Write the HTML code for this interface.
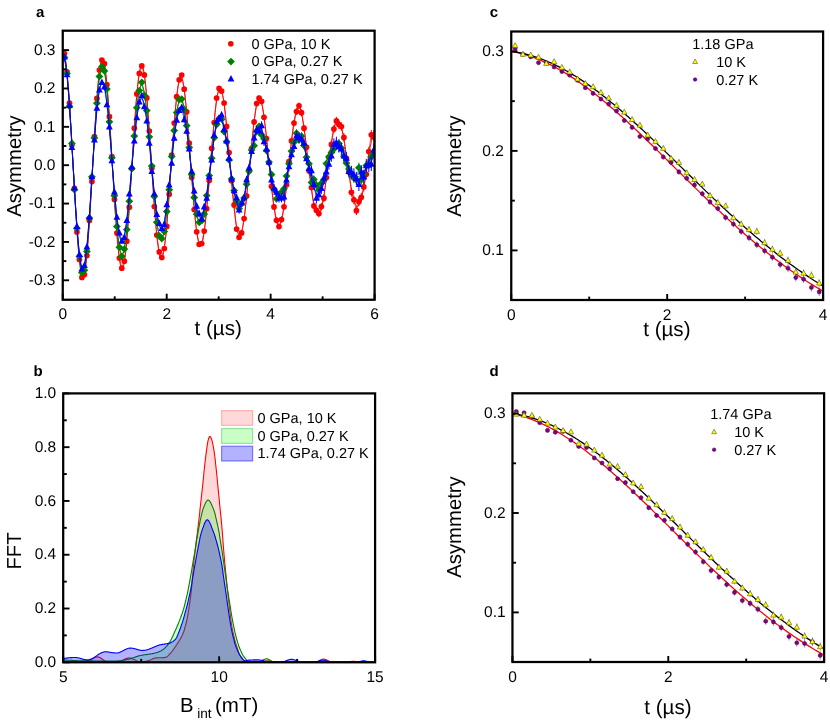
<!DOCTYPE html>
<html lang="en"><head><meta charset="utf-8"><title>muSR figure</title>
<style>html,body{margin:0;padding:0;background:#fff;}svg{display:block;will-change:transform;}text{font-family:"Liberation Sans",sans-serif;text-rendering:geometricPrecision;}</style></head>
<body>
<svg width="830" height="722" viewBox="0 0 830 722" font-family="Liberation Sans, sans-serif" fill="#000">
<rect width="830" height="722" fill="#fff"/>
<clipPath id="ca"><rect x="62.75" y="30.7" width="311.85" height="269.05"/></clipPath>
<g clip-path="url(#ca)">
<polyline points="64.5,53.6 67.0,71.8 69.5,103.2 71.9,145.0 74.4,188.3 76.9,231.9 79.4,259.5 81.9,277.4 84.4,274.6 86.9,255.6 89.4,220.6 91.9,181.6 94.4,136.6 96.9,98.4 99.4,70.0 101.9,60.0 104.4,63.7 106.9,84.7 109.4,116.7 111.9,156.5 114.4,199.4 116.9,233.0 119.4,258.0 121.8,268.2 124.3,261.2 126.8,241.2 129.3,207.2 131.8,168.5 134.3,128.2 136.8,93.9 139.3,73.4 141.8,65.9 144.3,74.9 146.8,97.9 149.3,131.0 151.8,168.3 154.3,206.6 156.8,235.1 159.3,251.9 161.8,257.5 164.3,248.5 166.8,226.4 169.2,194.2 171.7,155.1 174.2,123.0 176.7,96.7 179.2,79.8 181.7,75.0 184.2,89.2 186.7,111.8 189.2,143.2 191.7,177.6 194.2,209.5 196.7,231.8 199.2,244.3 201.7,243.5 204.2,231.1 206.7,208.7 209.2,180.6 211.7,148.4 214.2,122.5 216.6,98.0 219.1,88.4 221.6,91.1 224.1,103.0 226.6,126.4 229.1,152.5 231.6,180.7 234.1,204.9 236.6,229.1 239.1,237.3 241.6,232.9 244.1,218.6 246.6,196.0 249.1,170.9 251.6,148.5 254.1,121.9 256.6,103.6 259.1,98.2 261.6,101.3 264.0,117.3 266.5,138.5 269.0,162.5 271.5,186.3 274.0,206.9 276.5,220.3 279.0,226.5 281.5,219.5 284.0,206.8 286.5,184.8 289.0,161.5 291.5,140.9 294.0,123.1 296.5,111.6 299.0,105.8 301.5,112.7 304.0,128.2 306.5,147.2 309.0,170.7 311.5,187.5 313.9,205.9 316.4,210.3 318.9,213.6 321.4,206.6 323.9,198.2 326.4,177.6 328.9,157.2 331.4,144.4 333.9,129.1 336.4,120.9 338.9,124.6 341.4,126.5 343.9,137.4 346.4,158.4 348.9,171.9 351.4,192.3 353.9,199.8 356.4,210.7 358.9,201.7 361.3,197.3 363.8,186.9 366.3,174.3 368.8,151.5 371.3,134.8 373.8,137.1" fill="none" stroke="#ff0000" stroke-width="0.7" stroke-linejoin="round"/>
<polyline points="62.8,53.6 63.3,53.1 63.8,53.4 64.3,54.4 64.8,56.2 65.3,58.8 65.9,62.1 66.4,66.1 66.9,70.9 67.4,76.2 67.9,82.2 68.5,88.8 69.0,96.0 69.5,103.6 70.0,111.6 70.5,120.0 71.1,128.8 71.6,137.8 72.1,147.0 72.6,156.3 73.1,165.7 73.7,175.0 74.2,184.4 74.7,193.5 75.2,202.5 75.7,211.3 76.3,219.7 76.8,227.7 77.3,235.3 77.8,242.5 78.3,249.0 78.9,255.1 79.4,260.4 79.9,265.2 80.4,269.2 80.9,272.5 81.5,275.1 82.0,276.9 82.5,277.9 83.0,278.2 83.5,277.6 84.1,276.3 84.6,274.1 85.1,271.2 85.6,267.6 86.1,263.2 86.7,258.2 87.2,252.5 87.7,246.2 88.2,239.4 88.7,232.0 89.3,224.3 89.8,216.1 90.3,207.6 90.8,198.8 91.3,189.8 91.9,180.7 92.4,171.6 92.9,162.4 93.4,153.2 93.9,144.2 94.5,135.4 95.0,126.8 95.5,118.5 96.0,110.6 96.5,103.1 97.1,96.0 97.6,89.5 98.1,83.5 98.6,78.0 99.1,73.2 99.7,69.0 100.2,65.6 100.7,62.7 101.2,60.6 101.7,59.3 102.3,58.6 102.8,58.7 103.3,59.5 103.8,61.0 104.3,63.2 104.8,66.2 105.4,69.8 105.9,74.1 106.4,79.0 106.9,84.4 107.4,90.5 108.0,97.0 108.5,104.0 109.0,111.4 109.5,119.1 110.0,127.2 110.6,135.5 111.1,144.1 111.6,152.7 112.1,161.4 112.6,170.2 113.2,178.9 113.7,187.4 114.2,195.9 114.7,204.1 115.2,212.0 115.8,219.6 116.3,226.8 116.8,233.5 117.3,239.8 117.8,245.5 118.4,250.7 118.9,255.3 119.4,259.3 119.9,262.5 120.4,265.2 121.0,267.1 121.5,268.3 122.0,268.8 122.5,268.5 123.0,267.6 123.6,265.9 124.1,263.6 124.6,260.6 125.1,256.9 125.6,252.6 126.2,247.7 126.7,242.2 127.2,236.2 127.7,229.7 128.2,222.8 128.8,215.5 129.3,207.9 129.8,200.0 130.3,191.8 130.8,183.5 131.4,175.1 131.9,166.7 132.4,158.2 132.9,149.8 133.4,141.5 134.0,133.4 134.5,125.6 135.0,118.0 135.5,110.8 136.0,103.9 136.6,97.5 137.1,91.6 137.6,86.2 138.1,81.4 138.6,77.2 139.2,73.6 139.7,70.6 140.2,68.3 140.7,66.6 141.2,65.7 141.8,65.5 142.3,65.9 142.8,67.0 143.3,68.8 143.8,71.3 144.4,74.5 144.9,78.2 145.4,82.6 145.9,87.5 146.4,92.9 146.9,98.8 147.5,105.2 148.0,111.9 148.5,119.0 149.0,126.4 149.5,134.0 150.1,141.9 150.6,149.8 151.1,157.9 151.6,165.9 152.1,173.9 152.7,181.9 153.2,189.7 153.7,197.2 154.2,204.6 154.7,211.6 155.3,218.3 155.8,224.6 156.3,230.5 156.8,235.9 157.3,240.7 157.9,245.1 158.4,248.9 158.9,252.0 159.4,254.6 159.9,256.6 160.5,257.9 161.0,258.6 161.5,258.6 162.0,258.0 162.5,256.7 163.1,254.9 163.6,252.4 164.1,249.3 164.6,245.6 165.1,241.4 165.7,236.7 166.2,231.5 166.7,225.9 167.2,219.8 167.7,213.4 168.3,206.7 168.8,199.7 169.3,192.5 169.8,185.2 170.3,177.7 170.9,170.1 171.4,162.6 171.9,155.0 172.4,147.6 172.9,140.3 173.5,133.2 174.0,126.4 174.5,119.8 175.0,113.6 175.5,107.7 176.1,102.3 176.6,97.3 177.1,92.8 177.6,88.8 178.1,85.4 178.7,82.5 179.2,80.2 179.7,78.5 180.2,77.4 180.7,77.0 181.3,77.1 181.8,77.9 182.3,79.3 182.8,81.2 183.3,83.8 183.9,86.9 184.4,90.5 184.9,94.7 185.4,99.3 185.9,104.3 186.5,109.8 187.0,115.6 187.5,121.7 188.0,128.1 188.5,134.7 189.0,141.5 189.6,148.4 190.1,155.4 190.6,162.5 191.1,169.5 191.6,176.4 192.2,183.2 192.7,189.9 193.2,196.3 193.7,202.5 194.2,208.5 194.8,214.1 195.3,219.3 195.8,224.1 196.3,228.5 196.8,232.5 197.4,235.9 197.9,238.9 198.4,241.3 198.9,243.3 199.4,244.7 200.0,245.5 200.5,245.8 201.0,245.5 201.5,244.7 202.0,243.3 202.6,241.5 203.1,239.1 203.6,236.1 204.1,232.8 204.6,228.9 205.2,224.6 205.7,220.0 206.2,214.9 206.7,209.6 207.2,203.9 207.8,198.0 208.3,191.9 208.8,185.6 209.3,179.1 209.8,172.6 210.4,166.1 210.9,159.5 211.4,153.0 211.9,146.6 212.4,140.4 213.0,134.3 213.5,128.5 214.0,122.9 214.5,117.6 215.0,112.7 215.6,108.2 216.1,104.0 216.6,100.3 217.1,97.1 217.6,94.3 218.2,92.1 218.7,90.3 219.2,89.1 219.7,88.4 220.2,88.3 220.8,88.7 221.3,89.6 221.8,91.1 222.3,93.1 222.8,95.5 223.4,98.5 223.9,101.9 224.4,105.7 224.9,110.0 225.4,114.6 226.0,119.5 226.5,124.7 227.0,130.2 227.5,135.9 228.0,141.7 228.6,147.7 229.1,153.8 229.6,159.9 230.1,166.0 230.6,172.1 231.1,178.0 231.7,183.9 232.2,189.6 232.7,195.1 233.2,200.4 233.7,205.3 234.3,210.0 234.8,214.4 235.3,218.4 235.8,222.0 236.3,225.2 236.9,227.9 237.4,230.3 237.9,232.1 238.4,233.6 238.9,234.5 239.5,235.0 240.0,235.0 240.5,234.5 241.0,233.5 241.5,232.1 242.1,230.2 242.6,227.9 243.1,225.2 243.6,222.1 244.1,218.5 244.7,214.6 245.2,210.4 245.7,205.9 246.2,201.1 246.7,196.1 247.3,190.9 247.8,185.5 248.3,179.9 248.8,174.3 249.3,168.7 249.9,163.0 250.4,157.3 250.9,151.8 251.4,146.3 251.9,140.9 252.5,135.8 253.0,130.8 253.5,126.2 254.0,121.7 254.5,117.6 255.1,113.9 255.6,110.5 256.1,107.5 256.6,104.9 257.1,102.7 257.7,101.0 258.2,99.8 258.7,98.9 259.2,98.6 259.7,98.7 260.3,99.3 260.8,100.4 261.3,101.9 261.8,103.9 262.3,106.2 262.9,109.0 263.4,112.2 263.9,115.7 264.4,119.6 264.9,123.7 265.5,128.1 266.0,132.7 266.5,137.6 267.0,142.5 267.5,147.7 268.1,152.9 268.6,158.1 269.1,163.4 269.6,168.6 270.1,173.8 270.6,178.8 271.2,183.8 271.7,188.6 272.2,193.2 272.7,197.5 273.2,201.7 273.8,205.5 274.3,209.1 274.8,212.3 275.3,215.2 275.8,217.8 276.4,219.9 276.9,221.7 277.4,223.2 277.9,224.2 278.4,224.8 279.0,225.0 279.5,224.9 280.0,224.3 280.5,223.3 281.0,221.9 281.6,220.1 282.1,218.0 282.6,215.5 283.1,212.6 283.6,209.5 284.2,206.0 284.7,202.2 285.2,198.2 285.7,194.0 286.2,189.6 286.8,185.0 287.3,180.3 287.8,175.5 288.3,170.6 288.8,165.6 289.4,160.7 289.9,155.8 290.4,151.0 290.9,146.3 291.4,141.7 292.0,137.3 292.5,133.1 293.0,129.1 293.5,125.4 294.0,121.9 294.6,118.8 295.1,116.0 295.6,113.5 296.1,111.4 296.6,109.6 297.2,108.3 297.7,107.4 298.2,106.8 298.7,106.7 299.2,107.0 299.8,107.7 300.3,108.8 300.8,110.4 301.3,112.3 301.8,114.6 302.4,117.2 302.9,120.2 303.4,123.4 303.9,127.0 304.4,130.8 305.0,134.8 305.5,139.0 306.0,143.3 306.5,147.7 307.0,152.3 307.6,156.8 308.1,161.4 308.6,166.0 309.1,170.5 309.6,174.9 310.2,179.2 310.7,183.4 311.2,187.4 311.7,191.2 312.2,194.7 312.7,198.1 313.3,201.2 313.8,204.0 314.3,206.5 314.8,208.7 315.3,210.6 315.9,212.1 316.4,213.4 316.9,214.3 317.4,214.9 317.9,215.1 318.5,215.0 319.0,214.6 319.5,213.8 320.0,212.7 320.5,211.3 321.1,209.6 321.6,207.6 322.1,205.3 322.6,202.7 323.1,199.9 323.7,196.9 324.2,193.6 324.7,190.2 325.2,186.7 325.7,183.0 326.3,179.2 326.8,175.3 327.3,171.4 327.8,167.5 328.3,163.5 328.9,159.6 329.4,155.7 329.9,152.0 330.4,148.3 330.9,144.8 331.5,141.4 332.0,138.2 332.5,135.2 333.0,132.5 333.5,129.9 334.1,127.7 334.6,125.7 335.1,123.9 335.6,122.5 336.1,121.4 336.7,120.6 337.2,120.1 337.7,119.9 338.2,120.0 338.7,120.5 339.3,121.3 339.8,122.3 340.3,123.7 340.8,125.3 341.3,127.2 341.9,129.4 342.4,131.8 342.9,134.4 343.4,137.2 343.9,140.2 344.5,143.3 345.0,146.6 345.5,150.0 346.0,153.4 346.5,157.0 347.1,160.5 347.6,164.1 348.1,167.6 348.6,171.2 349.1,174.6 349.7,178.0 350.2,181.3 350.7,184.4 351.2,187.4 351.7,190.2 352.3,192.9 352.8,195.3 353.3,197.5 353.8,199.5 354.3,201.3 354.8,202.8 355.4,204.0 355.9,205.0 356.4,205.7 356.9,206.1 357.4,206.3 358.0,206.1 358.5,205.7 359.0,205.0 359.5,204.0 360.0,202.8 360.6,201.3 361.1,199.5 361.6,197.6 362.1,195.4 362.6,193.0 363.2,190.4 363.7,187.6 364.2,184.7 364.7,181.7 365.2,178.6 365.8,175.3 366.3,172.1 366.8,168.7 367.3,165.4 367.8,162.0 368.4,158.7 368.9,155.4 369.4,152.2 369.9,149.1 370.4,146.2 371.0,143.3 371.5,140.6 372.0,138.1 372.5,135.7 373.0,133.6 373.6,131.7 374.1,130.0 374.6,128.6" fill="none" stroke="#ff0000" stroke-width="0.95"/>
<path d="M141.8,64.3v3.2M144.3,73.3v3.2M146.8,96.3v3.3M149.3,129.3v3.3M151.8,166.7v3.4M154.3,204.9v3.4M156.8,233.3v3.4M159.3,250.2v3.5M161.8,255.7v3.5M164.3,246.7v3.6M166.8,224.6v3.6M169.2,192.4v3.7M171.7,153.3v3.7M174.2,121.1v3.7M176.7,94.8v3.8M179.2,77.8v3.8M181.7,73.0v3.9M184.2,87.3v3.9M186.7,109.8v4.0M189.2,141.1v4.0M191.7,175.5v4.1M194.2,207.5v4.1M196.7,229.7v4.2M199.2,242.2v4.2M201.7,241.3v4.3M204.2,229.0v4.3M206.7,206.5v4.4M209.2,178.4v4.4M211.7,146.2v4.5M214.2,120.2v4.5M216.6,95.7v4.6M219.1,86.1v4.6M221.6,88.7v4.7M224.1,100.6v4.8M226.6,124.0v4.8M229.1,150.0v4.9M231.6,178.3v4.9M234.1,202.4v5.0M236.6,226.5v5.1M239.1,234.7v5.1M241.6,230.3v5.2M244.1,216.0v5.2M246.6,193.4v5.3M249.1,168.2v5.4M251.6,145.8v5.4M254.1,119.2v5.5M256.6,100.8v5.6M259.1,95.4v5.6M261.6,98.5v5.7M264.0,114.4v5.8M266.5,135.5v5.8M269.0,159.5v5.9M271.5,183.3v6.0M274.0,203.9v6.1M276.5,217.2v6.1M279.0,223.4v6.2M281.5,216.4v6.3M284.0,203.6v6.4M286.5,181.6v6.4M289.0,158.2v6.5M291.5,137.6v6.6M294.0,119.8v6.7M296.5,108.2v6.7M299.0,102.4v6.8M301.5,109.3v6.9M304.0,124.7v7.0M306.5,143.6v7.1M309.0,167.1v7.2M311.5,183.9v7.2M313.9,202.2v7.3M316.4,206.6v7.4M318.9,209.8v7.5M321.4,202.8v7.6M323.9,194.4v7.7M326.4,173.7v7.8M328.9,153.2v7.9M331.4,140.4v8.0M333.9,125.0v8.1M336.4,116.8v8.2M338.9,120.5v8.3M341.4,122.3v8.4M343.9,133.1v8.5M346.4,154.2v8.6M348.9,167.5v8.7M351.4,187.9v8.8M353.9,195.4v8.9M356.4,206.2v9.0M358.9,197.1v9.1M361.3,192.7v9.2M363.8,182.2v9.3M366.3,169.5v9.4M368.8,146.8v9.5M371.3,130.0v9.7M373.8,132.2v9.8" stroke="#ff0000" stroke-width="1" fill="none"/>
<circle cx="64.5" cy="53.6" r="2.85" fill="#ff0000"/>
<circle cx="67.0" cy="71.8" r="2.85" fill="#ff0000"/>
<circle cx="69.5" cy="103.2" r="2.85" fill="#ff0000"/>
<circle cx="71.9" cy="145.0" r="2.85" fill="#ff0000"/>
<circle cx="74.4" cy="188.3" r="2.85" fill="#ff0000"/>
<circle cx="76.9" cy="231.9" r="2.85" fill="#ff0000"/>
<circle cx="79.4" cy="259.5" r="2.85" fill="#ff0000"/>
<circle cx="81.9" cy="277.4" r="2.85" fill="#ff0000"/>
<circle cx="84.4" cy="274.6" r="2.85" fill="#ff0000"/>
<circle cx="86.9" cy="255.6" r="2.85" fill="#ff0000"/>
<circle cx="89.4" cy="220.6" r="2.85" fill="#ff0000"/>
<circle cx="91.9" cy="181.6" r="2.85" fill="#ff0000"/>
<circle cx="94.4" cy="136.6" r="2.85" fill="#ff0000"/>
<circle cx="96.9" cy="98.4" r="2.85" fill="#ff0000"/>
<circle cx="99.4" cy="70.0" r="2.85" fill="#ff0000"/>
<circle cx="101.9" cy="60.0" r="2.85" fill="#ff0000"/>
<circle cx="104.4" cy="63.7" r="2.85" fill="#ff0000"/>
<circle cx="106.9" cy="84.7" r="2.85" fill="#ff0000"/>
<circle cx="109.4" cy="116.7" r="2.85" fill="#ff0000"/>
<circle cx="111.9" cy="156.5" r="2.85" fill="#ff0000"/>
<circle cx="114.4" cy="199.4" r="2.85" fill="#ff0000"/>
<circle cx="116.9" cy="233.0" r="2.85" fill="#ff0000"/>
<circle cx="119.4" cy="258.0" r="2.85" fill="#ff0000"/>
<circle cx="121.8" cy="268.2" r="2.85" fill="#ff0000"/>
<circle cx="124.3" cy="261.2" r="2.85" fill="#ff0000"/>
<circle cx="126.8" cy="241.2" r="2.85" fill="#ff0000"/>
<circle cx="129.3" cy="207.2" r="2.85" fill="#ff0000"/>
<circle cx="131.8" cy="168.5" r="2.85" fill="#ff0000"/>
<circle cx="134.3" cy="128.2" r="2.85" fill="#ff0000"/>
<circle cx="136.8" cy="93.9" r="2.85" fill="#ff0000"/>
<circle cx="139.3" cy="73.4" r="2.85" fill="#ff0000"/>
<circle cx="141.8" cy="65.9" r="2.85" fill="#ff0000"/>
<circle cx="144.3" cy="74.9" r="2.85" fill="#ff0000"/>
<circle cx="146.8" cy="97.9" r="2.85" fill="#ff0000"/>
<circle cx="149.3" cy="131.0" r="2.85" fill="#ff0000"/>
<circle cx="151.8" cy="168.3" r="2.85" fill="#ff0000"/>
<circle cx="154.3" cy="206.6" r="2.85" fill="#ff0000"/>
<circle cx="156.8" cy="235.1" r="2.85" fill="#ff0000"/>
<circle cx="159.3" cy="251.9" r="2.85" fill="#ff0000"/>
<circle cx="161.8" cy="257.5" r="2.85" fill="#ff0000"/>
<circle cx="164.3" cy="248.5" r="2.85" fill="#ff0000"/>
<circle cx="166.8" cy="226.4" r="2.85" fill="#ff0000"/>
<circle cx="169.2" cy="194.2" r="2.85" fill="#ff0000"/>
<circle cx="171.7" cy="155.1" r="2.85" fill="#ff0000"/>
<circle cx="174.2" cy="123.0" r="2.85" fill="#ff0000"/>
<circle cx="176.7" cy="96.7" r="2.85" fill="#ff0000"/>
<circle cx="179.2" cy="79.8" r="2.85" fill="#ff0000"/>
<circle cx="181.7" cy="75.0" r="2.85" fill="#ff0000"/>
<circle cx="184.2" cy="89.2" r="2.85" fill="#ff0000"/>
<circle cx="186.7" cy="111.8" r="2.85" fill="#ff0000"/>
<circle cx="189.2" cy="143.2" r="2.85" fill="#ff0000"/>
<circle cx="191.7" cy="177.6" r="2.85" fill="#ff0000"/>
<circle cx="194.2" cy="209.5" r="2.85" fill="#ff0000"/>
<circle cx="196.7" cy="231.8" r="2.85" fill="#ff0000"/>
<circle cx="199.2" cy="244.3" r="2.85" fill="#ff0000"/>
<circle cx="201.7" cy="243.5" r="2.85" fill="#ff0000"/>
<circle cx="204.2" cy="231.1" r="2.85" fill="#ff0000"/>
<circle cx="206.7" cy="208.7" r="2.85" fill="#ff0000"/>
<circle cx="209.2" cy="180.6" r="2.85" fill="#ff0000"/>
<circle cx="211.7" cy="148.4" r="2.85" fill="#ff0000"/>
<circle cx="214.2" cy="122.5" r="2.85" fill="#ff0000"/>
<circle cx="216.6" cy="98.0" r="2.85" fill="#ff0000"/>
<circle cx="219.1" cy="88.4" r="2.85" fill="#ff0000"/>
<circle cx="221.6" cy="91.1" r="2.85" fill="#ff0000"/>
<circle cx="224.1" cy="103.0" r="2.85" fill="#ff0000"/>
<circle cx="226.6" cy="126.4" r="2.85" fill="#ff0000"/>
<circle cx="229.1" cy="152.5" r="2.85" fill="#ff0000"/>
<circle cx="231.6" cy="180.7" r="2.85" fill="#ff0000"/>
<circle cx="234.1" cy="204.9" r="2.85" fill="#ff0000"/>
<circle cx="236.6" cy="229.1" r="2.85" fill="#ff0000"/>
<circle cx="239.1" cy="237.3" r="2.85" fill="#ff0000"/>
<circle cx="241.6" cy="232.9" r="2.85" fill="#ff0000"/>
<circle cx="244.1" cy="218.6" r="2.85" fill="#ff0000"/>
<circle cx="246.6" cy="196.0" r="2.85" fill="#ff0000"/>
<circle cx="249.1" cy="170.9" r="2.85" fill="#ff0000"/>
<circle cx="251.6" cy="148.5" r="2.85" fill="#ff0000"/>
<circle cx="254.1" cy="121.9" r="2.85" fill="#ff0000"/>
<circle cx="256.6" cy="103.6" r="2.85" fill="#ff0000"/>
<circle cx="259.1" cy="98.2" r="2.85" fill="#ff0000"/>
<circle cx="261.6" cy="101.3" r="2.85" fill="#ff0000"/>
<circle cx="264.0" cy="117.3" r="2.85" fill="#ff0000"/>
<circle cx="266.5" cy="138.5" r="2.85" fill="#ff0000"/>
<circle cx="269.0" cy="162.5" r="2.85" fill="#ff0000"/>
<circle cx="271.5" cy="186.3" r="2.85" fill="#ff0000"/>
<circle cx="274.0" cy="206.9" r="2.85" fill="#ff0000"/>
<circle cx="276.5" cy="220.3" r="2.85" fill="#ff0000"/>
<circle cx="279.0" cy="226.5" r="2.85" fill="#ff0000"/>
<circle cx="281.5" cy="219.5" r="2.85" fill="#ff0000"/>
<circle cx="284.0" cy="206.8" r="2.85" fill="#ff0000"/>
<circle cx="286.5" cy="184.8" r="2.85" fill="#ff0000"/>
<circle cx="289.0" cy="161.5" r="2.85" fill="#ff0000"/>
<circle cx="291.5" cy="140.9" r="2.85" fill="#ff0000"/>
<circle cx="294.0" cy="123.1" r="2.85" fill="#ff0000"/>
<circle cx="296.5" cy="111.6" r="2.85" fill="#ff0000"/>
<circle cx="299.0" cy="105.8" r="2.85" fill="#ff0000"/>
<circle cx="301.5" cy="112.7" r="2.85" fill="#ff0000"/>
<circle cx="304.0" cy="128.2" r="2.85" fill="#ff0000"/>
<circle cx="306.5" cy="147.2" r="2.85" fill="#ff0000"/>
<circle cx="309.0" cy="170.7" r="2.85" fill="#ff0000"/>
<circle cx="311.5" cy="187.5" r="2.85" fill="#ff0000"/>
<circle cx="313.9" cy="205.9" r="2.85" fill="#ff0000"/>
<circle cx="316.4" cy="210.3" r="2.85" fill="#ff0000"/>
<circle cx="318.9" cy="213.6" r="2.85" fill="#ff0000"/>
<circle cx="321.4" cy="206.6" r="2.85" fill="#ff0000"/>
<circle cx="323.9" cy="198.2" r="2.85" fill="#ff0000"/>
<circle cx="326.4" cy="177.6" r="2.85" fill="#ff0000"/>
<circle cx="328.9" cy="157.2" r="2.85" fill="#ff0000"/>
<circle cx="331.4" cy="144.4" r="2.85" fill="#ff0000"/>
<circle cx="333.9" cy="129.1" r="2.85" fill="#ff0000"/>
<circle cx="336.4" cy="120.9" r="2.85" fill="#ff0000"/>
<circle cx="338.9" cy="124.6" r="2.85" fill="#ff0000"/>
<circle cx="341.4" cy="126.5" r="2.85" fill="#ff0000"/>
<circle cx="343.9" cy="137.4" r="2.85" fill="#ff0000"/>
<circle cx="346.4" cy="158.4" r="2.85" fill="#ff0000"/>
<circle cx="348.9" cy="171.9" r="2.85" fill="#ff0000"/>
<circle cx="351.4" cy="192.3" r="2.85" fill="#ff0000"/>
<circle cx="353.9" cy="199.8" r="2.85" fill="#ff0000"/>
<circle cx="356.4" cy="210.7" r="2.85" fill="#ff0000"/>
<circle cx="358.9" cy="201.7" r="2.85" fill="#ff0000"/>
<circle cx="361.3" cy="197.3" r="2.85" fill="#ff0000"/>
<circle cx="363.8" cy="186.9" r="2.85" fill="#ff0000"/>
<circle cx="366.3" cy="174.3" r="2.85" fill="#ff0000"/>
<circle cx="368.8" cy="151.5" r="2.85" fill="#ff0000"/>
<circle cx="371.3" cy="134.8" r="2.85" fill="#ff0000"/>
<circle cx="373.8" cy="137.1" r="2.85" fill="#ff0000"/>
<polyline points="64.5,57.4 67.0,73.6 69.5,106.3 71.9,143.4 74.4,189.7 76.9,228.3 79.4,256.4 81.9,272.6 84.4,270.2 86.9,251.4 89.4,218.1 91.9,176.8 94.4,137.9 96.9,103.2 99.4,76.4 101.9,66.7 104.4,70.9 106.9,89.1 109.4,121.8 111.9,157.8 114.4,195.8 116.9,226.5 119.4,247.2 121.8,256.3 124.3,249.1 126.8,229.6 129.3,201.2 131.8,168.5 134.3,136.1 136.8,107.7 139.3,90.6 141.8,82.3 144.3,95.3 146.8,110.6 149.3,136.8 151.8,166.0 154.3,196.6 156.8,222.3 159.3,236.0 161.8,238.6 164.3,231.4 166.8,211.5 169.2,189.8 171.7,156.6 174.2,130.6 176.7,112.6 179.2,99.6 181.7,99.1 184.2,109.4 186.7,125.7 189.2,147.5 191.7,174.7 194.2,197.5 196.7,214.2 199.2,222.3 201.7,220.5 204.2,214.0 206.7,195.6 209.2,175.6 211.7,158.2 214.2,137.8 216.6,124.6 219.1,118.5 221.6,119.2 224.1,131.7 226.6,141.6 229.1,159.9 231.6,178.9 234.1,190.6 236.6,201.1 239.1,208.5 241.6,203.7 244.1,198.0 246.6,184.2 249.1,171.1 251.6,150.1 254.1,145.7 256.6,131.5 259.1,126.5 261.6,134.9 264.0,138.8 266.5,150.4 269.0,162.1 271.5,174.5 274.0,189.3 276.5,198.8 279.0,194.6 281.5,192.1 284.0,188.8 286.5,176.1 289.0,163.7 291.5,151.2 294.0,142.3 296.5,133.2 299.0,139.9 301.5,136.2 304.0,145.6 306.5,157.2 309.0,163.8 311.5,182.4 313.9,179.4 316.4,185.2 318.9,190.2 321.4,183.2 323.9,179.8 326.4,163.6 328.9,156.9 331.4,152.4 333.9,149.1 336.4,144.7 338.9,143.6 341.4,148.2 343.9,156.2 346.4,163.1 348.9,169.1 351.4,174.7 353.9,178.0 356.4,179.8 358.9,167.7 361.3,179.8 363.8,174.9 366.3,165.5 368.8,163.7 371.3,156.8 373.8,152.3" fill="none" stroke="#008000" stroke-width="0.7" stroke-linejoin="round"/>
<polyline points="62.8,55.6 63.3,55.1 63.8,55.4 64.3,56.5 64.8,58.4 65.3,61.0 65.9,64.3 66.4,68.3 66.9,73.0 67.4,78.3 67.9,84.3 68.5,90.7 69.0,97.7 69.5,105.2 70.0,113.1 70.5,121.3 71.1,129.8 71.6,138.6 72.1,147.5 72.6,156.6 73.1,165.6 73.7,174.7 74.2,183.7 74.7,192.6 75.2,201.2 75.7,209.6 76.3,217.6 76.8,225.3 77.3,232.6 77.8,239.4 78.3,245.6 78.9,251.3 79.4,256.3 79.9,260.8 80.4,264.5 80.9,267.6 81.5,269.9 82.0,271.6 82.5,272.4 83.0,272.6 83.5,272.0 84.1,270.6 84.6,268.5 85.1,265.7 85.6,262.2 86.1,258.0 86.7,253.2 87.2,247.7 87.7,241.8 88.2,235.3 88.7,228.3 89.3,220.9 89.8,213.2 90.3,205.2 90.8,196.9 91.3,188.4 91.9,179.8 92.4,171.2 92.9,162.5 93.4,153.9 93.9,145.4 94.5,137.1 95.0,129.1 95.5,121.3 96.0,113.8 96.5,106.8 97.1,100.2 97.6,94.1 98.1,88.5 98.6,83.4 99.1,78.9 99.7,75.1 100.2,71.9 100.7,69.4 101.2,67.5 101.7,66.3 102.3,65.8 102.8,66.0 103.3,66.9 103.8,68.4 104.3,70.6 104.8,73.5 105.4,77.0 105.9,81.1 106.4,85.7 106.9,90.9 107.4,96.5 108.0,102.7 108.5,109.2 109.0,116.0 109.5,123.2 110.0,130.6 110.6,138.3 111.1,146.0 111.6,153.9 112.1,161.8 112.6,169.7 113.2,177.5 113.7,185.2 114.2,192.7 114.7,200.0 115.2,206.9 115.8,213.6 116.3,219.9 116.8,225.8 117.3,231.2 117.8,236.2 118.4,240.6 118.9,244.5 119.4,247.8 119.9,250.5 120.4,252.6 121.0,254.1 121.5,255.0 122.0,255.2 122.5,254.8 123.0,253.8 123.6,252.2 124.1,250.0 124.6,247.2 125.1,243.9 125.6,240.0 126.2,235.7 126.7,230.8 127.2,225.6 127.7,220.0 128.2,214.0 128.8,207.7 129.3,201.2 129.8,194.4 130.3,187.6 130.8,180.5 131.4,173.5 131.9,166.4 132.4,159.4 132.9,152.4 133.4,145.6 134.0,139.0 134.5,132.5 135.0,126.4 135.5,120.5 136.0,115.0 136.6,109.9 137.1,105.2 137.6,100.9 138.1,97.1 138.6,93.8 139.2,91.0 139.7,88.7 140.2,87.0 140.7,85.8 141.2,85.1 141.8,85.0 142.3,85.5 142.8,86.4 143.3,88.0 143.8,90.0 144.4,92.6 144.9,95.6 145.4,99.1 145.9,103.1 146.4,107.4 146.9,112.2 147.5,117.3 148.0,122.7 148.5,128.3 149.0,134.2 149.5,140.3 150.1,146.6 150.6,152.9 151.1,159.3 151.6,165.8 152.1,172.2 152.7,178.5 153.2,184.7 153.7,190.8 154.2,196.7 154.7,202.3 155.3,207.6 155.8,212.7 156.3,217.3 156.8,221.6 157.3,225.5 157.9,229.0 158.4,232.0 158.9,234.5 159.4,236.6 159.9,238.1 160.5,239.1 161.0,239.6 161.5,239.6 162.0,239.0 162.5,238.0 163.1,236.4 163.6,234.4 164.1,231.9 164.6,228.9 165.1,225.5 165.7,221.7 166.2,217.5 166.7,213.0 167.2,208.2 167.7,203.1 168.3,197.8 168.8,192.3 169.3,186.6 169.8,180.8 170.3,174.9 170.9,169.0 171.4,163.1 171.9,157.3 172.4,151.6 172.9,145.9 173.5,140.5 174.0,135.2 174.5,130.2 175.0,125.5 175.5,121.0 176.1,116.9 176.6,113.2 177.1,109.8 177.6,106.9 178.1,104.3 178.7,102.2 179.2,100.6 179.7,99.4 180.2,98.7 180.7,98.4 181.3,98.6 181.8,99.3 182.3,100.4 182.8,101.9 183.3,103.9 183.9,106.3 184.4,109.1 184.9,112.2 185.4,115.7 185.9,119.5 186.5,123.6 187.0,128.0 187.5,132.6 188.0,137.4 188.5,142.4 189.0,147.5 189.6,152.7 190.1,157.9 190.6,163.1 191.1,168.4 191.6,173.6 192.2,178.6 192.7,183.6 193.2,188.4 193.7,193.0 194.2,197.4 194.8,201.5 195.3,205.3 195.8,208.9 196.3,212.1 196.8,214.9 197.4,217.4 197.9,219.5 198.4,221.2 198.9,222.5 199.4,223.4 200.0,223.9 200.5,224.0 201.0,223.6 201.5,222.8 202.0,221.7 202.6,220.1 203.1,218.2 203.6,215.9 204.1,213.3 204.6,210.3 205.2,207.1 205.7,203.6 206.2,199.9 206.7,196.0 207.2,191.9 207.8,187.7 208.3,183.4 208.8,179.0 209.3,174.6 209.8,170.2 210.4,165.8 210.9,161.4 211.4,157.2 211.9,153.0 212.4,149.0 213.0,145.1 213.5,141.5 214.0,138.0 214.5,134.8 215.0,131.8 215.6,129.1 216.1,126.7 216.6,124.5 217.1,122.7 217.6,121.1 218.2,119.9 218.7,119.0 219.2,118.4 219.7,118.1 220.2,118.1 220.8,118.5 221.3,119.1 221.8,120.1 222.3,121.4 222.8,122.9 223.4,124.8 223.9,126.9 224.4,129.2 224.9,131.8 225.4,134.6 226.0,137.6 226.5,140.7 227.0,144.0 227.5,147.5 228.0,151.0 228.6,154.6 229.1,158.3 229.6,162.0 230.1,165.7 230.6,169.4 231.1,173.0 231.7,176.5 232.2,180.0 232.7,183.3 233.2,186.5 233.7,189.6 234.3,192.4 234.8,195.1 235.3,197.5 235.8,199.7 236.3,201.6 236.9,203.3 237.4,204.7 237.9,205.8 238.4,206.6 238.9,207.2 239.5,207.4 240.0,207.4 240.5,207.0 241.0,206.4 241.5,205.4 242.1,204.3 242.6,202.8 243.1,201.1 243.6,199.1 244.1,197.0 244.7,194.6 245.2,192.0 245.7,189.3 246.2,186.4 246.7,183.4 247.3,180.3 247.8,177.1 248.3,173.8 248.8,170.5 249.3,167.2 249.9,163.9 250.4,160.6 250.9,157.4 251.4,154.3 251.9,151.2 252.5,148.3 253.0,145.5 253.5,142.9 254.0,140.4 254.5,138.1 255.1,136.0 255.6,134.2 256.1,132.6 256.6,131.2 257.1,130.0 257.7,129.1 258.2,128.5 258.7,128.1 259.2,128.0 259.7,128.1 260.3,128.5 260.8,129.1 261.3,130.0 261.8,131.1 262.3,132.5 262.9,134.1 263.4,135.8 263.9,137.8 264.4,139.9 264.9,142.2 265.5,144.7 266.0,147.3 266.5,149.9 267.0,152.7 267.5,155.5 268.1,158.4 268.6,161.3 269.1,164.2 269.6,167.1 270.1,169.9 270.6,172.7 271.2,175.4 271.7,178.1 272.2,180.6 272.7,183.0 273.2,185.3 273.8,187.4 274.3,189.3 274.8,191.1 275.3,192.7 275.8,194.1 276.4,195.2 276.9,196.2 277.4,196.9 277.9,197.5 278.4,197.7 279.0,197.8 279.5,197.7 280.0,197.3 280.5,196.7 281.0,195.9 281.6,194.9 282.1,193.7 282.6,192.3 283.1,190.7 283.6,189.0 284.2,187.1 284.7,185.0 285.2,182.9 285.7,180.6 286.2,178.2 286.8,175.7 287.3,173.2 287.8,170.6 288.3,168.0 288.8,165.4 289.4,162.8 289.9,160.3 290.4,157.7 290.9,155.3 291.4,152.9 292.0,150.6 292.5,148.4 293.0,146.3 293.5,144.4 294.0,142.6 294.6,141.0 295.1,139.6 295.6,138.4 296.1,137.4 296.6,136.5 297.2,135.9 297.7,135.5 298.2,135.3 298.7,135.3 299.2,135.5 299.8,136.0 300.3,136.6 300.8,137.5 301.3,138.6 301.8,139.9 302.4,141.3 302.9,142.9 303.4,144.6 303.9,146.5 304.4,148.4 305.0,150.4 305.5,152.6 306.0,154.7 306.5,156.9 307.0,159.1 307.6,161.3 308.1,163.4 308.6,165.6 309.1,167.6 309.6,169.6 310.2,171.6 310.7,173.4 311.2,175.2 311.7,176.8 312.2,178.4 312.7,179.8 313.3,181.1 313.8,182.3 314.3,183.3 314.8,184.2 315.3,185.0 315.9,185.7 316.4,186.2 316.9,186.6 317.4,186.9 317.9,187.0 318.5,187.1 319.0,186.9 319.5,186.7 320.0,186.3 320.5,185.7 321.1,185.0 321.6,184.2 322.1,183.2 322.6,182.2 323.1,181.0 323.7,179.6 324.2,178.2 324.7,176.7 325.2,175.1 325.7,173.5 326.3,171.7 326.8,169.9 327.3,168.1 327.8,166.3 328.3,164.4 328.9,162.5 329.4,160.7 329.9,158.8 330.4,157.0 330.9,155.3 331.5,153.6 332.0,152.0 332.5,150.5 333.0,149.1 333.5,147.7 334.1,146.6 334.6,145.5 335.1,144.6 335.6,143.8 336.1,143.1 336.7,142.7 337.2,142.4 337.7,142.2 338.2,142.2 338.7,142.4 339.3,142.8 339.8,143.5 340.3,144.2 340.8,145.2 341.3,146.3 341.9,147.6 342.4,148.9 342.9,150.4 343.4,151.9 343.9,153.5 344.5,155.1 345.0,156.8 345.5,158.5 346.0,160.1 346.5,161.7 347.1,163.3 347.6,164.7 348.1,166.2 348.6,167.5 349.1,168.8 349.7,169.9 350.2,171.0 350.7,171.9 351.2,172.8 351.7,173.5 352.3,174.2 352.8,174.8 353.3,175.2 353.8,175.6 354.3,175.9 354.8,176.2 355.4,176.4 355.9,176.5 356.4,176.6 356.9,176.7 357.4,176.7 358.0,176.7 358.5,176.6 359.0,176.4 359.5,176.1 360.0,175.8 360.6,175.4 361.1,174.9 361.6,174.4 362.1,173.7 362.6,173.1 363.2,172.3 363.7,171.6 364.2,170.8 364.7,169.9 365.2,169.0 365.8,168.1 366.3,167.2 366.8,166.2 367.3,165.2 367.8,164.3 368.4,163.3 368.9,162.4 369.4,161.5 369.9,160.6 370.4,159.7 371.0,158.9 371.5,158.1 372.0,157.4 372.5,156.7 373.0,156.1 373.6,155.5 374.1,155.1 374.6,154.6" fill="none" stroke="#008000" stroke-width="0.95"/>
<path d="M124.3,247.5v3.2M126.8,227.9v3.3M129.3,199.6v3.3M131.8,166.8v3.3M134.3,134.4v3.4M136.8,106.0v3.4M139.3,88.9v3.5M141.8,80.6v3.5M144.3,93.5v3.5M146.8,108.8v3.6M149.3,135.0v3.6M151.8,164.1v3.7M154.3,194.7v3.7M156.8,220.5v3.8M159.3,234.1v3.8M161.8,236.7v3.8M164.3,229.5v3.9M166.8,209.5v3.9M169.2,187.8v4.0M171.7,154.6v4.0M174.2,128.6v4.1M176.7,110.6v4.1M179.2,97.5v4.2M181.7,97.0v4.2M184.2,107.3v4.3M186.7,123.5v4.3M189.2,145.3v4.4M191.7,172.4v4.4M194.2,195.3v4.5M196.7,212.0v4.6M199.2,220.0v4.6M201.7,218.1v4.7M204.2,211.7v4.7M206.7,193.2v4.8M209.2,173.2v4.8M211.7,155.8v4.9M214.2,135.3v5.0M216.6,122.1v5.0M219.1,116.0v5.1M221.6,116.6v5.1M224.1,129.1v5.2M226.6,139.0v5.3M229.1,157.2v5.3M231.6,176.2v5.4M234.1,187.9v5.4M236.6,198.3v5.5M239.1,205.8v5.6M241.6,200.9v5.6M244.1,195.1v5.7M246.6,181.3v5.8M249.1,168.2v5.9M251.6,147.1v5.9M254.1,142.7v6.0M256.6,128.4v6.1M259.1,123.4v6.1M261.6,131.8v6.2M264.0,135.7v6.3M266.5,147.2v6.4M269.0,158.8v6.4M271.5,171.2v6.5M274.0,186.0v6.6M276.5,195.4v6.7M279.0,191.2v6.8M281.5,188.7v6.8M284.0,185.3v6.9M286.5,172.6v7.0M289.0,160.2v7.1M291.5,147.6v7.2M294.0,138.7v7.3M296.5,129.5v7.4M299.0,136.1v7.4M301.5,132.5v7.5M304.0,141.8v7.6M306.5,153.4v7.7M309.0,159.9v7.8M311.5,178.5v7.9M313.9,175.4v8.0M316.4,181.1v8.1M318.9,186.1v8.2M321.4,179.1v8.3M323.9,175.6v8.4M326.4,159.3v8.5M328.9,152.6v8.6M331.4,148.1v8.7M333.9,144.7v8.8M336.4,140.2v8.9M338.9,139.0v9.0M341.4,143.6v9.1M343.9,151.6v9.2M346.4,158.5v9.4M348.9,164.3v9.5M351.4,169.9v9.6M353.9,173.2v9.7M356.4,174.9v9.8M358.9,162.7v9.9M361.3,174.7v10.0M363.8,169.8v10.2M366.3,160.4v10.3M368.8,158.5v10.4M371.3,151.5v10.5M373.8,147.0v10.7" stroke="#008000" stroke-width="1" fill="none"/>
<path d="M64.5,53.5l3.9,3.9l-3.9,3.9l-3.9,-3.9z" fill="#008000"/>
<path d="M67.0,69.7l3.9,3.9l-3.9,3.9l-3.9,-3.9z" fill="#008000"/>
<path d="M69.5,102.4l3.9,3.9l-3.9,3.9l-3.9,-3.9z" fill="#008000"/>
<path d="M71.9,139.5l3.9,3.9l-3.9,3.9l-3.9,-3.9z" fill="#008000"/>
<path d="M74.4,185.8l3.9,3.9l-3.9,3.9l-3.9,-3.9z" fill="#008000"/>
<path d="M76.9,224.4l3.9,3.9l-3.9,3.9l-3.9,-3.9z" fill="#008000"/>
<path d="M79.4,252.5l3.9,3.9l-3.9,3.9l-3.9,-3.9z" fill="#008000"/>
<path d="M81.9,268.7l3.9,3.9l-3.9,3.9l-3.9,-3.9z" fill="#008000"/>
<path d="M84.4,266.3l3.9,3.9l-3.9,3.9l-3.9,-3.9z" fill="#008000"/>
<path d="M86.9,247.5l3.9,3.9l-3.9,3.9l-3.9,-3.9z" fill="#008000"/>
<path d="M89.4,214.2l3.9,3.9l-3.9,3.9l-3.9,-3.9z" fill="#008000"/>
<path d="M91.9,172.9l3.9,3.9l-3.9,3.9l-3.9,-3.9z" fill="#008000"/>
<path d="M94.4,134.0l3.9,3.9l-3.9,3.9l-3.9,-3.9z" fill="#008000"/>
<path d="M96.9,99.3l3.9,3.9l-3.9,3.9l-3.9,-3.9z" fill="#008000"/>
<path d="M99.4,72.5l3.9,3.9l-3.9,3.9l-3.9,-3.9z" fill="#008000"/>
<path d="M101.9,62.8l3.9,3.9l-3.9,3.9l-3.9,-3.9z" fill="#008000"/>
<path d="M104.4,67.0l3.9,3.9l-3.9,3.9l-3.9,-3.9z" fill="#008000"/>
<path d="M106.9,85.2l3.9,3.9l-3.9,3.9l-3.9,-3.9z" fill="#008000"/>
<path d="M109.4,117.9l3.9,3.9l-3.9,3.9l-3.9,-3.9z" fill="#008000"/>
<path d="M111.9,153.9l3.9,3.9l-3.9,3.9l-3.9,-3.9z" fill="#008000"/>
<path d="M114.4,191.9l3.9,3.9l-3.9,3.9l-3.9,-3.9z" fill="#008000"/>
<path d="M116.9,222.6l3.9,3.9l-3.9,3.9l-3.9,-3.9z" fill="#008000"/>
<path d="M119.4,243.3l3.9,3.9l-3.9,3.9l-3.9,-3.9z" fill="#008000"/>
<path d="M121.8,252.4l3.9,3.9l-3.9,3.9l-3.9,-3.9z" fill="#008000"/>
<path d="M124.3,245.2l3.9,3.9l-3.9,3.9l-3.9,-3.9z" fill="#008000"/>
<path d="M126.8,225.7l3.9,3.9l-3.9,3.9l-3.9,-3.9z" fill="#008000"/>
<path d="M129.3,197.3l3.9,3.9l-3.9,3.9l-3.9,-3.9z" fill="#008000"/>
<path d="M131.8,164.6l3.9,3.9l-3.9,3.9l-3.9,-3.9z" fill="#008000"/>
<path d="M134.3,132.2l3.9,3.9l-3.9,3.9l-3.9,-3.9z" fill="#008000"/>
<path d="M136.8,103.8l3.9,3.9l-3.9,3.9l-3.9,-3.9z" fill="#008000"/>
<path d="M139.3,86.7l3.9,3.9l-3.9,3.9l-3.9,-3.9z" fill="#008000"/>
<path d="M141.8,78.4l3.9,3.9l-3.9,3.9l-3.9,-3.9z" fill="#008000"/>
<path d="M144.3,91.4l3.9,3.9l-3.9,3.9l-3.9,-3.9z" fill="#008000"/>
<path d="M146.8,106.7l3.9,3.9l-3.9,3.9l-3.9,-3.9z" fill="#008000"/>
<path d="M149.3,132.9l3.9,3.9l-3.9,3.9l-3.9,-3.9z" fill="#008000"/>
<path d="M151.8,162.1l3.9,3.9l-3.9,3.9l-3.9,-3.9z" fill="#008000"/>
<path d="M154.3,192.7l3.9,3.9l-3.9,3.9l-3.9,-3.9z" fill="#008000"/>
<path d="M156.8,218.4l3.9,3.9l-3.9,3.9l-3.9,-3.9z" fill="#008000"/>
<path d="M159.3,232.1l3.9,3.9l-3.9,3.9l-3.9,-3.9z" fill="#008000"/>
<path d="M161.8,234.7l3.9,3.9l-3.9,3.9l-3.9,-3.9z" fill="#008000"/>
<path d="M164.3,227.5l3.9,3.9l-3.9,3.9l-3.9,-3.9z" fill="#008000"/>
<path d="M166.8,207.6l3.9,3.9l-3.9,3.9l-3.9,-3.9z" fill="#008000"/>
<path d="M169.2,185.9l3.9,3.9l-3.9,3.9l-3.9,-3.9z" fill="#008000"/>
<path d="M171.7,152.7l3.9,3.9l-3.9,3.9l-3.9,-3.9z" fill="#008000"/>
<path d="M174.2,126.7l3.9,3.9l-3.9,3.9l-3.9,-3.9z" fill="#008000"/>
<path d="M176.7,108.7l3.9,3.9l-3.9,3.9l-3.9,-3.9z" fill="#008000"/>
<path d="M179.2,95.7l3.9,3.9l-3.9,3.9l-3.9,-3.9z" fill="#008000"/>
<path d="M181.7,95.2l3.9,3.9l-3.9,3.9l-3.9,-3.9z" fill="#008000"/>
<path d="M184.2,105.5l3.9,3.9l-3.9,3.9l-3.9,-3.9z" fill="#008000"/>
<path d="M186.7,121.8l3.9,3.9l-3.9,3.9l-3.9,-3.9z" fill="#008000"/>
<path d="M189.2,143.6l3.9,3.9l-3.9,3.9l-3.9,-3.9z" fill="#008000"/>
<path d="M191.7,170.8l3.9,3.9l-3.9,3.9l-3.9,-3.9z" fill="#008000"/>
<path d="M194.2,193.6l3.9,3.9l-3.9,3.9l-3.9,-3.9z" fill="#008000"/>
<path d="M196.7,210.3l3.9,3.9l-3.9,3.9l-3.9,-3.9z" fill="#008000"/>
<path d="M199.2,218.4l3.9,3.9l-3.9,3.9l-3.9,-3.9z" fill="#008000"/>
<path d="M201.7,216.6l3.9,3.9l-3.9,3.9l-3.9,-3.9z" fill="#008000"/>
<path d="M204.2,210.1l3.9,3.9l-3.9,3.9l-3.9,-3.9z" fill="#008000"/>
<path d="M206.7,191.7l3.9,3.9l-3.9,3.9l-3.9,-3.9z" fill="#008000"/>
<path d="M209.2,171.7l3.9,3.9l-3.9,3.9l-3.9,-3.9z" fill="#008000"/>
<path d="M211.7,154.3l3.9,3.9l-3.9,3.9l-3.9,-3.9z" fill="#008000"/>
<path d="M214.2,133.9l3.9,3.9l-3.9,3.9l-3.9,-3.9z" fill="#008000"/>
<path d="M216.6,120.7l3.9,3.9l-3.9,3.9l-3.9,-3.9z" fill="#008000"/>
<path d="M219.1,114.6l3.9,3.9l-3.9,3.9l-3.9,-3.9z" fill="#008000"/>
<path d="M221.6,115.3l3.9,3.9l-3.9,3.9l-3.9,-3.9z" fill="#008000"/>
<path d="M224.1,127.8l3.9,3.9l-3.9,3.9l-3.9,-3.9z" fill="#008000"/>
<path d="M226.6,137.7l3.9,3.9l-3.9,3.9l-3.9,-3.9z" fill="#008000"/>
<path d="M229.1,156.0l3.9,3.9l-3.9,3.9l-3.9,-3.9z" fill="#008000"/>
<path d="M231.6,175.0l3.9,3.9l-3.9,3.9l-3.9,-3.9z" fill="#008000"/>
<path d="M234.1,186.7l3.9,3.9l-3.9,3.9l-3.9,-3.9z" fill="#008000"/>
<path d="M236.6,197.2l3.9,3.9l-3.9,3.9l-3.9,-3.9z" fill="#008000"/>
<path d="M239.1,204.6l3.9,3.9l-3.9,3.9l-3.9,-3.9z" fill="#008000"/>
<path d="M241.6,199.8l3.9,3.9l-3.9,3.9l-3.9,-3.9z" fill="#008000"/>
<path d="M244.1,194.1l3.9,3.9l-3.9,3.9l-3.9,-3.9z" fill="#008000"/>
<path d="M246.6,180.3l3.9,3.9l-3.9,3.9l-3.9,-3.9z" fill="#008000"/>
<path d="M249.1,167.2l3.9,3.9l-3.9,3.9l-3.9,-3.9z" fill="#008000"/>
<path d="M251.6,146.2l3.9,3.9l-3.9,3.9l-3.9,-3.9z" fill="#008000"/>
<path d="M254.1,141.8l3.9,3.9l-3.9,3.9l-3.9,-3.9z" fill="#008000"/>
<path d="M256.6,127.6l3.9,3.9l-3.9,3.9l-3.9,-3.9z" fill="#008000"/>
<path d="M259.1,122.6l3.9,3.9l-3.9,3.9l-3.9,-3.9z" fill="#008000"/>
<path d="M261.6,131.0l3.9,3.9l-3.9,3.9l-3.9,-3.9z" fill="#008000"/>
<path d="M264.0,134.9l3.9,3.9l-3.9,3.9l-3.9,-3.9z" fill="#008000"/>
<path d="M266.5,146.5l3.9,3.9l-3.9,3.9l-3.9,-3.9z" fill="#008000"/>
<path d="M269.0,158.2l3.9,3.9l-3.9,3.9l-3.9,-3.9z" fill="#008000"/>
<path d="M271.5,170.6l3.9,3.9l-3.9,3.9l-3.9,-3.9z" fill="#008000"/>
<path d="M274.0,185.4l3.9,3.9l-3.9,3.9l-3.9,-3.9z" fill="#008000"/>
<path d="M276.5,194.9l3.9,3.9l-3.9,3.9l-3.9,-3.9z" fill="#008000"/>
<path d="M279.0,190.7l3.9,3.9l-3.9,3.9l-3.9,-3.9z" fill="#008000"/>
<path d="M281.5,188.2l3.9,3.9l-3.9,3.9l-3.9,-3.9z" fill="#008000"/>
<path d="M284.0,184.9l3.9,3.9l-3.9,3.9l-3.9,-3.9z" fill="#008000"/>
<path d="M286.5,172.2l3.9,3.9l-3.9,3.9l-3.9,-3.9z" fill="#008000"/>
<path d="M289.0,159.8l3.9,3.9l-3.9,3.9l-3.9,-3.9z" fill="#008000"/>
<path d="M291.5,147.3l3.9,3.9l-3.9,3.9l-3.9,-3.9z" fill="#008000"/>
<path d="M294.0,138.4l3.9,3.9l-3.9,3.9l-3.9,-3.9z" fill="#008000"/>
<path d="M296.5,129.3l3.9,3.9l-3.9,3.9l-3.9,-3.9z" fill="#008000"/>
<path d="M299.0,136.0l3.9,3.9l-3.9,3.9l-3.9,-3.9z" fill="#008000"/>
<path d="M301.5,132.3l3.9,3.9l-3.9,3.9l-3.9,-3.9z" fill="#008000"/>
<path d="M304.0,141.7l3.9,3.9l-3.9,3.9l-3.9,-3.9z" fill="#008000"/>
<path d="M306.5,153.3l3.9,3.9l-3.9,3.9l-3.9,-3.9z" fill="#008000"/>
<path d="M309.0,159.9l3.9,3.9l-3.9,3.9l-3.9,-3.9z" fill="#008000"/>
<path d="M311.5,178.5l3.9,3.9l-3.9,3.9l-3.9,-3.9z" fill="#008000"/>
<path d="M313.9,175.5l3.9,3.9l-3.9,3.9l-3.9,-3.9z" fill="#008000"/>
<path d="M316.4,181.3l3.9,3.9l-3.9,3.9l-3.9,-3.9z" fill="#008000"/>
<path d="M318.9,186.3l3.9,3.9l-3.9,3.9l-3.9,-3.9z" fill="#008000"/>
<path d="M321.4,179.3l3.9,3.9l-3.9,3.9l-3.9,-3.9z" fill="#008000"/>
<path d="M323.9,175.9l3.9,3.9l-3.9,3.9l-3.9,-3.9z" fill="#008000"/>
<path d="M326.4,159.7l3.9,3.9l-3.9,3.9l-3.9,-3.9z" fill="#008000"/>
<path d="M328.9,153.0l3.9,3.9l-3.9,3.9l-3.9,-3.9z" fill="#008000"/>
<path d="M331.4,148.5l3.9,3.9l-3.9,3.9l-3.9,-3.9z" fill="#008000"/>
<path d="M333.9,145.2l3.9,3.9l-3.9,3.9l-3.9,-3.9z" fill="#008000"/>
<path d="M336.4,140.8l3.9,3.9l-3.9,3.9l-3.9,-3.9z" fill="#008000"/>
<path d="M338.9,139.7l3.9,3.9l-3.9,3.9l-3.9,-3.9z" fill="#008000"/>
<path d="M341.4,144.3l3.9,3.9l-3.9,3.9l-3.9,-3.9z" fill="#008000"/>
<path d="M343.9,152.3l3.9,3.9l-3.9,3.9l-3.9,-3.9z" fill="#008000"/>
<path d="M346.4,159.2l3.9,3.9l-3.9,3.9l-3.9,-3.9z" fill="#008000"/>
<path d="M348.9,165.2l3.9,3.9l-3.9,3.9l-3.9,-3.9z" fill="#008000"/>
<path d="M351.4,170.8l3.9,3.9l-3.9,3.9l-3.9,-3.9z" fill="#008000"/>
<path d="M353.9,174.1l3.9,3.9l-3.9,3.9l-3.9,-3.9z" fill="#008000"/>
<path d="M356.4,175.9l3.9,3.9l-3.9,3.9l-3.9,-3.9z" fill="#008000"/>
<path d="M358.9,163.8l3.9,3.9l-3.9,3.9l-3.9,-3.9z" fill="#008000"/>
<path d="M361.3,175.9l3.9,3.9l-3.9,3.9l-3.9,-3.9z" fill="#008000"/>
<path d="M363.8,171.0l3.9,3.9l-3.9,3.9l-3.9,-3.9z" fill="#008000"/>
<path d="M366.3,161.6l3.9,3.9l-3.9,3.9l-3.9,-3.9z" fill="#008000"/>
<path d="M368.8,159.8l3.9,3.9l-3.9,3.9l-3.9,-3.9z" fill="#008000"/>
<path d="M371.3,152.9l3.9,3.9l-3.9,3.9l-3.9,-3.9z" fill="#008000"/>
<path d="M373.8,148.4l3.9,3.9l-3.9,3.9l-3.9,-3.9z" fill="#008000"/>
<polyline points="64.5,56.9 67.0,74.7 69.5,105.5 71.9,147.4 74.4,188.0 76.9,226.4 79.4,254.4 81.9,268.9 84.4,265.5 86.9,247.0 89.4,216.8 91.9,176.7 94.4,139.8 96.9,108.1 99.4,89.9 101.9,82.4 104.4,87.0 106.9,104.7 109.4,126.9 111.9,160.6 114.4,191.9 116.9,217.2 119.4,232.8 121.8,241.2 124.3,237.5 126.8,220.4 129.3,194.0 131.8,167.0 134.3,140.8 136.8,117.7 139.3,102.0 141.8,95.6 144.3,106.7 146.8,120.9 149.3,143.2 151.8,171.4 154.3,193.7 156.8,214.3 159.3,223.3 161.8,228.5 164.3,224.3 166.8,204.6 169.2,184.8 171.7,163.1 174.2,138.2 176.7,120.2 179.2,110.5 181.7,107.4 184.2,119.7 186.7,131.1 189.2,148.9 191.7,171.3 194.2,191.0 196.7,206.2 199.2,213.6 201.7,219.1 204.2,206.8 206.7,198.2 209.2,176.7 211.7,159.8 214.2,135.2 216.6,121.4 219.1,118.5 221.6,115.0 224.1,129.1 226.6,141.0 229.1,158.2 231.6,178.9 234.1,190.6 236.6,197.6 239.1,209.9 241.6,203.0 244.1,197.7 246.6,179.7 249.1,167.6 251.6,151.3 254.1,137.8 256.6,129.7 259.1,130.9 261.6,125.6 264.0,141.7 266.5,149.1 269.0,162.0 271.5,180.0 274.0,188.2 276.5,192.2 279.0,198.0 281.5,197.9 284.0,196.9 286.5,180.0 289.0,166.6 291.5,154.6 294.0,146.5 296.5,135.9 299.0,137.5 301.5,138.8 304.0,143.1 306.5,158.7 309.0,168.4 311.5,170.7 313.9,184.5 316.4,198.1 318.9,194.7 321.4,188.4 323.9,177.9 326.4,171.9 328.9,164.1 331.4,155.9 333.9,144.2 336.4,142.7 338.9,146.6 341.4,148.9 343.9,155.9 346.4,158.1 348.9,171.4 351.4,172.2 353.9,174.7 356.4,178.5 358.9,184.4 361.3,171.9 363.8,176.8 366.3,165.7 368.8,165.1 371.3,164.1 373.8,149.9" fill="none" stroke="#0000ff" stroke-width="0.7" stroke-linejoin="round"/>
<polyline points="62.8,57.5 63.3,57.0 63.8,57.4 64.3,58.4 64.8,60.3 65.3,62.8 65.9,66.1 66.4,70.0 66.9,74.7 67.4,79.9 67.9,85.8 68.5,92.1 69.0,99.0 69.5,106.4 70.0,114.1 70.5,122.2 71.1,130.5 71.6,139.1 72.1,147.9 72.6,156.7 73.1,165.6 73.7,174.5 74.2,183.3 74.7,191.9 75.2,200.4 75.7,208.5 76.3,216.4 76.8,223.8 77.3,230.9 77.8,237.4 78.3,243.5 78.9,249.0 79.4,253.8 79.9,258.1 80.4,261.7 80.9,264.6 81.5,266.8 82.0,268.3 82.5,269.1 83.0,269.1 83.5,268.4 84.1,266.9 84.6,264.7 85.1,261.8 85.6,258.2 86.1,253.9 86.7,249.1 87.2,243.6 87.7,237.7 88.2,231.3 88.7,224.5 89.3,217.4 89.8,209.9 90.3,202.3 90.8,194.4 91.3,186.5 91.9,178.6 92.4,170.6 92.9,162.8 93.4,155.1 93.9,147.5 94.5,140.2 95.0,133.2 95.5,126.5 96.0,120.2 96.5,114.2 97.1,108.7 97.6,103.7 98.1,99.1 98.6,95.1 99.1,91.6 99.7,88.6 100.2,86.1 100.7,84.2 101.2,82.8 101.7,82.0 102.3,81.7 102.8,81.9 103.3,82.7 103.8,84.1 104.3,86.0 104.8,88.4 105.4,91.4 105.9,94.8 106.4,98.7 106.9,103.0 107.4,107.8 108.0,112.9 108.5,118.3 109.0,124.0 109.5,130.0 110.0,136.2 110.6,142.6 111.1,149.1 111.6,155.7 112.1,162.3 112.6,169.0 113.2,175.5 113.7,182.0 114.2,188.3 114.7,194.5 115.2,200.4 115.8,206.1 116.3,211.4 116.8,216.4 117.3,221.0 117.8,225.3 118.4,229.0 118.9,232.3 119.4,235.2 119.9,237.5 120.4,239.3 121.0,240.6 121.5,241.4 122.0,241.6 122.5,241.3 123.0,240.4 123.6,239.0 124.1,237.1 124.6,234.7 125.1,231.8 125.6,228.5 126.2,224.8 126.7,220.7 127.2,216.2 127.7,211.4 128.2,206.3 128.8,201.0 129.3,195.5 129.8,189.8 130.3,184.0 130.8,178.1 131.4,172.1 131.9,166.2 132.4,160.3 132.9,154.5 133.4,148.9 134.0,143.3 134.5,138.0 135.0,132.9 135.5,128.1 136.0,123.6 136.6,119.4 137.1,115.5 137.6,112.0 138.1,108.9 138.6,106.1 139.2,103.8 139.7,101.9 140.2,100.5 140.7,99.5 141.2,98.9 141.8,98.8 142.3,99.2 142.8,99.9 143.3,101.2 143.8,102.8 144.4,104.9 144.9,107.4 145.4,110.3 145.9,113.5 146.4,117.1 146.9,121.0 147.5,125.2 148.0,129.7 148.5,134.4 149.0,139.3 149.5,144.4 150.1,149.6 150.6,154.9 151.1,160.3 151.6,165.7 152.1,171.1 152.7,176.4 153.2,181.6 153.7,186.7 154.2,191.7 154.7,196.4 155.3,201.0 155.8,205.2 156.3,209.2 156.8,212.9 157.3,216.2 157.9,219.2 158.4,221.8 158.9,224.0 159.4,225.7 159.9,227.1 160.5,228.0 161.0,228.4 161.5,228.5 162.0,228.0 162.5,227.2 163.1,225.9 163.6,224.2 164.1,222.1 164.6,219.6 165.1,216.8 165.7,213.5 166.2,210.0 166.7,206.2 167.2,202.1 167.7,197.7 168.3,193.2 168.8,188.5 169.3,183.6 169.8,178.6 170.3,173.6 170.9,168.5 171.4,163.4 171.9,158.4 172.4,153.4 172.9,148.5 173.5,143.8 174.0,139.3 174.5,134.9 175.0,130.8 175.5,126.9 176.1,123.3 176.6,120.0 177.1,117.1 177.6,114.5 178.1,112.2 178.7,110.4 179.2,108.9 179.7,107.8 180.2,107.1 180.7,106.9 181.3,107.0 181.8,107.5 182.3,108.5 182.8,109.8 183.3,111.5 183.9,113.6 184.4,116.0 184.9,118.7 185.4,121.8 185.9,125.1 186.5,128.7 187.0,132.5 187.5,136.6 188.0,140.8 188.5,145.1 189.0,149.6 189.6,154.2 190.1,158.8 190.6,163.4 191.1,168.0 191.6,172.6 192.2,177.1 192.7,181.4 193.2,185.7 193.7,189.8 194.2,193.6 194.8,197.3 195.3,200.7 195.8,203.9 196.3,206.8 196.8,209.3 197.4,211.6 197.9,213.5 198.4,215.1 198.9,216.3 199.4,217.1 200.0,217.6 200.5,217.8 201.0,217.6 201.5,217.0 202.0,216.0 202.6,214.7 203.1,213.1 203.6,211.2 204.1,208.9 204.6,206.4 205.2,203.6 205.7,200.5 206.2,197.2 206.7,193.7 207.2,190.0 207.8,186.2 208.3,182.3 208.8,178.2 209.3,174.1 209.8,169.9 210.4,165.7 210.9,161.6 211.4,157.5 211.9,153.5 212.4,149.5 213.0,145.7 213.5,142.1 214.0,138.6 214.5,135.3 215.0,132.3 215.6,129.5 216.1,127.0 216.6,124.7 217.1,122.7 217.6,121.1 218.2,119.7 218.7,118.7 219.2,118.0 219.7,117.7 220.2,117.6 220.8,117.9 221.3,118.6 221.8,119.5 222.3,120.8 222.8,122.3 223.4,124.2 223.9,126.3 224.4,128.7 224.9,131.3 225.4,134.1 226.0,137.2 226.5,140.4 227.0,143.8 227.5,147.2 228.0,150.8 228.6,154.5 229.1,158.2 229.6,161.9 230.1,165.7 230.6,169.4 231.1,173.0 231.7,176.6 232.2,180.1 232.7,183.4 233.2,186.6 233.7,189.7 234.3,192.5 234.8,195.2 235.3,197.6 235.8,199.7 236.3,201.7 236.9,203.3 237.4,204.7 237.9,205.8 238.4,206.6 238.9,207.2 239.5,207.4 240.0,207.4 240.5,207.0 241.0,206.4 241.5,205.5 242.1,204.3 242.6,202.9 243.1,201.2 243.6,199.3 244.1,197.1 244.7,194.7 245.2,192.2 245.7,189.5 246.2,186.6 246.7,183.6 247.3,180.4 247.8,177.2 248.3,173.9 248.8,170.6 249.3,167.2 249.9,163.9 250.4,160.6 250.9,157.3 251.4,154.1 251.9,151.0 252.5,148.0 253.0,145.1 253.5,142.4 254.0,139.9 254.5,137.5 255.1,135.4 255.6,133.4 256.1,131.8 256.6,130.3 257.1,129.1 257.7,128.2 258.2,127.5 258.7,127.1 259.2,126.9 259.7,127.1 260.3,127.4 260.8,128.1 261.3,129.0 261.8,130.2 262.3,131.6 262.9,133.2 263.4,135.0 263.9,137.1 264.4,139.3 264.9,141.7 265.5,144.2 266.0,146.8 266.5,149.6 267.0,152.4 267.5,155.3 268.1,158.2 268.6,161.2 269.1,164.2 269.6,167.1 270.1,170.0 270.6,172.9 271.2,175.6 271.7,178.3 272.2,180.8 272.7,183.3 273.2,185.5 273.8,187.7 274.3,189.6 274.8,191.4 275.3,192.9 275.8,194.3 276.4,195.5 276.9,196.4 277.4,197.1 277.9,197.6 278.4,197.9 279.0,198.0 279.5,197.8 280.0,197.4 280.5,196.8 281.0,196.0 281.6,194.9 282.1,193.7 282.6,192.3 283.1,190.7 283.6,188.9 284.2,187.0 284.7,184.9 285.2,182.8 285.7,180.5 286.2,178.1 286.8,175.6 287.3,173.1 287.8,170.6 288.3,168.0 288.8,165.4 289.4,162.9 289.9,160.3 290.4,157.9 290.9,155.4 291.4,153.1 292.0,150.8 292.5,148.7 293.0,146.7 293.5,144.8 294.0,143.1 294.6,141.5 295.1,140.1 295.6,138.8 296.1,137.8 296.6,136.9 297.2,136.3 297.7,135.8 298.2,135.5 298.7,135.4 299.2,135.6 299.8,135.9 300.3,136.4 300.8,137.2 301.3,138.1 301.8,139.2 302.4,140.5 302.9,141.9 303.4,143.6 303.9,145.3 304.4,147.2 305.0,149.3 305.5,151.4 306.0,153.6 306.5,155.9 307.0,158.3 307.6,160.7 308.1,163.2 308.6,165.6 309.1,168.1 309.6,170.5 310.2,172.9 310.7,175.2 311.2,177.5 311.7,179.7 312.2,181.8 312.7,183.8 313.3,185.6 313.8,187.3 314.3,188.8 314.8,190.2 315.3,191.4 315.9,192.4 316.4,193.2 316.9,193.9 317.4,194.3 317.9,194.5 318.5,194.5 319.0,194.3 319.5,193.9 320.0,193.3 320.5,192.4 321.1,191.4 321.6,190.1 322.1,188.7 322.6,187.2 323.1,185.4 323.7,183.6 324.2,181.7 324.7,179.6 325.2,177.5 325.7,175.3 326.3,173.1 326.8,170.9 327.3,168.7 327.8,166.4 328.3,164.3 328.9,162.2 329.4,160.1 329.9,158.1 330.4,156.2 330.9,154.5 331.5,152.8 332.0,151.3 332.5,149.9 333.0,148.6 333.5,147.5 334.1,146.5 334.6,145.7 335.1,145.0 335.6,144.5 336.1,144.1 336.7,143.8 337.2,143.7 337.7,143.8 338.2,144.0 338.7,144.3 339.3,144.8 339.8,145.4 340.3,146.2 340.8,147.0 341.3,148.0 341.9,149.1 342.4,150.3 342.9,151.5 343.4,152.9 343.9,154.3 344.5,155.7 345.0,157.2 345.5,158.7 346.0,160.2 346.5,161.7 347.1,163.2 347.6,164.7 348.1,166.2 348.6,167.6 349.1,169.0 349.7,170.4 350.2,171.6 350.7,172.9 351.2,174.0 351.7,175.1 352.3,176.0 352.8,176.9 353.3,177.8 353.8,178.5 354.3,179.1 354.8,179.7 355.4,180.1 355.9,180.4 356.4,180.7 356.9,180.9 357.4,180.9 358.0,180.9 358.5,180.7 359.0,180.5 359.5,180.1 360.0,179.7 360.6,179.1 361.1,178.5 361.6,177.7 362.1,176.9 362.6,176.0 363.2,175.0 363.7,173.9 364.2,172.8 364.7,171.6 365.2,170.4 365.8,169.2 366.3,167.9 366.8,166.6 367.3,165.3 367.8,163.9 368.4,162.6 368.9,161.3 369.4,160.0 369.9,158.8 370.4,157.5 371.0,156.4 371.5,155.2 372.0,154.2 372.5,153.2 373.0,152.2 373.6,151.4 374.1,150.6 374.6,149.9" fill="none" stroke="#0000ff" stroke-width="0.95"/>
<path d="M64.5,55.3v3.2M67.0,73.0v3.3M69.5,103.8v3.3M71.9,145.7v3.3M74.4,186.3v3.4M76.9,224.7v3.4M79.4,252.7v3.5M81.9,267.2v3.5M84.4,263.8v3.5M86.9,245.2v3.6M89.4,215.0v3.6M91.9,174.8v3.7M94.4,137.9v3.7M96.9,106.2v3.8M99.4,88.0v3.8M101.9,80.4v3.8M104.4,85.0v3.9M106.9,102.7v3.9M109.4,124.9v4.0M111.9,158.5v4.0M114.4,189.8v4.1M116.9,215.1v4.1M119.4,230.7v4.2M121.8,239.1v4.2M124.3,235.3v4.3M126.8,218.3v4.3M129.3,191.8v4.4M131.8,164.8v4.4M134.3,138.5v4.5M136.8,115.5v4.6M139.3,99.7v4.6M141.8,93.3v4.7M144.3,104.4v4.7M146.8,118.5v4.8M149.3,140.8v4.8M151.8,168.9v4.9M154.3,191.3v4.9M156.8,211.8v5.0M159.3,220.7v5.1M161.8,226.0v5.1M164.3,221.7v5.2M166.8,202.0v5.3M169.2,182.1v5.3M171.7,160.5v5.4M174.2,135.5v5.4M176.7,117.5v5.5M179.2,107.7v5.6M181.7,104.6v5.6M184.2,116.8v5.7M186.7,128.2v5.8M189.2,146.0v5.9M191.7,168.3v5.9M194.2,188.0v6.0M196.7,203.2v6.1M199.2,210.5v6.1M201.7,216.0v6.2M204.2,203.7v6.3M206.7,195.0v6.4M209.2,173.4v6.4M211.7,156.5v6.5M214.2,131.9v6.6M216.6,118.1v6.7M219.1,115.2v6.8M221.6,111.6v6.8M224.1,125.6v6.9M226.6,137.5v7.0M229.1,154.7v7.1M231.6,175.3v7.2M234.1,186.9v7.3M236.6,193.9v7.4M239.1,206.2v7.4M241.6,199.3v7.5M244.1,193.9v7.6M246.6,175.9v7.7M249.1,163.7v7.8M251.6,147.3v7.9M254.1,133.8v8.0M256.6,125.7v8.1M259.1,126.8v8.2M261.6,121.4v8.3M264.0,137.5v8.4M266.5,144.9v8.5M269.0,157.7v8.6M271.5,175.7v8.7M274.0,183.8v8.8M276.5,187.7v8.9M279.0,193.5v9.0M281.5,193.3v9.1M284.0,192.3v9.2M286.5,175.3v9.3M289.0,161.9v9.5M291.5,149.8v9.6M294.0,141.6v9.7M296.5,131.0v9.8M299.0,132.5v9.9M301.5,133.8v10.0M304.0,138.0v10.2M306.5,153.6v10.3M309.0,163.2v10.4M311.5,165.5v10.5M313.9,179.2v10.7M316.4,192.7v10.8M318.9,189.2v10.9M321.4,182.8v11.1M323.9,172.3v11.2M326.4,166.2v11.3M328.9,158.3v11.5M331.4,150.1v11.6M333.9,138.3v11.7M336.4,136.7v11.9M338.9,140.6v12.0M341.4,142.8v12.2M343.9,149.7v12.3M346.4,151.9v12.5M348.9,165.0v12.6M351.4,165.8v12.8M353.9,168.3v12.9M356.4,171.9v13.1M358.9,177.8v13.2M361.3,165.2v13.4M363.8,170.0v13.6M366.3,158.9v13.7M368.8,158.1v13.9M371.3,157.0v14.1M373.8,142.7v14.2" stroke="#0000ff" stroke-width="1" fill="none"/>
<path d="M64.5,53.0l3.4,6.5l-6.8,0z" fill="#0000ff"/>
<path d="M67.0,70.8l3.4,6.5l-6.8,0z" fill="#0000ff"/>
<path d="M69.5,101.6l3.4,6.5l-6.8,0z" fill="#0000ff"/>
<path d="M71.9,143.5l3.4,6.5l-6.8,0z" fill="#0000ff"/>
<path d="M74.4,184.1l3.4,6.5l-6.8,0z" fill="#0000ff"/>
<path d="M76.9,222.5l3.4,6.5l-6.8,0z" fill="#0000ff"/>
<path d="M79.4,250.5l3.4,6.5l-6.8,0z" fill="#0000ff"/>
<path d="M81.9,265.0l3.4,6.5l-6.8,0z" fill="#0000ff"/>
<path d="M84.4,261.6l3.4,6.5l-6.8,0z" fill="#0000ff"/>
<path d="M86.9,243.1l3.4,6.5l-6.8,0z" fill="#0000ff"/>
<path d="M89.4,212.9l3.4,6.5l-6.8,0z" fill="#0000ff"/>
<path d="M91.9,172.8l3.4,6.5l-6.8,0z" fill="#0000ff"/>
<path d="M94.4,135.9l3.4,6.5l-6.8,0z" fill="#0000ff"/>
<path d="M96.9,104.2l3.4,6.5l-6.8,0z" fill="#0000ff"/>
<path d="M99.4,86.0l3.4,6.5l-6.8,0z" fill="#0000ff"/>
<path d="M101.9,78.5l3.4,6.5l-6.8,0z" fill="#0000ff"/>
<path d="M104.4,83.1l3.4,6.5l-6.8,0z" fill="#0000ff"/>
<path d="M106.9,100.8l3.4,6.5l-6.8,0z" fill="#0000ff"/>
<path d="M109.4,123.0l3.4,6.5l-6.8,0z" fill="#0000ff"/>
<path d="M111.9,156.7l3.4,6.5l-6.8,0z" fill="#0000ff"/>
<path d="M114.4,188.0l3.4,6.5l-6.8,0z" fill="#0000ff"/>
<path d="M116.9,213.3l3.4,6.5l-6.8,0z" fill="#0000ff"/>
<path d="M119.4,228.9l3.4,6.5l-6.8,0z" fill="#0000ff"/>
<path d="M121.8,237.3l3.4,6.5l-6.8,0z" fill="#0000ff"/>
<path d="M124.3,233.6l3.4,6.5l-6.8,0z" fill="#0000ff"/>
<path d="M126.8,216.5l3.4,6.5l-6.8,0z" fill="#0000ff"/>
<path d="M129.3,190.1l3.4,6.5l-6.8,0z" fill="#0000ff"/>
<path d="M131.8,163.1l3.4,6.5l-6.8,0z" fill="#0000ff"/>
<path d="M134.3,136.9l3.4,6.5l-6.8,0z" fill="#0000ff"/>
<path d="M136.8,113.8l3.4,6.5l-6.8,0z" fill="#0000ff"/>
<path d="M139.3,98.1l3.4,6.5l-6.8,0z" fill="#0000ff"/>
<path d="M141.8,91.7l3.4,6.5l-6.8,0z" fill="#0000ff"/>
<path d="M144.3,102.8l3.4,6.5l-6.8,0z" fill="#0000ff"/>
<path d="M146.8,117.0l3.4,6.5l-6.8,0z" fill="#0000ff"/>
<path d="M149.3,139.3l3.4,6.5l-6.8,0z" fill="#0000ff"/>
<path d="M151.8,167.5l3.4,6.5l-6.8,0z" fill="#0000ff"/>
<path d="M154.3,189.8l3.4,6.5l-6.8,0z" fill="#0000ff"/>
<path d="M156.8,210.4l3.4,6.5l-6.8,0z" fill="#0000ff"/>
<path d="M159.3,219.4l3.4,6.5l-6.8,0z" fill="#0000ff"/>
<path d="M161.8,224.6l3.4,6.5l-6.8,0z" fill="#0000ff"/>
<path d="M164.3,220.4l3.4,6.5l-6.8,0z" fill="#0000ff"/>
<path d="M166.8,200.7l3.4,6.5l-6.8,0z" fill="#0000ff"/>
<path d="M169.2,180.9l3.4,6.5l-6.8,0z" fill="#0000ff"/>
<path d="M171.7,159.2l3.4,6.5l-6.8,0z" fill="#0000ff"/>
<path d="M174.2,134.3l3.4,6.5l-6.8,0z" fill="#0000ff"/>
<path d="M176.7,116.3l3.4,6.5l-6.8,0z" fill="#0000ff"/>
<path d="M179.2,106.6l3.4,6.5l-6.8,0z" fill="#0000ff"/>
<path d="M181.7,103.5l3.4,6.5l-6.8,0z" fill="#0000ff"/>
<path d="M184.2,115.8l3.4,6.5l-6.8,0z" fill="#0000ff"/>
<path d="M186.7,127.2l3.4,6.5l-6.8,0z" fill="#0000ff"/>
<path d="M189.2,145.0l3.4,6.5l-6.8,0z" fill="#0000ff"/>
<path d="M191.7,167.4l3.4,6.5l-6.8,0z" fill="#0000ff"/>
<path d="M194.2,187.1l3.4,6.5l-6.8,0z" fill="#0000ff"/>
<path d="M196.7,202.3l3.4,6.5l-6.8,0z" fill="#0000ff"/>
<path d="M199.2,209.7l3.4,6.5l-6.8,0z" fill="#0000ff"/>
<path d="M201.7,215.2l3.4,6.5l-6.8,0z" fill="#0000ff"/>
<path d="M204.2,202.9l3.4,6.5l-6.8,0z" fill="#0000ff"/>
<path d="M206.7,194.3l3.4,6.5l-6.8,0z" fill="#0000ff"/>
<path d="M209.2,172.8l3.4,6.5l-6.8,0z" fill="#0000ff"/>
<path d="M211.7,155.9l3.4,6.5l-6.8,0z" fill="#0000ff"/>
<path d="M214.2,131.3l3.4,6.5l-6.8,0z" fill="#0000ff"/>
<path d="M216.6,117.5l3.4,6.5l-6.8,0z" fill="#0000ff"/>
<path d="M219.1,114.6l3.4,6.5l-6.8,0z" fill="#0000ff"/>
<path d="M221.6,111.1l3.4,6.5l-6.8,0z" fill="#0000ff"/>
<path d="M224.1,125.2l3.4,6.5l-6.8,0z" fill="#0000ff"/>
<path d="M226.6,137.1l3.4,6.5l-6.8,0z" fill="#0000ff"/>
<path d="M229.1,154.3l3.4,6.5l-6.8,0z" fill="#0000ff"/>
<path d="M231.6,175.0l3.4,6.5l-6.8,0z" fill="#0000ff"/>
<path d="M234.1,186.7l3.4,6.5l-6.8,0z" fill="#0000ff"/>
<path d="M236.6,193.7l3.4,6.5l-6.8,0z" fill="#0000ff"/>
<path d="M239.1,206.0l3.4,6.5l-6.8,0z" fill="#0000ff"/>
<path d="M241.6,199.1l3.4,6.5l-6.8,0z" fill="#0000ff"/>
<path d="M244.1,193.8l3.4,6.5l-6.8,0z" fill="#0000ff"/>
<path d="M246.6,175.8l3.4,6.5l-6.8,0z" fill="#0000ff"/>
<path d="M249.1,163.7l3.4,6.5l-6.8,0z" fill="#0000ff"/>
<path d="M251.6,147.4l3.4,6.5l-6.8,0z" fill="#0000ff"/>
<path d="M254.1,133.9l3.4,6.5l-6.8,0z" fill="#0000ff"/>
<path d="M256.6,125.8l3.4,6.5l-6.8,0z" fill="#0000ff"/>
<path d="M259.1,127.0l3.4,6.5l-6.8,0z" fill="#0000ff"/>
<path d="M261.6,121.7l3.4,6.5l-6.8,0z" fill="#0000ff"/>
<path d="M264.0,137.8l3.4,6.5l-6.8,0z" fill="#0000ff"/>
<path d="M266.5,145.2l3.4,6.5l-6.8,0z" fill="#0000ff"/>
<path d="M269.0,158.1l3.4,6.5l-6.8,0z" fill="#0000ff"/>
<path d="M271.5,176.1l3.4,6.5l-6.8,0z" fill="#0000ff"/>
<path d="M274.0,184.3l3.4,6.5l-6.8,0z" fill="#0000ff"/>
<path d="M276.5,188.3l3.4,6.5l-6.8,0z" fill="#0000ff"/>
<path d="M279.0,194.1l3.4,6.5l-6.8,0z" fill="#0000ff"/>
<path d="M281.5,194.0l3.4,6.5l-6.8,0z" fill="#0000ff"/>
<path d="M284.0,193.0l3.4,6.5l-6.8,0z" fill="#0000ff"/>
<path d="M286.5,176.1l3.4,6.5l-6.8,0z" fill="#0000ff"/>
<path d="M289.0,162.7l3.4,6.5l-6.8,0z" fill="#0000ff"/>
<path d="M291.5,150.7l3.4,6.5l-6.8,0z" fill="#0000ff"/>
<path d="M294.0,142.6l3.4,6.5l-6.8,0z" fill="#0000ff"/>
<path d="M296.5,132.0l3.4,6.5l-6.8,0z" fill="#0000ff"/>
<path d="M299.0,133.6l3.4,6.5l-6.8,0z" fill="#0000ff"/>
<path d="M301.5,134.9l3.4,6.5l-6.8,0z" fill="#0000ff"/>
<path d="M304.0,139.2l3.4,6.5l-6.8,0z" fill="#0000ff"/>
<path d="M306.5,154.8l3.4,6.5l-6.8,0z" fill="#0000ff"/>
<path d="M309.0,164.5l3.4,6.5l-6.8,0z" fill="#0000ff"/>
<path d="M311.5,166.8l3.4,6.5l-6.8,0z" fill="#0000ff"/>
<path d="M313.9,180.6l3.4,6.5l-6.8,0z" fill="#0000ff"/>
<path d="M316.4,194.2l3.4,6.5l-6.8,0z" fill="#0000ff"/>
<path d="M318.9,190.8l3.4,6.5l-6.8,0z" fill="#0000ff"/>
<path d="M321.4,184.5l3.4,6.5l-6.8,0z" fill="#0000ff"/>
<path d="M323.9,174.0l3.4,6.5l-6.8,0z" fill="#0000ff"/>
<path d="M326.4,168.0l3.4,6.5l-6.8,0z" fill="#0000ff"/>
<path d="M328.9,160.2l3.4,6.5l-6.8,0z" fill="#0000ff"/>
<path d="M331.4,152.0l3.4,6.5l-6.8,0z" fill="#0000ff"/>
<path d="M333.9,140.3l3.4,6.5l-6.8,0z" fill="#0000ff"/>
<path d="M336.4,138.8l3.4,6.5l-6.8,0z" fill="#0000ff"/>
<path d="M338.9,142.7l3.4,6.5l-6.8,0z" fill="#0000ff"/>
<path d="M341.4,145.0l3.4,6.5l-6.8,0z" fill="#0000ff"/>
<path d="M343.9,152.0l3.4,6.5l-6.8,0z" fill="#0000ff"/>
<path d="M346.4,154.2l3.4,6.5l-6.8,0z" fill="#0000ff"/>
<path d="M348.9,167.5l3.4,6.5l-6.8,0z" fill="#0000ff"/>
<path d="M351.4,168.3l3.4,6.5l-6.8,0z" fill="#0000ff"/>
<path d="M353.9,170.8l3.4,6.5l-6.8,0z" fill="#0000ff"/>
<path d="M356.4,174.6l3.4,6.5l-6.8,0z" fill="#0000ff"/>
<path d="M358.9,180.5l3.4,6.5l-6.8,0z" fill="#0000ff"/>
<path d="M361.3,168.0l3.4,6.5l-6.8,0z" fill="#0000ff"/>
<path d="M363.8,172.9l3.4,6.5l-6.8,0z" fill="#0000ff"/>
<path d="M366.3,161.8l3.4,6.5l-6.8,0z" fill="#0000ff"/>
<path d="M368.8,161.2l3.4,6.5l-6.8,0z" fill="#0000ff"/>
<path d="M371.3,160.2l3.4,6.5l-6.8,0z" fill="#0000ff"/>
<path d="M373.8,146.0l3.4,6.5l-6.8,0z" fill="#0000ff"/>
</g>
<rect x="62.75" y="30.70" width="311.85" height="269.05" fill="none" stroke="#000" stroke-width="2.25"/>
<line x1="62.75" y1="50.12" x2="69.05" y2="50.12" stroke="#000" stroke-width="1.9"/>
<line x1="62.75" y1="88.48" x2="69.05" y2="88.48" stroke="#000" stroke-width="1.9"/>
<line x1="62.75" y1="126.84" x2="69.05" y2="126.84" stroke="#000" stroke-width="1.9"/>
<line x1="62.75" y1="165.20" x2="69.05" y2="165.20" stroke="#000" stroke-width="1.9"/>
<line x1="62.75" y1="203.56" x2="69.05" y2="203.56" stroke="#000" stroke-width="1.9"/>
<line x1="62.75" y1="241.92" x2="69.05" y2="241.92" stroke="#000" stroke-width="1.9"/>
<line x1="62.75" y1="280.28" x2="69.05" y2="280.28" stroke="#000" stroke-width="1.9"/>
<line x1="62.75" y1="69.30" x2="66.35" y2="69.30" stroke="#000" stroke-width="1.9"/>
<line x1="62.75" y1="107.66" x2="66.35" y2="107.66" stroke="#000" stroke-width="1.9"/>
<line x1="62.75" y1="146.02" x2="66.35" y2="146.02" stroke="#000" stroke-width="1.9"/>
<line x1="62.75" y1="184.38" x2="66.35" y2="184.38" stroke="#000" stroke-width="1.9"/>
<line x1="62.75" y1="222.74" x2="66.35" y2="222.74" stroke="#000" stroke-width="1.9"/>
<line x1="62.75" y1="261.10" x2="66.35" y2="261.10" stroke="#000" stroke-width="1.9"/>
<text x="55.50" y="54.87" font-size="15.5" text-anchor="end" >0.3</text>
<text x="55.50" y="93.23" font-size="15.5" text-anchor="end" >0.2</text>
<text x="55.50" y="131.59" font-size="15.5" text-anchor="end" >0.1</text>
<text x="55.50" y="169.95" font-size="15.5" text-anchor="end" >0.0</text>
<text x="55.50" y="208.31" font-size="15.5" text-anchor="end" >-0.1</text>
<text x="55.50" y="246.67" font-size="15.5" text-anchor="end" >-0.2</text>
<text x="55.50" y="285.03" font-size="15.5" text-anchor="end" >-0.3</text>
<line x1="62.75" y1="299.75" x2="62.75" y2="293.75" stroke="#000" stroke-width="1.9"/>
<line x1="166.70" y1="299.75" x2="166.70" y2="293.75" stroke="#000" stroke-width="1.9"/>
<line x1="270.65" y1="299.75" x2="270.65" y2="293.75" stroke="#000" stroke-width="1.9"/>
<line x1="374.60" y1="299.75" x2="374.60" y2="293.75" stroke="#000" stroke-width="1.9"/>
<line x1="114.72" y1="299.75" x2="114.72" y2="296.35" stroke="#000" stroke-width="1.9"/>
<line x1="218.68" y1="299.75" x2="218.68" y2="296.35" stroke="#000" stroke-width="1.9"/>
<line x1="322.62" y1="299.75" x2="322.62" y2="296.35" stroke="#000" stroke-width="1.9"/>
<text x="62.75" y="319.40" font-size="15.5" text-anchor="middle" >0</text>
<text x="166.70" y="319.40" font-size="15.5" text-anchor="middle" >2</text>
<text x="270.65" y="319.40" font-size="15.5" text-anchor="middle" >4</text>
<text x="374.60" y="319.40" font-size="15.5" text-anchor="middle" >6</text>
<text transform="translate(20.50,166.00) rotate(-90)" font-size="20.3" text-anchor="middle">Asymmetry</text>
<text x="218.20" y="335.20" font-size="20.6" text-anchor="middle" >t (µs)</text>
<text x="36.10" y="16.70" font-size="15" text-anchor="start" font-weight="bold" >a</text>
<circle cx="230.8" cy="43.7" r="2.8" fill="#ff0000"/>
<path d="M231.0,57.7l3.9,3.9l-3.9,3.9l-3.9,-3.9z" fill="#008000"/>
<path d="M231.0,75.1l3.4,6.5l-6.8,0z" fill="#0000ff"/>
<text x="251.40" y="48.80" font-size="14.5" text-anchor="start" >0 GPa, 10 K</text>
<text x="251.40" y="66.40" font-size="14.5" text-anchor="start" >0 GPa, 0.27 K</text>
<text x="251.40" y="84.10" font-size="14.5" text-anchor="start" >1.74 GPa, 0.27 K</text>
<clipPath id="cb"><rect x="63.2" y="393.4" width="311.90000000000003" height="268.9"/></clipPath>
<g clip-path="url(#cb)">
<path d="M63.2,662.3 L63.2,661.2 63.6,661.3 64.0,661.3 64.4,661.3 64.8,661.4 65.1,661.4 65.5,661.4 65.9,661.5 66.3,661.5 66.7,661.5 67.1,661.5 67.5,661.6 67.9,661.6 68.3,661.6 68.7,661.6 69.0,661.6 69.4,661.7 69.8,661.7 70.2,661.7 70.6,661.7 71.0,661.7 71.4,661.7 71.8,661.7 72.2,661.7 72.6,661.7 72.9,661.7 73.3,661.8 73.7,661.8 74.1,661.8 74.5,661.8 74.9,661.8 75.3,661.8 75.7,661.8 76.1,661.8 76.5,661.8 76.8,661.8 77.2,661.7 77.6,661.7 78.0,661.7 78.4,661.7 78.8,661.7 79.2,661.7 79.6,661.6 80.0,661.6 80.4,661.6 80.7,661.6 81.1,661.5 81.5,661.5 81.9,661.5 82.3,661.4 82.7,661.4 83.1,661.3 83.5,661.3 83.9,661.3 84.3,661.2 84.6,661.2 85.0,661.1 85.4,661.1 85.8,661.0 86.2,661.0 86.6,660.9 87.0,660.9 87.4,660.8 87.8,660.7 88.2,660.7 88.5,660.6 88.9,660.5 89.3,660.4 89.7,660.2 90.1,660.1 90.5,659.9 90.9,659.7 91.3,659.5 91.7,659.3 92.1,659.1 92.4,658.9 92.8,658.6 93.2,658.4 93.6,658.2 94.0,658.0 94.4,657.8 94.8,657.6 95.2,657.4 95.6,657.3 95.9,657.2 96.3,657.1 96.7,657.0 97.1,656.9 97.5,656.9 97.9,656.9 98.3,657.0 98.7,657.1 99.1,657.2 99.5,657.4 99.8,657.6 100.2,657.8 100.6,658.0 101.0,658.3 101.4,658.6 101.8,658.8 102.2,659.1 102.6,659.4 103.0,659.7 103.4,660.0 103.7,660.3 104.1,660.5 104.5,660.8 104.9,661.1 105.3,661.3 105.7,661.5 106.1,661.7 106.5,661.8 106.9,661.9 107.3,662.0 107.6,662.0 108.0,662.0 108.4,662.0 108.8,662.0 109.2,662.0 109.6,662.0 110.0,662.0 110.4,662.0 110.8,662.0 111.2,661.9 111.5,661.9 111.9,661.9 112.3,661.9 112.7,661.9 113.1,661.8 113.5,661.8 113.9,661.8 114.3,661.7 114.7,661.7 115.1,661.7 115.4,661.6 115.8,661.6 116.2,661.6 116.6,661.5 117.0,661.5 117.4,661.4 117.8,661.4 118.2,661.4 118.6,661.3 119.0,661.3 119.3,661.2 119.7,661.2 120.1,661.1 120.5,661.0 120.9,660.9 121.3,660.7 121.7,660.6 122.1,660.4 122.5,660.3 122.9,660.1 123.2,659.9 123.6,659.7 124.0,659.5 124.4,659.4 124.8,659.2 125.2,659.0 125.6,658.8 126.0,658.7 126.4,658.5 126.7,658.4 127.1,658.3 127.5,658.2 127.9,658.1 128.3,658.0 128.7,658.0 129.1,658.0 129.5,658.0 129.9,658.1 130.3,658.1 130.6,658.2 131.0,658.3 131.4,658.4 131.8,658.5 132.2,658.7 132.6,658.8 133.0,659.0 133.4,659.2 133.8,659.4 134.2,659.6 134.5,659.7 134.9,659.9 135.3,660.1 135.7,660.3 136.1,660.5 136.5,660.7 136.9,660.9 137.3,661.1 137.7,661.2 138.1,661.4 138.4,661.5 138.8,661.6 139.2,661.8 139.6,661.8 140.0,661.9 140.4,662.0 140.8,662.0 141.2,662.0 141.6,662.0 142.0,662.0 142.3,662.0 142.7,661.9 143.1,661.9 143.5,661.8 143.9,661.8 144.3,661.7 144.7,661.6 145.1,661.5 145.5,661.4 145.9,661.3 146.2,661.2 146.6,661.1 147.0,661.0 147.4,660.9 147.8,660.8 148.2,660.7 148.6,660.5 149.0,660.4 149.4,660.3 149.8,660.2 150.1,660.1 150.5,659.9 150.9,659.8 151.3,659.6 151.7,659.4 152.1,659.2 152.5,659.0 152.9,658.8 153.3,658.6 153.7,658.4 154.0,658.3 154.4,658.2 154.8,658.1 155.2,658.0 155.6,658.0 156.0,657.9 156.4,657.9 156.8,657.9 157.2,657.8 157.5,657.8 157.9,657.8 158.3,657.8 158.7,657.8 159.1,657.8 159.5,657.8 159.9,657.7 160.3,657.7 160.7,657.7 161.1,657.7 161.4,657.7 161.8,657.7 162.2,657.7 162.6,657.7 163.0,657.6 163.4,657.6 163.8,657.6 164.2,657.6 164.6,657.5 165.0,657.5 165.3,657.4 165.7,657.3 166.1,657.2 166.5,657.0 166.9,656.7 167.3,656.4 167.7,656.1 168.1,655.7 168.5,655.4 168.9,655.0 169.2,654.6 169.6,654.1 170.0,653.7 170.4,653.3 170.8,652.9 171.2,652.5 171.6,652.0 172.0,651.5 172.4,651.0 172.8,650.5 173.1,649.9 173.5,649.3 173.9,648.8 174.3,648.2 174.7,647.6 175.1,647.0 175.5,646.4 175.9,645.9 176.3,645.3 176.7,644.7 177.0,644.2 177.4,643.6 177.8,643.0 178.2,642.4 178.6,641.8 179.0,641.2 179.4,640.5 179.8,639.9 180.2,639.2 180.6,638.5 180.9,637.8 181.3,637.0 181.7,636.3 182.1,635.5 182.5,634.6 182.9,633.7 183.3,632.7 183.7,631.7 184.1,630.5 184.5,629.3 184.8,628.0 185.2,626.6 185.6,625.2 186.0,623.6 186.4,622.0 186.8,620.2 187.2,618.3 187.6,616.4 188.0,614.2 188.3,612.0 188.7,609.6 189.1,607.1 189.5,604.5 189.9,601.8 190.3,598.9 190.7,595.9 191.1,592.4 191.5,588.5 191.9,584.4 192.2,580.0 192.6,575.6 193.0,571.2 193.4,566.9 193.8,562.8 194.2,559.0 194.6,555.5 195.0,552.1 195.4,548.9 195.8,545.7 196.1,542.5 196.5,539.4 196.9,536.3 197.3,533.2 197.7,530.0 198.1,526.8 198.5,523.4 198.9,520.0 199.3,516.5 199.7,513.0 200.0,509.4 200.4,505.8 200.8,502.2 201.2,498.6 201.6,495.0 202.0,491.4 202.4,487.8 202.8,484.1 203.2,480.3 203.6,476.5 203.9,472.7 204.3,469.0 204.7,465.3 205.1,461.7 205.5,458.3 205.9,455.1 206.3,452.1 206.7,449.0 207.1,446.1 207.5,443.6 207.8,441.6 208.2,440.1 208.6,438.7 209.0,437.5 209.4,436.7 209.8,436.4 210.2,436.6 210.6,437.1 211.0,437.8 211.4,438.7 211.7,439.6 212.1,440.8 212.5,442.5 212.9,444.5 213.3,446.7 213.7,448.9 214.1,451.4 214.5,454.2 214.9,457.2 215.3,460.3 215.6,463.7 216.0,467.1 216.4,470.7 216.8,474.7 217.2,478.8 217.6,483.1 218.0,487.2 218.4,491.3 218.8,495.2 219.2,499.0 219.5,502.8 219.9,506.6 220.3,510.5 220.7,514.4 221.1,518.4 221.5,522.6 221.9,527.0 222.3,531.7 222.7,536.7 223.0,541.7 223.4,546.7 223.8,551.7 224.2,556.4 224.6,560.8 225.0,565.1 225.4,569.2 225.8,573.3 226.2,577.3 226.6,581.2 226.9,585.0 227.3,588.7 227.7,592.3 228.1,595.8 228.5,599.3 228.9,602.9 229.3,606.3 229.7,609.7 230.1,613.0 230.5,616.2 230.8,619.3 231.2,622.1 231.6,624.7 232.0,627.1 232.4,629.2 232.8,631.2 233.2,633.1 233.6,634.8 234.0,636.5 234.4,638.1 234.7,639.6 235.1,641.0 235.5,642.4 235.9,643.7 236.3,644.9 236.7,646.1 237.1,647.3 237.5,648.5 237.9,649.7 238.3,650.8 238.6,651.9 239.0,652.9 239.4,653.9 239.8,654.8 240.2,655.6 240.6,656.3 241.0,656.9 241.4,657.5 241.8,658.1 242.2,658.6 242.5,659.1 242.9,659.6 243.3,660.0 243.7,660.4 244.1,660.7 244.5,661.0 244.9,661.2 245.3,661.3 245.7,661.4 246.1,661.5 246.4,661.6 246.8,661.7 247.2,661.7 247.6,661.8 248.0,661.9 248.4,661.9 248.8,662.0 249.2,662.0 249.6,662.0 250.0,662.0 250.3,662.0 250.7,662.0 251.1,662.0 251.5,662.0 251.9,662.0 252.3,662.0 252.7,662.0 253.1,662.0 253.5,662.0 253.8,662.0 254.2,662.0 254.6,662.0 255.0,662.0 255.4,662.0 255.8,662.0 256.2,662.0 256.6,662.0 257.0,662.0 257.4,662.0 257.7,662.0 258.1,662.0 258.5,662.0 258.9,662.0 259.3,662.0 259.7,662.0 260.1,662.0 260.5,662.0 260.9,662.0 261.3,662.0 261.6,662.0 262.0,662.0 262.4,661.9 262.8,661.8 263.2,661.7 263.6,661.6 264.0,661.5 264.4,661.4 264.8,661.2 265.2,661.1 265.5,661.0 265.9,660.9 266.3,660.8 266.7,660.7 267.1,660.7 267.5,660.7 267.9,660.7 268.3,660.8 268.7,660.9 269.1,661.0 269.4,661.1 269.8,661.2 270.2,661.4 270.6,661.5 271.0,661.7 271.4,661.8 271.8,661.9 272.2,662.0 272.6,662.0 273.0,662.0 273.3,662.0 273.7,662.0 274.1,662.0 274.5,662.0 274.9,662.0 275.3,662.0 275.7,662.0 276.1,662.0 276.5,662.0 276.9,662.0 277.2,662.0 277.6,662.0 278.0,662.0 278.4,662.0 278.8,662.0 279.2,662.0 279.6,662.0 280.0,662.0 280.4,662.0 280.8,662.0 281.1,662.0 281.5,662.0 281.9,662.0 282.3,662.0 282.7,662.0 283.1,662.0 283.5,662.0 283.9,662.0 284.3,662.0 284.6,662.0 285.0,662.0 285.4,662.0 285.8,662.0 286.2,662.0 286.6,662.0 287.0,662.0 287.4,662.0 287.8,662.0 288.2,662.0 288.5,662.0 288.9,662.0 289.3,662.0 289.7,662.0 290.1,662.0 290.5,662.0 290.9,662.0 291.3,662.0 291.7,662.0 292.1,662.0 292.4,662.0 292.8,662.0 293.2,662.0 293.6,662.0 294.0,662.0 294.4,662.0 294.8,662.0 295.2,662.0 295.6,662.0 296.0,662.0 296.3,662.0 296.7,662.0 297.1,662.0 297.5,662.0 297.9,662.0 298.3,662.0 298.7,662.0 299.1,662.0 299.5,662.0 299.9,662.0 300.2,662.0 300.6,662.0 301.0,662.0 301.4,662.0 301.8,662.0 302.2,662.0 302.6,662.0 303.0,662.0 303.4,662.0 303.8,662.0 304.1,662.0 304.5,662.0 304.9,662.0 305.3,662.0 305.7,662.0 306.1,662.0 306.5,662.0 306.9,662.0 307.3,662.0 307.7,662.0 308.0,662.0 308.4,662.0 308.8,662.0 309.2,662.0 309.6,662.0 310.0,662.0 310.4,662.0 310.8,662.0 311.2,662.0 311.6,662.0 311.9,662.0 312.3,662.0 312.7,662.0 313.1,662.0 313.5,662.0 313.9,662.0 314.3,662.0 314.7,662.0 315.1,662.0 315.4,662.0 315.8,662.0 316.2,662.0 316.6,661.9 317.0,661.8 317.4,661.6 317.8,661.4 318.2,661.1 318.6,660.9 319.0,660.7 319.3,660.5 319.7,660.4 320.1,660.2 320.5,660.0 320.9,659.9 321.3,659.7 321.7,659.5 322.1,659.4 322.5,659.3 322.9,659.2 323.2,659.1 323.6,659.1 324.0,659.1 324.4,659.2 324.8,659.3 325.2,659.4 325.6,659.5 326.0,659.7 326.4,659.9 326.8,660.0 327.1,660.2 327.5,660.4 327.9,660.5 328.3,660.7 328.7,660.9 329.1,661.1 329.5,661.4 329.9,661.6 330.3,661.8 330.7,661.9 331.0,662.0 331.4,662.0 331.8,662.0 332.2,662.0 332.6,662.0 333.0,662.0 333.4,662.0 333.8,662.0 334.2,662.0 334.6,662.0 334.9,662.0 335.3,662.0 335.7,662.0 336.1,662.0 336.5,662.0 336.9,662.0 337.3,662.0 337.7,662.0 338.1,662.0 338.5,662.0 338.8,662.0 339.2,662.0 339.6,662.0 340.0,662.0 340.4,662.0 340.8,662.0 341.2,662.0 341.6,662.0 342.0,662.0 342.4,662.0 342.7,662.0 343.1,662.0 343.5,662.0 343.9,662.0 344.3,662.0 344.7,662.0 345.1,662.0 345.5,662.0 345.9,662.0 346.2,662.0 346.6,662.0 347.0,662.0 347.4,662.0 347.8,662.0 348.2,662.0 348.6,662.0 349.0,662.0 349.4,662.0 349.8,661.9 350.1,661.8 350.5,661.7 350.9,661.6 351.3,661.5 351.7,661.4 352.1,661.4 352.5,661.3 352.9,661.2 353.3,661.2 353.7,661.2 354.0,661.3 354.4,661.4 354.8,661.4 355.2,661.5 355.6,661.6 356.0,661.7 356.4,661.8 356.8,661.9 357.2,662.0 357.6,662.0 357.9,662.0 358.3,662.0 358.7,662.0 359.1,662.0 359.5,662.0 359.9,662.0 360.3,662.0 360.7,662.0 361.1,662.0 361.5,662.0 361.8,662.0 362.2,662.0 362.6,662.0 363.0,662.0 363.4,662.0 363.8,662.0 364.2,662.0 364.6,662.0 365.0,662.0 365.4,662.0 365.7,662.0 366.1,662.0 366.5,662.0 366.9,662.0 367.3,662.0 367.7,662.0 368.1,662.0 368.5,662.0 368.9,662.0 369.3,662.0 369.6,662.0 370.0,662.0 370.4,662.0 370.8,662.0 371.2,662.0 371.6,662.0 372.0,662.0 372.4,662.0 372.8,662.0 373.2,662.0 373.5,662.0 373.9,662.0 374.3,662.0 374.7,662.0 375.1,662.0 L375.1,662.3Z" fill="rgba(255,0,0,0.15)" stroke="none"/>
<polyline points="63.2,661.2 63.6,661.3 64.0,661.3 64.4,661.3 64.8,661.4 65.1,661.4 65.5,661.4 65.9,661.5 66.3,661.5 66.7,661.5 67.1,661.5 67.5,661.6 67.9,661.6 68.3,661.6 68.7,661.6 69.0,661.6 69.4,661.7 69.8,661.7 70.2,661.7 70.6,661.7 71.0,661.7 71.4,661.7 71.8,661.7 72.2,661.7 72.6,661.7 72.9,661.7 73.3,661.8 73.7,661.8 74.1,661.8 74.5,661.8 74.9,661.8 75.3,661.8 75.7,661.8 76.1,661.8 76.5,661.8 76.8,661.8 77.2,661.7 77.6,661.7 78.0,661.7 78.4,661.7 78.8,661.7 79.2,661.7 79.6,661.6 80.0,661.6 80.4,661.6 80.7,661.6 81.1,661.5 81.5,661.5 81.9,661.5 82.3,661.4 82.7,661.4 83.1,661.3 83.5,661.3 83.9,661.3 84.3,661.2 84.6,661.2 85.0,661.1 85.4,661.1 85.8,661.0 86.2,661.0 86.6,660.9 87.0,660.9 87.4,660.8 87.8,660.7 88.2,660.7 88.5,660.6 88.9,660.5 89.3,660.4 89.7,660.2 90.1,660.1 90.5,659.9 90.9,659.7 91.3,659.5 91.7,659.3 92.1,659.1 92.4,658.9 92.8,658.6 93.2,658.4 93.6,658.2 94.0,658.0 94.4,657.8 94.8,657.6 95.2,657.4 95.6,657.3 95.9,657.2 96.3,657.1 96.7,657.0 97.1,656.9 97.5,656.9 97.9,656.9 98.3,657.0 98.7,657.1 99.1,657.2 99.5,657.4 99.8,657.6 100.2,657.8 100.6,658.0 101.0,658.3 101.4,658.6 101.8,658.8 102.2,659.1 102.6,659.4 103.0,659.7 103.4,660.0 103.7,660.3 104.1,660.5 104.5,660.8 104.9,661.1 105.3,661.3 105.7,661.5 106.1,661.7 106.5,661.8 106.9,661.9 107.3,662.0 107.6,662.0 108.0,662.0 108.4,662.0 108.8,662.0 109.2,662.0 109.6,662.0 110.0,662.0 110.4,662.0 110.8,662.0 111.2,661.9 111.5,661.9 111.9,661.9 112.3,661.9 112.7,661.9 113.1,661.8 113.5,661.8 113.9,661.8 114.3,661.7 114.7,661.7 115.1,661.7 115.4,661.6 115.8,661.6 116.2,661.6 116.6,661.5 117.0,661.5 117.4,661.4 117.8,661.4 118.2,661.4 118.6,661.3 119.0,661.3 119.3,661.2 119.7,661.2 120.1,661.1 120.5,661.0 120.9,660.9 121.3,660.7 121.7,660.6 122.1,660.4 122.5,660.3 122.9,660.1 123.2,659.9 123.6,659.7 124.0,659.5 124.4,659.4 124.8,659.2 125.2,659.0 125.6,658.8 126.0,658.7 126.4,658.5 126.7,658.4 127.1,658.3 127.5,658.2 127.9,658.1 128.3,658.0 128.7,658.0 129.1,658.0 129.5,658.0 129.9,658.1 130.3,658.1 130.6,658.2 131.0,658.3 131.4,658.4 131.8,658.5 132.2,658.7 132.6,658.8 133.0,659.0 133.4,659.2 133.8,659.4 134.2,659.6 134.5,659.7 134.9,659.9 135.3,660.1 135.7,660.3 136.1,660.5 136.5,660.7 136.9,660.9 137.3,661.1 137.7,661.2 138.1,661.4 138.4,661.5 138.8,661.6 139.2,661.8 139.6,661.8 140.0,661.9 140.4,662.0 140.8,662.0 141.2,662.0 141.6,662.0 142.0,662.0 142.3,662.0 142.7,661.9 143.1,661.9 143.5,661.8 143.9,661.8 144.3,661.7 144.7,661.6 145.1,661.5 145.5,661.4 145.9,661.3 146.2,661.2 146.6,661.1 147.0,661.0 147.4,660.9 147.8,660.8 148.2,660.7 148.6,660.5 149.0,660.4 149.4,660.3 149.8,660.2 150.1,660.1 150.5,659.9 150.9,659.8 151.3,659.6 151.7,659.4 152.1,659.2 152.5,659.0 152.9,658.8 153.3,658.6 153.7,658.4 154.0,658.3 154.4,658.2 154.8,658.1 155.2,658.0 155.6,658.0 156.0,657.9 156.4,657.9 156.8,657.9 157.2,657.8 157.5,657.8 157.9,657.8 158.3,657.8 158.7,657.8 159.1,657.8 159.5,657.8 159.9,657.7 160.3,657.7 160.7,657.7 161.1,657.7 161.4,657.7 161.8,657.7 162.2,657.7 162.6,657.7 163.0,657.6 163.4,657.6 163.8,657.6 164.2,657.6 164.6,657.5 165.0,657.5 165.3,657.4 165.7,657.3 166.1,657.2 166.5,657.0 166.9,656.7 167.3,656.4 167.7,656.1 168.1,655.7 168.5,655.4 168.9,655.0 169.2,654.6 169.6,654.1 170.0,653.7 170.4,653.3 170.8,652.9 171.2,652.5 171.6,652.0 172.0,651.5 172.4,651.0 172.8,650.5 173.1,649.9 173.5,649.3 173.9,648.8 174.3,648.2 174.7,647.6 175.1,647.0 175.5,646.4 175.9,645.9 176.3,645.3 176.7,644.7 177.0,644.2 177.4,643.6 177.8,643.0 178.2,642.4 178.6,641.8 179.0,641.2 179.4,640.5 179.8,639.9 180.2,639.2 180.6,638.5 180.9,637.8 181.3,637.0 181.7,636.3 182.1,635.5 182.5,634.6 182.9,633.7 183.3,632.7 183.7,631.7 184.1,630.5 184.5,629.3 184.8,628.0 185.2,626.6 185.6,625.2 186.0,623.6 186.4,622.0 186.8,620.2 187.2,618.3 187.6,616.4 188.0,614.2 188.3,612.0 188.7,609.6 189.1,607.1 189.5,604.5 189.9,601.8 190.3,598.9 190.7,595.9 191.1,592.4 191.5,588.5 191.9,584.4 192.2,580.0 192.6,575.6 193.0,571.2 193.4,566.9 193.8,562.8 194.2,559.0 194.6,555.5 195.0,552.1 195.4,548.9 195.8,545.7 196.1,542.5 196.5,539.4 196.9,536.3 197.3,533.2 197.7,530.0 198.1,526.8 198.5,523.4 198.9,520.0 199.3,516.5 199.7,513.0 200.0,509.4 200.4,505.8 200.8,502.2 201.2,498.6 201.6,495.0 202.0,491.4 202.4,487.8 202.8,484.1 203.2,480.3 203.6,476.5 203.9,472.7 204.3,469.0 204.7,465.3 205.1,461.7 205.5,458.3 205.9,455.1 206.3,452.1 206.7,449.0 207.1,446.1 207.5,443.6 207.8,441.6 208.2,440.1 208.6,438.7 209.0,437.5 209.4,436.7 209.8,436.4 210.2,436.6 210.6,437.1 211.0,437.8 211.4,438.7 211.7,439.6 212.1,440.8 212.5,442.5 212.9,444.5 213.3,446.7 213.7,448.9 214.1,451.4 214.5,454.2 214.9,457.2 215.3,460.3 215.6,463.7 216.0,467.1 216.4,470.7 216.8,474.7 217.2,478.8 217.6,483.1 218.0,487.2 218.4,491.3 218.8,495.2 219.2,499.0 219.5,502.8 219.9,506.6 220.3,510.5 220.7,514.4 221.1,518.4 221.5,522.6 221.9,527.0 222.3,531.7 222.7,536.7 223.0,541.7 223.4,546.7 223.8,551.7 224.2,556.4 224.6,560.8 225.0,565.1 225.4,569.2 225.8,573.3 226.2,577.3 226.6,581.2 226.9,585.0 227.3,588.7 227.7,592.3 228.1,595.8 228.5,599.3 228.9,602.9 229.3,606.3 229.7,609.7 230.1,613.0 230.5,616.2 230.8,619.3 231.2,622.1 231.6,624.7 232.0,627.1 232.4,629.2 232.8,631.2 233.2,633.1 233.6,634.8 234.0,636.5 234.4,638.1 234.7,639.6 235.1,641.0 235.5,642.4 235.9,643.7 236.3,644.9 236.7,646.1 237.1,647.3 237.5,648.5 237.9,649.7 238.3,650.8 238.6,651.9 239.0,652.9 239.4,653.9 239.8,654.8 240.2,655.6 240.6,656.3 241.0,656.9 241.4,657.5 241.8,658.1 242.2,658.6 242.5,659.1 242.9,659.6 243.3,660.0 243.7,660.4 244.1,660.7 244.5,661.0 244.9,661.2 245.3,661.3 245.7,661.4 246.1,661.5 246.4,661.6 246.8,661.7 247.2,661.7 247.6,661.8 248.0,661.9 248.4,661.9 248.8,662.0 249.2,662.0 249.6,662.0 250.0,662.0 250.3,662.0 250.7,662.0 251.1,662.0 251.5,662.0 251.9,662.0 252.3,662.0 252.7,662.0 253.1,662.0 253.5,662.0 253.8,662.0 254.2,662.0 254.6,662.0 255.0,662.0 255.4,662.0 255.8,662.0 256.2,662.0 256.6,662.0 257.0,662.0 257.4,662.0 257.7,662.0 258.1,662.0 258.5,662.0 258.9,662.0 259.3,662.0 259.7,662.0 260.1,662.0 260.5,662.0 260.9,662.0 261.3,662.0 261.6,662.0 262.0,662.0 262.4,661.9 262.8,661.8 263.2,661.7 263.6,661.6 264.0,661.5 264.4,661.4 264.8,661.2 265.2,661.1 265.5,661.0 265.9,660.9 266.3,660.8 266.7,660.7 267.1,660.7 267.5,660.7 267.9,660.7 268.3,660.8 268.7,660.9 269.1,661.0 269.4,661.1 269.8,661.2 270.2,661.4 270.6,661.5 271.0,661.7 271.4,661.8 271.8,661.9 272.2,662.0 272.6,662.0 273.0,662.0 273.3,662.0 273.7,662.0 274.1,662.0 274.5,662.0 274.9,662.0 275.3,662.0 275.7,662.0 276.1,662.0 276.5,662.0 276.9,662.0 277.2,662.0 277.6,662.0 278.0,662.0 278.4,662.0 278.8,662.0 279.2,662.0 279.6,662.0 280.0,662.0 280.4,662.0 280.8,662.0 281.1,662.0 281.5,662.0 281.9,662.0 282.3,662.0 282.7,662.0 283.1,662.0 283.5,662.0 283.9,662.0 284.3,662.0 284.6,662.0 285.0,662.0 285.4,662.0 285.8,662.0 286.2,662.0 286.6,662.0 287.0,662.0 287.4,662.0 287.8,662.0 288.2,662.0 288.5,662.0 288.9,662.0 289.3,662.0 289.7,662.0 290.1,662.0 290.5,662.0 290.9,662.0 291.3,662.0 291.7,662.0 292.1,662.0 292.4,662.0 292.8,662.0 293.2,662.0 293.6,662.0 294.0,662.0 294.4,662.0 294.8,662.0 295.2,662.0 295.6,662.0 296.0,662.0 296.3,662.0 296.7,662.0 297.1,662.0 297.5,662.0 297.9,662.0 298.3,662.0 298.7,662.0 299.1,662.0 299.5,662.0 299.9,662.0 300.2,662.0 300.6,662.0 301.0,662.0 301.4,662.0 301.8,662.0 302.2,662.0 302.6,662.0 303.0,662.0 303.4,662.0 303.8,662.0 304.1,662.0 304.5,662.0 304.9,662.0 305.3,662.0 305.7,662.0 306.1,662.0 306.5,662.0 306.9,662.0 307.3,662.0 307.7,662.0 308.0,662.0 308.4,662.0 308.8,662.0 309.2,662.0 309.6,662.0 310.0,662.0 310.4,662.0 310.8,662.0 311.2,662.0 311.6,662.0 311.9,662.0 312.3,662.0 312.7,662.0 313.1,662.0 313.5,662.0 313.9,662.0 314.3,662.0 314.7,662.0 315.1,662.0 315.4,662.0 315.8,662.0 316.2,662.0 316.6,661.9 317.0,661.8 317.4,661.6 317.8,661.4 318.2,661.1 318.6,660.9 319.0,660.7 319.3,660.5 319.7,660.4 320.1,660.2 320.5,660.0 320.9,659.9 321.3,659.7 321.7,659.5 322.1,659.4 322.5,659.3 322.9,659.2 323.2,659.1 323.6,659.1 324.0,659.1 324.4,659.2 324.8,659.3 325.2,659.4 325.6,659.5 326.0,659.7 326.4,659.9 326.8,660.0 327.1,660.2 327.5,660.4 327.9,660.5 328.3,660.7 328.7,660.9 329.1,661.1 329.5,661.4 329.9,661.6 330.3,661.8 330.7,661.9 331.0,662.0 331.4,662.0 331.8,662.0 332.2,662.0 332.6,662.0 333.0,662.0 333.4,662.0 333.8,662.0 334.2,662.0 334.6,662.0 334.9,662.0 335.3,662.0 335.7,662.0 336.1,662.0 336.5,662.0 336.9,662.0 337.3,662.0 337.7,662.0 338.1,662.0 338.5,662.0 338.8,662.0 339.2,662.0 339.6,662.0 340.0,662.0 340.4,662.0 340.8,662.0 341.2,662.0 341.6,662.0 342.0,662.0 342.4,662.0 342.7,662.0 343.1,662.0 343.5,662.0 343.9,662.0 344.3,662.0 344.7,662.0 345.1,662.0 345.5,662.0 345.9,662.0 346.2,662.0 346.6,662.0 347.0,662.0 347.4,662.0 347.8,662.0 348.2,662.0 348.6,662.0 349.0,662.0 349.4,662.0 349.8,661.9 350.1,661.8 350.5,661.7 350.9,661.6 351.3,661.5 351.7,661.4 352.1,661.4 352.5,661.3 352.9,661.2 353.3,661.2 353.7,661.2 354.0,661.3 354.4,661.4 354.8,661.4 355.2,661.5 355.6,661.6 356.0,661.7 356.4,661.8 356.8,661.9 357.2,662.0 357.6,662.0 357.9,662.0 358.3,662.0 358.7,662.0 359.1,662.0 359.5,662.0 359.9,662.0 360.3,662.0 360.7,662.0 361.1,662.0 361.5,662.0 361.8,662.0 362.2,662.0 362.6,662.0 363.0,662.0 363.4,662.0 363.8,662.0 364.2,662.0 364.6,662.0 365.0,662.0 365.4,662.0 365.7,662.0 366.1,662.0 366.5,662.0 366.9,662.0 367.3,662.0 367.7,662.0 368.1,662.0 368.5,662.0 368.9,662.0 369.3,662.0 369.6,662.0 370.0,662.0 370.4,662.0 370.8,662.0 371.2,662.0 371.6,662.0 372.0,662.0 372.4,662.0 372.8,662.0 373.2,662.0 373.5,662.0 373.9,662.0 374.3,662.0 374.7,662.0 375.1,662.0" fill="none" stroke="#ff0000" stroke-width="1.1"/>
<path d="M63.2,662.3 L63.2,659.9 63.6,659.9 64.0,659.9 64.4,660.0 64.8,660.0 65.1,660.0 65.5,660.0 65.9,660.1 66.3,660.1 66.7,660.1 67.1,660.1 67.5,660.2 67.9,660.2 68.3,660.2 68.7,660.2 69.0,660.3 69.4,660.3 69.8,660.3 70.2,660.3 70.6,660.3 71.0,660.4 71.4,660.4 71.8,660.4 72.2,660.4 72.6,660.4 72.9,660.5 73.3,660.5 73.7,660.5 74.1,660.5 74.5,660.5 74.9,660.6 75.3,660.6 75.7,660.6 76.1,660.6 76.5,660.6 76.8,660.6 77.2,660.6 77.6,660.7 78.0,660.7 78.4,660.7 78.8,660.7 79.2,660.7 79.6,660.7 80.0,660.7 80.4,660.7 80.7,660.7 81.1,660.7 81.5,660.8 81.9,660.8 82.3,660.8 82.7,660.8 83.1,660.8 83.5,660.8 83.9,660.8 84.3,660.8 84.6,660.8 85.0,660.8 85.4,660.8 85.8,660.9 86.2,660.9 86.6,660.9 87.0,660.9 87.4,660.9 87.8,660.9 88.2,660.9 88.5,660.9 88.9,660.9 89.3,660.9 89.7,660.9 90.1,660.9 90.5,660.9 90.9,660.9 91.3,660.9 91.7,660.9 92.1,660.9 92.4,660.9 92.8,661.0 93.2,661.0 93.6,661.0 94.0,661.0 94.4,661.0 94.8,661.0 95.2,661.0 95.6,661.0 95.9,661.0 96.3,661.0 96.7,661.0 97.1,661.0 97.5,661.0 97.9,661.0 98.3,661.0 98.7,661.0 99.1,661.0 99.5,661.0 99.8,661.0 100.2,661.0 100.6,661.0 101.0,661.0 101.4,661.0 101.8,661.0 102.2,661.0 102.6,661.0 103.0,661.0 103.4,661.0 103.7,661.0 104.1,661.0 104.5,661.0 104.9,661.0 105.3,661.0 105.7,661.0 106.1,661.0 106.5,661.0 106.9,661.0 107.3,661.0 107.6,661.0 108.0,661.0 108.4,661.0 108.8,661.0 109.2,661.0 109.6,661.0 110.0,661.0 110.4,661.0 110.8,661.0 111.2,661.0 111.5,661.0 111.9,661.0 112.3,661.0 112.7,661.0 113.1,661.0 113.5,661.0 113.9,661.0 114.3,661.0 114.7,661.0 115.1,661.0 115.4,661.0 115.8,661.0 116.2,661.0 116.6,661.0 117.0,661.0 117.4,661.0 117.8,661.0 118.2,661.0 118.6,660.9 119.0,660.9 119.3,660.9 119.7,660.9 120.1,660.8 120.5,660.8 120.9,660.7 121.3,660.7 121.7,660.6 122.1,660.5 122.5,660.5 122.9,660.4 123.2,660.3 123.6,660.2 124.0,660.1 124.4,660.1 124.8,660.0 125.2,659.9 125.6,659.8 126.0,659.7 126.4,659.6 126.7,659.5 127.1,659.4 127.5,659.3 127.9,659.2 128.3,659.2 128.7,659.1 129.1,659.0 129.5,658.9 129.9,658.8 130.3,658.7 130.6,658.6 131.0,658.5 131.4,658.3 131.8,658.2 132.2,658.1 132.6,658.0 133.0,657.8 133.4,657.7 133.8,657.6 134.2,657.4 134.5,657.3 134.9,657.2 135.3,657.0 135.7,656.9 136.1,656.8 136.5,656.6 136.9,656.5 137.3,656.4 137.7,656.3 138.1,656.1 138.4,656.0 138.8,655.9 139.2,655.8 139.6,655.7 140.0,655.6 140.4,655.5 140.8,655.5 141.2,655.4 141.6,655.3 142.0,655.2 142.3,655.2 142.7,655.1 143.1,655.0 143.5,655.0 143.9,654.9 144.3,654.8 144.7,654.8 145.1,654.7 145.5,654.7 145.9,654.6 146.2,654.6 146.6,654.5 147.0,654.5 147.4,654.4 147.8,654.4 148.2,654.3 148.6,654.2 149.0,654.2 149.4,654.1 149.8,654.1 150.1,654.0 150.5,654.0 150.9,653.9 151.3,653.8 151.7,653.8 152.1,653.7 152.5,653.6 152.9,653.5 153.3,653.5 153.7,653.4 154.0,653.3 154.4,653.2 154.8,653.1 155.2,653.0 155.6,652.9 156.0,652.8 156.4,652.7 156.8,652.6 157.2,652.4 157.5,652.3 157.9,652.2 158.3,652.0 158.7,651.9 159.1,651.7 159.5,651.5 159.9,651.3 160.3,651.2 160.7,651.0 161.1,650.8 161.4,650.6 161.8,650.3 162.2,650.1 162.6,649.9 163.0,649.6 163.4,649.3 163.8,649.0 164.2,648.7 164.6,648.3 165.0,647.9 165.3,647.5 165.7,647.1 166.1,646.7 166.5,646.3 166.9,645.8 167.3,645.4 167.7,644.9 168.1,644.4 168.5,643.9 168.9,643.4 169.2,642.8 169.6,642.2 170.0,641.6 170.4,640.9 170.8,640.2 171.2,639.4 171.6,638.7 172.0,637.8 172.4,637.0 172.8,636.2 173.1,635.3 173.5,634.5 173.9,633.6 174.3,632.7 174.7,631.8 175.1,630.9 175.5,630.0 175.9,629.2 176.3,628.3 176.7,627.4 177.0,626.5 177.4,625.6 177.8,624.7 178.2,623.8 178.6,622.8 179.0,621.9 179.4,620.9 179.8,619.9 180.2,618.9 180.6,617.9 180.9,616.8 181.3,615.8 181.7,614.6 182.1,613.5 182.5,612.3 182.9,611.1 183.3,609.9 183.7,608.6 184.1,607.2 184.5,605.7 184.8,604.2 185.2,602.7 185.6,601.1 186.0,599.4 186.4,597.7 186.8,595.9 187.2,594.2 187.6,592.3 188.0,590.5 188.3,588.6 188.7,586.6 189.1,584.6 189.5,582.5 189.9,580.4 190.3,578.2 190.7,575.9 191.1,573.7 191.5,571.4 191.9,569.1 192.2,566.8 192.6,564.5 193.0,562.2 193.4,559.9 193.8,557.7 194.2,555.4 194.6,553.0 195.0,550.7 195.4,548.2 195.8,545.8 196.1,543.4 196.5,541.0 196.9,538.6 197.3,536.3 197.7,534.0 198.1,531.7 198.5,529.6 198.9,527.5 199.3,525.5 199.7,523.6 200.0,521.7 200.4,519.9 200.8,518.0 201.2,516.2 201.6,514.5 202.0,512.8 202.4,511.3 202.8,509.9 203.2,508.7 203.6,507.7 203.9,506.7 204.3,505.8 204.7,504.9 205.1,504.0 205.5,503.1 205.9,502.3 206.3,501.6 206.7,501.0 207.1,500.6 207.5,500.2 207.8,500.1 208.2,500.0 208.6,500.2 209.0,500.4 209.4,500.8 209.8,501.4 210.2,502.0 210.6,502.6 211.0,503.4 211.4,504.2 211.7,505.1 212.1,505.9 212.5,506.8 212.9,507.7 213.3,508.6 213.7,509.7 214.1,510.9 214.5,512.2 214.9,513.5 215.3,515.0 215.6,516.6 216.0,518.2 216.4,519.8 216.8,521.6 217.2,523.3 217.6,525.1 218.0,527.0 218.4,528.9 218.8,531.1 219.2,533.2 219.5,535.5 219.9,537.9 220.3,540.3 220.7,542.8 221.1,545.3 221.5,547.8 221.9,550.4 222.3,552.9 222.7,555.5 223.0,558.0 223.4,560.6 223.8,563.2 224.2,565.9 224.6,568.6 225.0,571.4 225.4,574.2 225.8,577.0 226.2,579.8 226.6,582.6 226.9,585.4 227.3,588.0 227.7,590.7 228.1,593.2 228.5,595.7 228.9,598.2 229.3,600.7 229.7,603.2 230.1,605.7 230.5,608.1 230.8,610.5 231.2,612.9 231.6,615.2 232.0,617.5 232.4,619.7 232.8,621.8 233.2,623.9 233.6,625.8 234.0,627.7 234.4,629.5 234.7,631.2 235.1,632.9 235.5,634.5 235.9,636.1 236.3,637.6 236.7,639.1 237.1,640.5 237.5,641.9 237.9,643.1 238.3,644.3 238.6,645.5 239.0,646.5 239.4,647.5 239.8,648.5 240.2,649.5 240.6,650.4 241.0,651.3 241.4,652.1 241.8,653.0 242.2,653.7 242.5,654.5 242.9,655.2 243.3,655.8 243.7,656.4 244.1,656.9 244.5,657.4 244.9,657.9 245.3,658.4 245.7,658.9 246.1,659.4 246.4,659.8 246.8,660.2 247.2,660.5 247.6,660.8 248.0,661.0 248.4,661.2 248.8,661.3 249.2,661.4 249.6,661.5 250.0,661.6 250.3,661.7 250.7,661.8 251.1,661.8 251.5,661.9 251.9,661.9 252.3,662.0 252.7,662.0 253.1,662.0 253.5,662.0 253.8,662.0 254.2,662.0 254.6,662.0 255.0,662.0 255.4,662.0 255.8,662.0 256.2,662.0 256.6,662.0 257.0,662.0 257.4,662.0 257.7,661.9 258.1,661.9 258.5,661.9 258.9,661.9 259.3,661.9 259.7,661.8 260.1,661.8 260.5,661.8 260.9,661.7 261.3,661.5 261.6,661.3 262.0,661.0 262.4,660.6 262.8,660.3 263.2,660.0 263.6,659.8 264.0,659.6 264.4,659.4 264.8,659.3 265.2,659.1 265.5,659.0 265.9,658.9 266.3,658.8 266.7,658.8 267.1,658.9 267.5,659.0 267.9,659.1 268.3,659.2 268.7,659.4 269.1,659.6 269.4,659.8 269.8,660.0 270.2,660.2 270.6,660.4 271.0,660.7 271.4,661.0 271.8,661.3 272.2,661.6 272.6,661.8 273.0,662.0 273.3,662.0 273.7,662.0 274.1,662.0 274.5,662.0 274.9,662.0 275.3,662.0 275.7,662.0 276.1,662.0 276.5,662.0 276.9,662.0 277.2,662.0 277.6,662.0 278.0,662.0 278.4,662.0 278.8,662.0 279.2,662.0 279.6,662.0 280.0,662.0 280.4,662.0 280.8,662.0 281.1,662.0 281.5,662.0 281.9,662.0 282.3,662.0 282.7,662.0 283.1,662.0 283.5,662.0 283.9,662.0 284.3,662.0 284.6,662.0 285.0,662.0 285.4,662.0 285.8,662.0 286.2,662.0 286.6,662.0 287.0,662.0 287.4,662.0 287.8,662.0 288.2,662.0 288.5,662.0 288.9,662.0 289.3,662.0 289.7,662.0 290.1,662.0 290.5,662.0 290.9,662.0 291.3,662.0 291.7,662.0 292.1,662.0 292.4,662.0 292.8,662.0 293.2,662.0 293.6,662.0 294.0,662.0 294.4,662.0 294.8,662.0 295.2,662.0 295.6,662.0 296.0,662.0 296.3,662.0 296.7,662.0 297.1,662.0 297.5,662.0 297.9,662.0 298.3,662.0 298.7,662.0 299.1,662.0 299.5,662.0 299.9,662.0 300.2,662.0 300.6,662.0 301.0,662.0 301.4,662.0 301.8,662.0 302.2,662.0 302.6,662.0 303.0,662.0 303.4,662.0 303.8,662.0 304.1,662.0 304.5,662.0 304.9,662.0 305.3,662.0 305.7,662.0 306.1,662.0 306.5,662.0 306.9,662.0 307.3,662.0 307.7,662.0 308.0,662.0 308.4,662.0 308.8,662.0 309.2,662.0 309.6,662.0 310.0,662.0 310.4,662.0 310.8,662.0 311.2,662.0 311.6,662.0 311.9,662.0 312.3,662.0 312.7,662.0 313.1,662.0 313.5,662.0 313.9,662.0 314.3,662.0 314.7,662.0 315.1,662.0 315.4,662.0 315.8,662.0 316.2,662.0 316.6,662.0 317.0,662.0 317.4,662.0 317.8,662.0 318.2,662.0 318.6,662.0 319.0,662.0 319.3,662.0 319.7,662.0 320.1,662.0 320.5,662.0 320.9,662.0 321.3,662.0 321.7,662.0 322.1,662.0 322.5,662.0 322.9,662.0 323.2,662.0 323.6,662.0 324.0,662.0 324.4,662.0 324.8,662.0 325.2,662.0 325.6,662.0 326.0,662.0 326.4,662.0 326.8,662.0 327.1,662.0 327.5,662.0 327.9,662.0 328.3,662.0 328.7,662.0 329.1,662.0 329.5,662.0 329.9,662.0 330.3,662.0 330.7,662.0 331.0,662.0 331.4,662.0 331.8,662.0 332.2,662.0 332.6,662.0 333.0,662.0 333.4,662.0 333.8,662.0 334.2,662.0 334.6,662.0 334.9,662.0 335.3,662.0 335.7,662.0 336.1,662.0 336.5,662.0 336.9,662.0 337.3,662.0 337.7,662.0 338.1,662.0 338.5,662.0 338.8,662.0 339.2,662.0 339.6,662.0 340.0,662.0 340.4,662.0 340.8,662.0 341.2,662.0 341.6,662.0 342.0,662.0 342.4,662.0 342.7,662.0 343.1,662.0 343.5,662.0 343.9,662.0 344.3,662.0 344.7,662.0 345.1,662.0 345.5,662.0 345.9,662.0 346.2,662.0 346.6,662.0 347.0,662.0 347.4,662.0 347.8,662.0 348.2,662.0 348.6,662.0 349.0,662.0 349.4,662.0 349.8,662.0 350.1,662.0 350.5,662.0 350.9,662.0 351.3,662.0 351.7,662.0 352.1,662.0 352.5,662.0 352.9,662.0 353.3,662.0 353.7,662.0 354.0,662.0 354.4,662.0 354.8,662.0 355.2,662.0 355.6,662.0 356.0,662.0 356.4,662.0 356.8,662.0 357.2,662.0 357.6,662.0 357.9,662.0 358.3,662.0 358.7,662.0 359.1,662.0 359.5,662.0 359.9,662.0 360.3,662.0 360.7,662.0 361.1,662.0 361.5,662.0 361.8,662.0 362.2,662.0 362.6,662.0 363.0,662.0 363.4,662.0 363.8,662.0 364.2,662.0 364.6,662.0 365.0,662.0 365.4,662.0 365.7,662.0 366.1,662.0 366.5,662.0 366.9,662.0 367.3,662.0 367.7,662.0 368.1,662.0 368.5,662.0 368.9,662.0 369.3,662.0 369.6,662.0 370.0,662.0 370.4,662.0 370.8,662.0 371.2,662.0 371.6,662.0 372.0,662.0 372.4,662.0 372.8,662.0 373.2,662.0 373.5,662.0 373.9,662.0 374.3,662.0 374.7,662.0 375.1,662.0 L375.1,662.3Z" fill="rgba(0,255,0,0.22)" stroke="none"/>
<polyline points="63.2,659.9 63.6,659.9 64.0,659.9 64.4,660.0 64.8,660.0 65.1,660.0 65.5,660.0 65.9,660.1 66.3,660.1 66.7,660.1 67.1,660.1 67.5,660.2 67.9,660.2 68.3,660.2 68.7,660.2 69.0,660.3 69.4,660.3 69.8,660.3 70.2,660.3 70.6,660.3 71.0,660.4 71.4,660.4 71.8,660.4 72.2,660.4 72.6,660.4 72.9,660.5 73.3,660.5 73.7,660.5 74.1,660.5 74.5,660.5 74.9,660.6 75.3,660.6 75.7,660.6 76.1,660.6 76.5,660.6 76.8,660.6 77.2,660.6 77.6,660.7 78.0,660.7 78.4,660.7 78.8,660.7 79.2,660.7 79.6,660.7 80.0,660.7 80.4,660.7 80.7,660.7 81.1,660.7 81.5,660.8 81.9,660.8 82.3,660.8 82.7,660.8 83.1,660.8 83.5,660.8 83.9,660.8 84.3,660.8 84.6,660.8 85.0,660.8 85.4,660.8 85.8,660.9 86.2,660.9 86.6,660.9 87.0,660.9 87.4,660.9 87.8,660.9 88.2,660.9 88.5,660.9 88.9,660.9 89.3,660.9 89.7,660.9 90.1,660.9 90.5,660.9 90.9,660.9 91.3,660.9 91.7,660.9 92.1,660.9 92.4,660.9 92.8,661.0 93.2,661.0 93.6,661.0 94.0,661.0 94.4,661.0 94.8,661.0 95.2,661.0 95.6,661.0 95.9,661.0 96.3,661.0 96.7,661.0 97.1,661.0 97.5,661.0 97.9,661.0 98.3,661.0 98.7,661.0 99.1,661.0 99.5,661.0 99.8,661.0 100.2,661.0 100.6,661.0 101.0,661.0 101.4,661.0 101.8,661.0 102.2,661.0 102.6,661.0 103.0,661.0 103.4,661.0 103.7,661.0 104.1,661.0 104.5,661.0 104.9,661.0 105.3,661.0 105.7,661.0 106.1,661.0 106.5,661.0 106.9,661.0 107.3,661.0 107.6,661.0 108.0,661.0 108.4,661.0 108.8,661.0 109.2,661.0 109.6,661.0 110.0,661.0 110.4,661.0 110.8,661.0 111.2,661.0 111.5,661.0 111.9,661.0 112.3,661.0 112.7,661.0 113.1,661.0 113.5,661.0 113.9,661.0 114.3,661.0 114.7,661.0 115.1,661.0 115.4,661.0 115.8,661.0 116.2,661.0 116.6,661.0 117.0,661.0 117.4,661.0 117.8,661.0 118.2,661.0 118.6,660.9 119.0,660.9 119.3,660.9 119.7,660.9 120.1,660.8 120.5,660.8 120.9,660.7 121.3,660.7 121.7,660.6 122.1,660.5 122.5,660.5 122.9,660.4 123.2,660.3 123.6,660.2 124.0,660.1 124.4,660.1 124.8,660.0 125.2,659.9 125.6,659.8 126.0,659.7 126.4,659.6 126.7,659.5 127.1,659.4 127.5,659.3 127.9,659.2 128.3,659.2 128.7,659.1 129.1,659.0 129.5,658.9 129.9,658.8 130.3,658.7 130.6,658.6 131.0,658.5 131.4,658.3 131.8,658.2 132.2,658.1 132.6,658.0 133.0,657.8 133.4,657.7 133.8,657.6 134.2,657.4 134.5,657.3 134.9,657.2 135.3,657.0 135.7,656.9 136.1,656.8 136.5,656.6 136.9,656.5 137.3,656.4 137.7,656.3 138.1,656.1 138.4,656.0 138.8,655.9 139.2,655.8 139.6,655.7 140.0,655.6 140.4,655.5 140.8,655.5 141.2,655.4 141.6,655.3 142.0,655.2 142.3,655.2 142.7,655.1 143.1,655.0 143.5,655.0 143.9,654.9 144.3,654.8 144.7,654.8 145.1,654.7 145.5,654.7 145.9,654.6 146.2,654.6 146.6,654.5 147.0,654.5 147.4,654.4 147.8,654.4 148.2,654.3 148.6,654.2 149.0,654.2 149.4,654.1 149.8,654.1 150.1,654.0 150.5,654.0 150.9,653.9 151.3,653.8 151.7,653.8 152.1,653.7 152.5,653.6 152.9,653.5 153.3,653.5 153.7,653.4 154.0,653.3 154.4,653.2 154.8,653.1 155.2,653.0 155.6,652.9 156.0,652.8 156.4,652.7 156.8,652.6 157.2,652.4 157.5,652.3 157.9,652.2 158.3,652.0 158.7,651.9 159.1,651.7 159.5,651.5 159.9,651.3 160.3,651.2 160.7,651.0 161.1,650.8 161.4,650.6 161.8,650.3 162.2,650.1 162.6,649.9 163.0,649.6 163.4,649.3 163.8,649.0 164.2,648.7 164.6,648.3 165.0,647.9 165.3,647.5 165.7,647.1 166.1,646.7 166.5,646.3 166.9,645.8 167.3,645.4 167.7,644.9 168.1,644.4 168.5,643.9 168.9,643.4 169.2,642.8 169.6,642.2 170.0,641.6 170.4,640.9 170.8,640.2 171.2,639.4 171.6,638.7 172.0,637.8 172.4,637.0 172.8,636.2 173.1,635.3 173.5,634.5 173.9,633.6 174.3,632.7 174.7,631.8 175.1,630.9 175.5,630.0 175.9,629.2 176.3,628.3 176.7,627.4 177.0,626.5 177.4,625.6 177.8,624.7 178.2,623.8 178.6,622.8 179.0,621.9 179.4,620.9 179.8,619.9 180.2,618.9 180.6,617.9 180.9,616.8 181.3,615.8 181.7,614.6 182.1,613.5 182.5,612.3 182.9,611.1 183.3,609.9 183.7,608.6 184.1,607.2 184.5,605.7 184.8,604.2 185.2,602.7 185.6,601.1 186.0,599.4 186.4,597.7 186.8,595.9 187.2,594.2 187.6,592.3 188.0,590.5 188.3,588.6 188.7,586.6 189.1,584.6 189.5,582.5 189.9,580.4 190.3,578.2 190.7,575.9 191.1,573.7 191.5,571.4 191.9,569.1 192.2,566.8 192.6,564.5 193.0,562.2 193.4,559.9 193.8,557.7 194.2,555.4 194.6,553.0 195.0,550.7 195.4,548.2 195.8,545.8 196.1,543.4 196.5,541.0 196.9,538.6 197.3,536.3 197.7,534.0 198.1,531.7 198.5,529.6 198.9,527.5 199.3,525.5 199.7,523.6 200.0,521.7 200.4,519.9 200.8,518.0 201.2,516.2 201.6,514.5 202.0,512.8 202.4,511.3 202.8,509.9 203.2,508.7 203.6,507.7 203.9,506.7 204.3,505.8 204.7,504.9 205.1,504.0 205.5,503.1 205.9,502.3 206.3,501.6 206.7,501.0 207.1,500.6 207.5,500.2 207.8,500.1 208.2,500.0 208.6,500.2 209.0,500.4 209.4,500.8 209.8,501.4 210.2,502.0 210.6,502.6 211.0,503.4 211.4,504.2 211.7,505.1 212.1,505.9 212.5,506.8 212.9,507.7 213.3,508.6 213.7,509.7 214.1,510.9 214.5,512.2 214.9,513.5 215.3,515.0 215.6,516.6 216.0,518.2 216.4,519.8 216.8,521.6 217.2,523.3 217.6,525.1 218.0,527.0 218.4,528.9 218.8,531.1 219.2,533.2 219.5,535.5 219.9,537.9 220.3,540.3 220.7,542.8 221.1,545.3 221.5,547.8 221.9,550.4 222.3,552.9 222.7,555.5 223.0,558.0 223.4,560.6 223.8,563.2 224.2,565.9 224.6,568.6 225.0,571.4 225.4,574.2 225.8,577.0 226.2,579.8 226.6,582.6 226.9,585.4 227.3,588.0 227.7,590.7 228.1,593.2 228.5,595.7 228.9,598.2 229.3,600.7 229.7,603.2 230.1,605.7 230.5,608.1 230.8,610.5 231.2,612.9 231.6,615.2 232.0,617.5 232.4,619.7 232.8,621.8 233.2,623.9 233.6,625.8 234.0,627.7 234.4,629.5 234.7,631.2 235.1,632.9 235.5,634.5 235.9,636.1 236.3,637.6 236.7,639.1 237.1,640.5 237.5,641.9 237.9,643.1 238.3,644.3 238.6,645.5 239.0,646.5 239.4,647.5 239.8,648.5 240.2,649.5 240.6,650.4 241.0,651.3 241.4,652.1 241.8,653.0 242.2,653.7 242.5,654.5 242.9,655.2 243.3,655.8 243.7,656.4 244.1,656.9 244.5,657.4 244.9,657.9 245.3,658.4 245.7,658.9 246.1,659.4 246.4,659.8 246.8,660.2 247.2,660.5 247.6,660.8 248.0,661.0 248.4,661.2 248.8,661.3 249.2,661.4 249.6,661.5 250.0,661.6 250.3,661.7 250.7,661.8 251.1,661.8 251.5,661.9 251.9,661.9 252.3,662.0 252.7,662.0 253.1,662.0 253.5,662.0 253.8,662.0 254.2,662.0 254.6,662.0 255.0,662.0 255.4,662.0 255.8,662.0 256.2,662.0 256.6,662.0 257.0,662.0 257.4,662.0 257.7,661.9 258.1,661.9 258.5,661.9 258.9,661.9 259.3,661.9 259.7,661.8 260.1,661.8 260.5,661.8 260.9,661.7 261.3,661.5 261.6,661.3 262.0,661.0 262.4,660.6 262.8,660.3 263.2,660.0 263.6,659.8 264.0,659.6 264.4,659.4 264.8,659.3 265.2,659.1 265.5,659.0 265.9,658.9 266.3,658.8 266.7,658.8 267.1,658.9 267.5,659.0 267.9,659.1 268.3,659.2 268.7,659.4 269.1,659.6 269.4,659.8 269.8,660.0 270.2,660.2 270.6,660.4 271.0,660.7 271.4,661.0 271.8,661.3 272.2,661.6 272.6,661.8 273.0,662.0 273.3,662.0 273.7,662.0 274.1,662.0 274.5,662.0 274.9,662.0 275.3,662.0 275.7,662.0 276.1,662.0 276.5,662.0 276.9,662.0 277.2,662.0 277.6,662.0 278.0,662.0 278.4,662.0 278.8,662.0 279.2,662.0 279.6,662.0 280.0,662.0 280.4,662.0 280.8,662.0 281.1,662.0 281.5,662.0 281.9,662.0 282.3,662.0 282.7,662.0 283.1,662.0 283.5,662.0 283.9,662.0 284.3,662.0 284.6,662.0 285.0,662.0 285.4,662.0 285.8,662.0 286.2,662.0 286.6,662.0 287.0,662.0 287.4,662.0 287.8,662.0 288.2,662.0 288.5,662.0 288.9,662.0 289.3,662.0 289.7,662.0 290.1,662.0 290.5,662.0 290.9,662.0 291.3,662.0 291.7,662.0 292.1,662.0 292.4,662.0 292.8,662.0 293.2,662.0 293.6,662.0 294.0,662.0 294.4,662.0 294.8,662.0 295.2,662.0 295.6,662.0 296.0,662.0 296.3,662.0 296.7,662.0 297.1,662.0 297.5,662.0 297.9,662.0 298.3,662.0 298.7,662.0 299.1,662.0 299.5,662.0 299.9,662.0 300.2,662.0 300.6,662.0 301.0,662.0 301.4,662.0 301.8,662.0 302.2,662.0 302.6,662.0 303.0,662.0 303.4,662.0 303.8,662.0 304.1,662.0 304.5,662.0 304.9,662.0 305.3,662.0 305.7,662.0 306.1,662.0 306.5,662.0 306.9,662.0 307.3,662.0 307.7,662.0 308.0,662.0 308.4,662.0 308.8,662.0 309.2,662.0 309.6,662.0 310.0,662.0 310.4,662.0 310.8,662.0 311.2,662.0 311.6,662.0 311.9,662.0 312.3,662.0 312.7,662.0 313.1,662.0 313.5,662.0 313.9,662.0 314.3,662.0 314.7,662.0 315.1,662.0 315.4,662.0 315.8,662.0 316.2,662.0 316.6,662.0 317.0,662.0 317.4,662.0 317.8,662.0 318.2,662.0 318.6,662.0 319.0,662.0 319.3,662.0 319.7,662.0 320.1,662.0 320.5,662.0 320.9,662.0 321.3,662.0 321.7,662.0 322.1,662.0 322.5,662.0 322.9,662.0 323.2,662.0 323.6,662.0 324.0,662.0 324.4,662.0 324.8,662.0 325.2,662.0 325.6,662.0 326.0,662.0 326.4,662.0 326.8,662.0 327.1,662.0 327.5,662.0 327.9,662.0 328.3,662.0 328.7,662.0 329.1,662.0 329.5,662.0 329.9,662.0 330.3,662.0 330.7,662.0 331.0,662.0 331.4,662.0 331.8,662.0 332.2,662.0 332.6,662.0 333.0,662.0 333.4,662.0 333.8,662.0 334.2,662.0 334.6,662.0 334.9,662.0 335.3,662.0 335.7,662.0 336.1,662.0 336.5,662.0 336.9,662.0 337.3,662.0 337.7,662.0 338.1,662.0 338.5,662.0 338.8,662.0 339.2,662.0 339.6,662.0 340.0,662.0 340.4,662.0 340.8,662.0 341.2,662.0 341.6,662.0 342.0,662.0 342.4,662.0 342.7,662.0 343.1,662.0 343.5,662.0 343.9,662.0 344.3,662.0 344.7,662.0 345.1,662.0 345.5,662.0 345.9,662.0 346.2,662.0 346.6,662.0 347.0,662.0 347.4,662.0 347.8,662.0 348.2,662.0 348.6,662.0 349.0,662.0 349.4,662.0 349.8,662.0 350.1,662.0 350.5,662.0 350.9,662.0 351.3,662.0 351.7,662.0 352.1,662.0 352.5,662.0 352.9,662.0 353.3,662.0 353.7,662.0 354.0,662.0 354.4,662.0 354.8,662.0 355.2,662.0 355.6,662.0 356.0,662.0 356.4,662.0 356.8,662.0 357.2,662.0 357.6,662.0 357.9,662.0 358.3,662.0 358.7,662.0 359.1,662.0 359.5,662.0 359.9,662.0 360.3,662.0 360.7,662.0 361.1,662.0 361.5,662.0 361.8,662.0 362.2,662.0 362.6,662.0 363.0,662.0 363.4,662.0 363.8,662.0 364.2,662.0 364.6,662.0 365.0,662.0 365.4,662.0 365.7,662.0 366.1,662.0 366.5,662.0 366.9,662.0 367.3,662.0 367.7,662.0 368.1,662.0 368.5,662.0 368.9,662.0 369.3,662.0 369.6,662.0 370.0,662.0 370.4,662.0 370.8,662.0 371.2,662.0 371.6,662.0 372.0,662.0 372.4,662.0 372.8,662.0 373.2,662.0 373.5,662.0 373.9,662.0 374.3,662.0 374.7,662.0 375.1,662.0" fill="none" stroke="#008000" stroke-width="1.1"/>
<path d="M63.2,662.3 L63.2,658.8 63.6,658.7 64.0,658.6 64.4,658.5 64.8,658.4 65.1,658.3 65.5,658.3 65.9,658.2 66.3,658.1 66.7,658.1 67.1,658.0 67.5,657.9 67.9,657.9 68.3,657.8 68.7,657.8 69.0,657.8 69.4,657.7 69.8,657.7 70.2,657.6 70.6,657.6 71.0,657.6 71.4,657.6 71.8,657.5 72.2,657.5 72.6,657.5 72.9,657.5 73.3,657.5 73.7,657.5 74.1,657.5 74.5,657.5 74.9,657.5 75.3,657.5 75.7,657.5 76.1,657.5 76.5,657.5 76.8,657.6 77.2,657.7 77.6,657.7 78.0,657.8 78.4,657.9 78.8,658.0 79.2,658.1 79.6,658.2 80.0,658.3 80.4,658.4 80.7,658.5 81.1,658.6 81.5,658.7 81.9,658.9 82.3,659.0 82.7,659.1 83.1,659.2 83.5,659.3 83.9,659.4 84.3,659.5 84.6,659.6 85.0,659.6 85.4,659.7 85.8,659.8 86.2,659.8 86.6,659.8 87.0,659.9 87.4,659.9 87.8,659.9 88.2,659.9 88.5,659.8 88.9,659.7 89.3,659.7 89.7,659.5 90.1,659.4 90.5,659.3 90.9,659.1 91.3,659.0 91.7,658.8 92.1,658.6 92.4,658.4 92.8,658.2 93.2,657.9 93.6,657.7 94.0,657.5 94.4,657.2 94.8,656.9 95.2,656.7 95.6,656.4 95.9,656.2 96.3,655.9 96.7,655.6 97.1,655.4 97.5,655.1 97.9,654.8 98.3,654.6 98.7,654.3 99.1,654.1 99.5,653.9 99.8,653.6 100.2,653.4 100.6,653.2 101.0,653.0 101.4,652.8 101.8,652.6 102.2,652.5 102.6,652.3 103.0,652.2 103.4,652.1 103.7,652.0 104.1,651.9 104.5,651.9 104.9,651.8 105.3,651.8 105.7,651.8 106.1,651.8 106.5,651.8 106.9,651.9 107.3,651.9 107.6,651.9 108.0,652.0 108.4,652.0 108.8,652.1 109.2,652.1 109.6,652.2 110.0,652.3 110.4,652.3 110.8,652.4 111.2,652.5 111.5,652.5 111.9,652.6 112.3,652.6 112.7,652.7 113.1,652.8 113.5,652.8 113.9,652.9 114.3,652.9 114.7,652.9 115.1,653.0 115.4,653.0 115.8,653.0 116.2,653.0 116.6,653.0 117.0,653.0 117.4,653.0 117.8,652.9 118.2,652.8 118.6,652.7 119.0,652.6 119.3,652.5 119.7,652.3 120.1,652.2 120.5,652.0 120.9,651.8 121.3,651.6 121.7,651.4 122.1,651.2 122.5,651.0 122.9,650.8 123.2,650.6 123.6,650.4 124.0,650.2 124.4,650.0 124.8,649.8 125.2,649.6 125.6,649.4 126.0,649.2 126.4,649.0 126.7,648.9 127.1,648.7 127.5,648.6 127.9,648.4 128.3,648.3 128.7,648.2 129.1,648.2 129.5,648.1 129.9,648.1 130.3,648.0 130.6,648.1 131.0,648.1 131.4,648.1 131.8,648.2 132.2,648.2 132.6,648.3 133.0,648.3 133.4,648.4 133.8,648.5 134.2,648.6 134.5,648.7 134.9,648.8 135.3,648.9 135.7,649.0 136.1,649.1 136.5,649.3 136.9,649.4 137.3,649.5 137.7,649.6 138.1,649.7 138.4,649.8 138.8,649.9 139.2,650.0 139.6,650.1 140.0,650.2 140.4,650.2 140.8,650.3 141.2,650.4 141.6,650.4 142.0,650.4 142.3,650.5 142.7,650.5 143.1,650.5 143.5,650.4 143.9,650.4 144.3,650.4 144.7,650.3 145.1,650.3 145.5,650.2 145.9,650.1 146.2,650.0 146.6,649.9 147.0,649.8 147.4,649.7 147.8,649.6 148.2,649.4 148.6,649.3 149.0,649.2 149.4,649.0 149.8,648.9 150.1,648.7 150.5,648.5 150.9,648.4 151.3,648.2 151.7,648.1 152.1,647.9 152.5,647.7 152.9,647.5 153.3,647.4 153.7,647.2 154.0,647.0 154.4,646.9 154.8,646.7 155.2,646.5 155.6,646.4 156.0,646.2 156.4,646.1 156.8,645.9 157.2,645.8 157.5,645.6 157.9,645.5 158.3,645.3 158.7,645.2 159.1,645.1 159.5,645.0 159.9,644.9 160.3,644.8 160.7,644.7 161.1,644.6 161.4,644.6 161.8,644.5 162.2,644.4 162.6,644.4 163.0,644.3 163.4,644.2 163.8,644.2 164.2,644.1 164.6,644.1 165.0,644.0 165.3,644.0 165.7,643.9 166.1,643.8 166.5,643.8 166.9,643.7 167.3,643.6 167.7,643.6 168.1,643.5 168.5,643.4 168.9,643.3 169.2,643.2 169.6,643.1 170.0,643.0 170.4,642.9 170.8,642.7 171.2,642.5 171.6,642.3 172.0,642.1 172.4,641.9 172.8,641.6 173.1,641.3 173.5,641.0 173.9,640.7 174.3,640.4 174.7,640.0 175.1,639.6 175.5,639.2 175.9,638.7 176.3,638.1 176.7,637.4 177.0,636.6 177.4,635.7 177.8,634.8 178.2,633.8 178.6,632.8 179.0,631.8 179.4,630.8 179.8,629.7 180.2,628.7 180.6,627.7 180.9,626.6 181.3,625.4 181.7,624.3 182.1,623.1 182.5,621.8 182.9,620.6 183.3,619.3 183.7,618.0 184.1,616.6 184.5,615.3 184.8,613.9 185.2,612.5 185.6,611.1 186.0,609.6 186.4,608.1 186.8,606.6 187.2,605.1 187.6,603.5 188.0,601.9 188.3,600.3 188.7,598.6 189.1,596.9 189.5,595.2 189.9,593.4 190.3,591.5 190.7,589.5 191.1,587.4 191.5,585.2 191.9,583.0 192.2,580.7 192.6,578.4 193.0,576.0 193.4,573.7 193.8,571.3 194.2,569.0 194.6,566.7 195.0,564.5 195.4,562.3 195.8,560.2 196.1,558.2 196.5,556.1 196.9,554.0 197.3,551.9 197.7,549.8 198.1,547.7 198.5,545.6 198.9,543.6 199.3,541.6 199.7,539.7 200.0,537.9 200.4,536.2 200.8,534.5 201.2,533.1 201.6,531.7 202.0,530.5 202.4,529.4 202.8,528.3 203.2,527.2 203.6,526.1 203.9,525.1 204.3,524.0 204.7,523.1 205.1,522.3 205.5,521.5 205.9,520.9 206.3,520.4 206.7,520.0 207.1,519.8 207.5,519.8 207.8,519.9 208.2,520.3 208.6,520.7 209.0,521.3 209.4,522.0 209.8,522.7 210.2,523.6 210.6,524.5 211.0,525.5 211.4,526.5 211.7,527.5 212.1,528.5 212.5,529.6 212.9,530.5 213.3,531.5 213.7,532.6 214.1,533.6 214.5,534.8 214.9,536.0 215.3,537.2 215.6,538.5 216.0,539.8 216.4,541.1 216.8,542.5 217.2,544.0 217.6,545.5 218.0,547.0 218.4,548.6 218.8,550.3 219.2,551.9 219.5,553.6 219.9,555.4 220.3,557.2 220.7,559.0 221.1,561.0 221.5,563.1 221.9,565.4 222.3,567.9 222.7,570.4 223.0,573.1 223.4,575.8 223.8,578.5 224.2,581.3 224.6,584.1 225.0,586.8 225.4,589.5 225.8,592.2 226.2,594.8 226.6,597.4 226.9,600.1 227.3,602.8 227.7,605.6 228.1,608.3 228.5,611.1 228.9,613.8 229.3,616.4 229.7,619.0 230.1,621.4 230.5,623.8 230.8,626.0 231.2,628.0 231.6,629.9 232.0,631.8 232.4,633.6 232.8,635.4 233.2,637.0 233.6,638.7 234.0,640.2 234.4,641.6 234.7,643.0 235.1,644.3 235.5,645.5 235.9,646.5 236.3,647.6 236.7,648.6 237.1,649.6 237.5,650.5 237.9,651.4 238.3,652.2 238.6,653.1 239.0,653.8 239.4,654.5 239.8,655.2 240.2,655.8 240.6,656.4 241.0,656.9 241.4,657.4 241.8,657.9 242.2,658.4 242.5,658.9 242.9,659.4 243.3,659.8 243.7,660.1 244.1,660.4 244.5,660.6 244.9,660.7 245.3,660.7 245.7,660.7 246.1,660.6 246.4,660.5 246.8,660.5 247.2,660.4 247.6,660.3 248.0,660.2 248.4,660.2 248.8,660.1 249.2,660.1 249.6,660.1 250.0,660.1 250.3,660.1 250.7,660.0 251.1,660.0 251.5,660.0 251.9,660.0 252.3,660.0 252.7,660.0 253.1,659.9 253.5,659.9 253.8,659.9 254.2,659.9 254.6,659.9 255.0,659.9 255.4,659.9 255.8,659.9 256.2,659.9 256.6,659.9 257.0,659.9 257.4,659.9 257.7,659.9 258.1,659.9 258.5,659.9 258.9,660.0 259.3,660.0 259.7,660.0 260.1,660.1 260.5,660.1 260.9,660.2 261.3,660.2 261.6,660.3 262.0,660.3 262.4,660.4 262.8,660.4 263.2,660.5 263.6,660.7 264.0,660.9 264.4,661.1 264.8,661.3 265.2,661.6 265.5,661.8 265.9,661.9 266.3,662.0 266.7,662.0 267.1,662.0 267.5,662.0 267.9,662.0 268.3,662.0 268.7,662.0 269.1,662.0 269.4,662.0 269.8,662.0 270.2,662.0 270.6,662.0 271.0,662.0 271.4,662.0 271.8,662.0 272.2,662.0 272.6,662.0 273.0,662.0 273.3,662.0 273.7,662.0 274.1,662.0 274.5,662.0 274.9,662.0 275.3,662.0 275.7,662.0 276.1,662.0 276.5,662.0 276.9,662.0 277.2,662.0 277.6,662.0 278.0,662.0 278.4,662.0 278.8,662.0 279.2,662.0 279.6,662.0 280.0,662.0 280.4,662.0 280.8,662.0 281.1,662.0 281.5,662.0 281.9,662.0 282.3,662.0 282.7,662.0 283.1,662.0 283.5,662.0 283.9,661.9 284.3,661.7 284.6,661.5 285.0,661.3 285.4,661.1 285.8,660.9 286.2,660.7 286.6,660.5 287.0,660.4 287.4,660.2 287.8,660.1 288.2,660.0 288.5,659.9 288.9,659.8 289.3,659.7 289.7,659.6 290.1,659.5 290.5,659.4 290.9,659.4 291.3,659.3 291.7,659.3 292.1,659.4 292.4,659.4 292.8,659.5 293.2,659.6 293.6,659.7 294.0,659.8 294.4,659.9 294.8,660.0 295.2,660.1 295.6,660.2 296.0,660.4 296.3,660.5 296.7,660.6 297.1,660.8 297.5,660.9 297.9,661.1 298.3,661.3 298.7,661.5 299.1,661.6 299.5,661.8 299.9,661.9 300.2,662.0 300.6,662.0 301.0,662.0 301.4,662.0 301.8,662.0 302.2,662.0 302.6,662.0 303.0,662.0 303.4,662.0 303.8,662.0 304.1,662.0 304.5,662.0 304.9,662.0 305.3,662.0 305.7,662.0 306.1,662.0 306.5,662.0 306.9,662.0 307.3,662.0 307.7,662.0 308.0,662.0 308.4,662.0 308.8,662.0 309.2,662.0 309.6,662.0 310.0,662.0 310.4,662.0 310.8,662.0 311.2,662.0 311.6,662.0 311.9,662.0 312.3,662.0 312.7,662.0 313.1,662.0 313.5,662.0 313.9,662.0 314.3,662.0 314.7,662.0 315.1,662.0 315.4,662.0 315.8,662.0 316.2,662.0 316.6,661.9 317.0,661.8 317.4,661.6 317.8,661.4 318.2,661.2 318.6,661.1 319.0,661.0 319.3,660.9 319.7,660.7 320.1,660.6 320.5,660.5 320.9,660.4 321.3,660.4 321.7,660.3 322.1,660.2 322.5,660.2 322.9,660.2 323.2,660.2 323.6,660.2 324.0,660.2 324.4,660.3 324.8,660.4 325.2,660.5 325.6,660.6 326.0,660.7 326.4,660.8 326.8,660.9 327.1,661.0 327.5,661.1 327.9,661.2 328.3,661.4 328.7,661.5 329.1,661.7 329.5,661.8 329.9,661.9 330.3,662.0 330.7,662.0 331.0,662.0 331.4,662.0 331.8,662.0 332.2,662.0 332.6,662.0 333.0,662.0 333.4,662.0 333.8,662.0 334.2,662.0 334.6,662.0 334.9,662.0 335.3,662.0 335.7,662.0 336.1,662.0 336.5,662.0 336.9,662.0 337.3,662.0 337.7,662.0 338.1,662.0 338.5,662.0 338.8,662.0 339.2,662.0 339.6,662.0 340.0,662.0 340.4,662.0 340.8,662.0 341.2,662.0 341.6,662.0 342.0,662.0 342.4,662.0 342.7,662.0 343.1,662.0 343.5,662.0 343.9,662.0 344.3,662.0 344.7,662.0 345.1,662.0 345.5,662.0 345.9,662.0 346.2,662.0 346.6,662.0 347.0,662.0 347.4,662.0 347.8,662.0 348.2,662.0 348.6,662.0 349.0,662.0 349.4,662.0 349.8,662.0 350.1,662.0 350.5,662.0 350.9,662.0 351.3,662.0 351.7,662.0 352.1,662.0 352.5,662.0 352.9,662.0 353.3,662.0 353.7,662.0 354.0,662.0 354.4,662.0 354.8,662.0 355.2,662.0 355.6,662.0 356.0,662.0 356.4,662.0 356.8,662.0 357.2,662.0 357.6,662.0 357.9,662.0 358.3,662.0 358.7,661.9 359.1,661.8 359.5,661.7 359.9,661.6 360.3,661.5 360.7,661.3 361.1,661.2 361.5,661.1 361.8,661.0 362.2,660.9 362.6,660.8 363.0,660.7 363.4,660.7 363.8,660.7 364.2,660.7 364.6,660.8 365.0,660.9 365.4,661.0 365.7,661.1 366.1,661.2 366.5,661.3 366.9,661.4 367.3,661.5 367.7,661.6 368.1,661.8 368.5,661.9 368.9,662.0 369.3,662.0 369.6,662.0 370.0,662.0 370.4,662.0 370.8,662.0 371.2,662.0 371.6,662.0 372.0,662.0 372.4,662.0 372.8,662.0 373.2,662.0 373.5,662.0 373.9,662.0 374.3,662.0 374.7,662.0 375.1,662.0 L375.1,662.3Z" fill="rgba(0,0,255,0.30)" stroke="none"/>
<polyline points="63.2,658.8 63.6,658.7 64.0,658.6 64.4,658.5 64.8,658.4 65.1,658.3 65.5,658.3 65.9,658.2 66.3,658.1 66.7,658.1 67.1,658.0 67.5,657.9 67.9,657.9 68.3,657.8 68.7,657.8 69.0,657.8 69.4,657.7 69.8,657.7 70.2,657.6 70.6,657.6 71.0,657.6 71.4,657.6 71.8,657.5 72.2,657.5 72.6,657.5 72.9,657.5 73.3,657.5 73.7,657.5 74.1,657.5 74.5,657.5 74.9,657.5 75.3,657.5 75.7,657.5 76.1,657.5 76.5,657.5 76.8,657.6 77.2,657.7 77.6,657.7 78.0,657.8 78.4,657.9 78.8,658.0 79.2,658.1 79.6,658.2 80.0,658.3 80.4,658.4 80.7,658.5 81.1,658.6 81.5,658.7 81.9,658.9 82.3,659.0 82.7,659.1 83.1,659.2 83.5,659.3 83.9,659.4 84.3,659.5 84.6,659.6 85.0,659.6 85.4,659.7 85.8,659.8 86.2,659.8 86.6,659.8 87.0,659.9 87.4,659.9 87.8,659.9 88.2,659.9 88.5,659.8 88.9,659.7 89.3,659.7 89.7,659.5 90.1,659.4 90.5,659.3 90.9,659.1 91.3,659.0 91.7,658.8 92.1,658.6 92.4,658.4 92.8,658.2 93.2,657.9 93.6,657.7 94.0,657.5 94.4,657.2 94.8,656.9 95.2,656.7 95.6,656.4 95.9,656.2 96.3,655.9 96.7,655.6 97.1,655.4 97.5,655.1 97.9,654.8 98.3,654.6 98.7,654.3 99.1,654.1 99.5,653.9 99.8,653.6 100.2,653.4 100.6,653.2 101.0,653.0 101.4,652.8 101.8,652.6 102.2,652.5 102.6,652.3 103.0,652.2 103.4,652.1 103.7,652.0 104.1,651.9 104.5,651.9 104.9,651.8 105.3,651.8 105.7,651.8 106.1,651.8 106.5,651.8 106.9,651.9 107.3,651.9 107.6,651.9 108.0,652.0 108.4,652.0 108.8,652.1 109.2,652.1 109.6,652.2 110.0,652.3 110.4,652.3 110.8,652.4 111.2,652.5 111.5,652.5 111.9,652.6 112.3,652.6 112.7,652.7 113.1,652.8 113.5,652.8 113.9,652.9 114.3,652.9 114.7,652.9 115.1,653.0 115.4,653.0 115.8,653.0 116.2,653.0 116.6,653.0 117.0,653.0 117.4,653.0 117.8,652.9 118.2,652.8 118.6,652.7 119.0,652.6 119.3,652.5 119.7,652.3 120.1,652.2 120.5,652.0 120.9,651.8 121.3,651.6 121.7,651.4 122.1,651.2 122.5,651.0 122.9,650.8 123.2,650.6 123.6,650.4 124.0,650.2 124.4,650.0 124.8,649.8 125.2,649.6 125.6,649.4 126.0,649.2 126.4,649.0 126.7,648.9 127.1,648.7 127.5,648.6 127.9,648.4 128.3,648.3 128.7,648.2 129.1,648.2 129.5,648.1 129.9,648.1 130.3,648.0 130.6,648.1 131.0,648.1 131.4,648.1 131.8,648.2 132.2,648.2 132.6,648.3 133.0,648.3 133.4,648.4 133.8,648.5 134.2,648.6 134.5,648.7 134.9,648.8 135.3,648.9 135.7,649.0 136.1,649.1 136.5,649.3 136.9,649.4 137.3,649.5 137.7,649.6 138.1,649.7 138.4,649.8 138.8,649.9 139.2,650.0 139.6,650.1 140.0,650.2 140.4,650.2 140.8,650.3 141.2,650.4 141.6,650.4 142.0,650.4 142.3,650.5 142.7,650.5 143.1,650.5 143.5,650.4 143.9,650.4 144.3,650.4 144.7,650.3 145.1,650.3 145.5,650.2 145.9,650.1 146.2,650.0 146.6,649.9 147.0,649.8 147.4,649.7 147.8,649.6 148.2,649.4 148.6,649.3 149.0,649.2 149.4,649.0 149.8,648.9 150.1,648.7 150.5,648.5 150.9,648.4 151.3,648.2 151.7,648.1 152.1,647.9 152.5,647.7 152.9,647.5 153.3,647.4 153.7,647.2 154.0,647.0 154.4,646.9 154.8,646.7 155.2,646.5 155.6,646.4 156.0,646.2 156.4,646.1 156.8,645.9 157.2,645.8 157.5,645.6 157.9,645.5 158.3,645.3 158.7,645.2 159.1,645.1 159.5,645.0 159.9,644.9 160.3,644.8 160.7,644.7 161.1,644.6 161.4,644.6 161.8,644.5 162.2,644.4 162.6,644.4 163.0,644.3 163.4,644.2 163.8,644.2 164.2,644.1 164.6,644.1 165.0,644.0 165.3,644.0 165.7,643.9 166.1,643.8 166.5,643.8 166.9,643.7 167.3,643.6 167.7,643.6 168.1,643.5 168.5,643.4 168.9,643.3 169.2,643.2 169.6,643.1 170.0,643.0 170.4,642.9 170.8,642.7 171.2,642.5 171.6,642.3 172.0,642.1 172.4,641.9 172.8,641.6 173.1,641.3 173.5,641.0 173.9,640.7 174.3,640.4 174.7,640.0 175.1,639.6 175.5,639.2 175.9,638.7 176.3,638.1 176.7,637.4 177.0,636.6 177.4,635.7 177.8,634.8 178.2,633.8 178.6,632.8 179.0,631.8 179.4,630.8 179.8,629.7 180.2,628.7 180.6,627.7 180.9,626.6 181.3,625.4 181.7,624.3 182.1,623.1 182.5,621.8 182.9,620.6 183.3,619.3 183.7,618.0 184.1,616.6 184.5,615.3 184.8,613.9 185.2,612.5 185.6,611.1 186.0,609.6 186.4,608.1 186.8,606.6 187.2,605.1 187.6,603.5 188.0,601.9 188.3,600.3 188.7,598.6 189.1,596.9 189.5,595.2 189.9,593.4 190.3,591.5 190.7,589.5 191.1,587.4 191.5,585.2 191.9,583.0 192.2,580.7 192.6,578.4 193.0,576.0 193.4,573.7 193.8,571.3 194.2,569.0 194.6,566.7 195.0,564.5 195.4,562.3 195.8,560.2 196.1,558.2 196.5,556.1 196.9,554.0 197.3,551.9 197.7,549.8 198.1,547.7 198.5,545.6 198.9,543.6 199.3,541.6 199.7,539.7 200.0,537.9 200.4,536.2 200.8,534.5 201.2,533.1 201.6,531.7 202.0,530.5 202.4,529.4 202.8,528.3 203.2,527.2 203.6,526.1 203.9,525.1 204.3,524.0 204.7,523.1 205.1,522.3 205.5,521.5 205.9,520.9 206.3,520.4 206.7,520.0 207.1,519.8 207.5,519.8 207.8,519.9 208.2,520.3 208.6,520.7 209.0,521.3 209.4,522.0 209.8,522.7 210.2,523.6 210.6,524.5 211.0,525.5 211.4,526.5 211.7,527.5 212.1,528.5 212.5,529.6 212.9,530.5 213.3,531.5 213.7,532.6 214.1,533.6 214.5,534.8 214.9,536.0 215.3,537.2 215.6,538.5 216.0,539.8 216.4,541.1 216.8,542.5 217.2,544.0 217.6,545.5 218.0,547.0 218.4,548.6 218.8,550.3 219.2,551.9 219.5,553.6 219.9,555.4 220.3,557.2 220.7,559.0 221.1,561.0 221.5,563.1 221.9,565.4 222.3,567.9 222.7,570.4 223.0,573.1 223.4,575.8 223.8,578.5 224.2,581.3 224.6,584.1 225.0,586.8 225.4,589.5 225.8,592.2 226.2,594.8 226.6,597.4 226.9,600.1 227.3,602.8 227.7,605.6 228.1,608.3 228.5,611.1 228.9,613.8 229.3,616.4 229.7,619.0 230.1,621.4 230.5,623.8 230.8,626.0 231.2,628.0 231.6,629.9 232.0,631.8 232.4,633.6 232.8,635.4 233.2,637.0 233.6,638.7 234.0,640.2 234.4,641.6 234.7,643.0 235.1,644.3 235.5,645.5 235.9,646.5 236.3,647.6 236.7,648.6 237.1,649.6 237.5,650.5 237.9,651.4 238.3,652.2 238.6,653.1 239.0,653.8 239.4,654.5 239.8,655.2 240.2,655.8 240.6,656.4 241.0,656.9 241.4,657.4 241.8,657.9 242.2,658.4 242.5,658.9 242.9,659.4 243.3,659.8 243.7,660.1 244.1,660.4 244.5,660.6 244.9,660.7 245.3,660.7 245.7,660.7 246.1,660.6 246.4,660.5 246.8,660.5 247.2,660.4 247.6,660.3 248.0,660.2 248.4,660.2 248.8,660.1 249.2,660.1 249.6,660.1 250.0,660.1 250.3,660.1 250.7,660.0 251.1,660.0 251.5,660.0 251.9,660.0 252.3,660.0 252.7,660.0 253.1,659.9 253.5,659.9 253.8,659.9 254.2,659.9 254.6,659.9 255.0,659.9 255.4,659.9 255.8,659.9 256.2,659.9 256.6,659.9 257.0,659.9 257.4,659.9 257.7,659.9 258.1,659.9 258.5,659.9 258.9,660.0 259.3,660.0 259.7,660.0 260.1,660.1 260.5,660.1 260.9,660.2 261.3,660.2 261.6,660.3 262.0,660.3 262.4,660.4 262.8,660.4 263.2,660.5 263.6,660.7 264.0,660.9 264.4,661.1 264.8,661.3 265.2,661.6 265.5,661.8 265.9,661.9 266.3,662.0 266.7,662.0 267.1,662.0 267.5,662.0 267.9,662.0 268.3,662.0 268.7,662.0 269.1,662.0 269.4,662.0 269.8,662.0 270.2,662.0 270.6,662.0 271.0,662.0 271.4,662.0 271.8,662.0 272.2,662.0 272.6,662.0 273.0,662.0 273.3,662.0 273.7,662.0 274.1,662.0 274.5,662.0 274.9,662.0 275.3,662.0 275.7,662.0 276.1,662.0 276.5,662.0 276.9,662.0 277.2,662.0 277.6,662.0 278.0,662.0 278.4,662.0 278.8,662.0 279.2,662.0 279.6,662.0 280.0,662.0 280.4,662.0 280.8,662.0 281.1,662.0 281.5,662.0 281.9,662.0 282.3,662.0 282.7,662.0 283.1,662.0 283.5,662.0 283.9,661.9 284.3,661.7 284.6,661.5 285.0,661.3 285.4,661.1 285.8,660.9 286.2,660.7 286.6,660.5 287.0,660.4 287.4,660.2 287.8,660.1 288.2,660.0 288.5,659.9 288.9,659.8 289.3,659.7 289.7,659.6 290.1,659.5 290.5,659.4 290.9,659.4 291.3,659.3 291.7,659.3 292.1,659.4 292.4,659.4 292.8,659.5 293.2,659.6 293.6,659.7 294.0,659.8 294.4,659.9 294.8,660.0 295.2,660.1 295.6,660.2 296.0,660.4 296.3,660.5 296.7,660.6 297.1,660.8 297.5,660.9 297.9,661.1 298.3,661.3 298.7,661.5 299.1,661.6 299.5,661.8 299.9,661.9 300.2,662.0 300.6,662.0 301.0,662.0 301.4,662.0 301.8,662.0 302.2,662.0 302.6,662.0 303.0,662.0 303.4,662.0 303.8,662.0 304.1,662.0 304.5,662.0 304.9,662.0 305.3,662.0 305.7,662.0 306.1,662.0 306.5,662.0 306.9,662.0 307.3,662.0 307.7,662.0 308.0,662.0 308.4,662.0 308.8,662.0 309.2,662.0 309.6,662.0 310.0,662.0 310.4,662.0 310.8,662.0 311.2,662.0 311.6,662.0 311.9,662.0 312.3,662.0 312.7,662.0 313.1,662.0 313.5,662.0 313.9,662.0 314.3,662.0 314.7,662.0 315.1,662.0 315.4,662.0 315.8,662.0 316.2,662.0 316.6,661.9 317.0,661.8 317.4,661.6 317.8,661.4 318.2,661.2 318.6,661.1 319.0,661.0 319.3,660.9 319.7,660.7 320.1,660.6 320.5,660.5 320.9,660.4 321.3,660.4 321.7,660.3 322.1,660.2 322.5,660.2 322.9,660.2 323.2,660.2 323.6,660.2 324.0,660.2 324.4,660.3 324.8,660.4 325.2,660.5 325.6,660.6 326.0,660.7 326.4,660.8 326.8,660.9 327.1,661.0 327.5,661.1 327.9,661.2 328.3,661.4 328.7,661.5 329.1,661.7 329.5,661.8 329.9,661.9 330.3,662.0 330.7,662.0 331.0,662.0 331.4,662.0 331.8,662.0 332.2,662.0 332.6,662.0 333.0,662.0 333.4,662.0 333.8,662.0 334.2,662.0 334.6,662.0 334.9,662.0 335.3,662.0 335.7,662.0 336.1,662.0 336.5,662.0 336.9,662.0 337.3,662.0 337.7,662.0 338.1,662.0 338.5,662.0 338.8,662.0 339.2,662.0 339.6,662.0 340.0,662.0 340.4,662.0 340.8,662.0 341.2,662.0 341.6,662.0 342.0,662.0 342.4,662.0 342.7,662.0 343.1,662.0 343.5,662.0 343.9,662.0 344.3,662.0 344.7,662.0 345.1,662.0 345.5,662.0 345.9,662.0 346.2,662.0 346.6,662.0 347.0,662.0 347.4,662.0 347.8,662.0 348.2,662.0 348.6,662.0 349.0,662.0 349.4,662.0 349.8,662.0 350.1,662.0 350.5,662.0 350.9,662.0 351.3,662.0 351.7,662.0 352.1,662.0 352.5,662.0 352.9,662.0 353.3,662.0 353.7,662.0 354.0,662.0 354.4,662.0 354.8,662.0 355.2,662.0 355.6,662.0 356.0,662.0 356.4,662.0 356.8,662.0 357.2,662.0 357.6,662.0 357.9,662.0 358.3,662.0 358.7,661.9 359.1,661.8 359.5,661.7 359.9,661.6 360.3,661.5 360.7,661.3 361.1,661.2 361.5,661.1 361.8,661.0 362.2,660.9 362.6,660.8 363.0,660.7 363.4,660.7 363.8,660.7 364.2,660.7 364.6,660.8 365.0,660.9 365.4,661.0 365.7,661.1 366.1,661.2 366.5,661.3 366.9,661.4 367.3,661.5 367.7,661.6 368.1,661.8 368.5,661.9 368.9,662.0 369.3,662.0 369.6,662.0 370.0,662.0 370.4,662.0 370.8,662.0 371.2,662.0 371.6,662.0 372.0,662.0 372.4,662.0 372.8,662.0 373.2,662.0 373.5,662.0 373.9,662.0 374.3,662.0 374.7,662.0 375.1,662.0" fill="none" stroke="#0000ff" stroke-width="1.1"/>
</g>
<rect x="63.20" y="393.40" width="311.90" height="268.90" fill="none" stroke="#000" stroke-width="2.25"/>
<line x1="63.20" y1="393.40" x2="69.50" y2="393.40" stroke="#000" stroke-width="1.9"/>
<line x1="63.20" y1="447.18" x2="69.50" y2="447.18" stroke="#000" stroke-width="1.9"/>
<line x1="63.20" y1="500.96" x2="69.50" y2="500.96" stroke="#000" stroke-width="1.9"/>
<line x1="63.20" y1="554.74" x2="69.50" y2="554.74" stroke="#000" stroke-width="1.9"/>
<line x1="63.20" y1="608.52" x2="69.50" y2="608.52" stroke="#000" stroke-width="1.9"/>
<line x1="63.20" y1="662.30" x2="69.50" y2="662.30" stroke="#000" stroke-width="1.9"/>
<line x1="63.20" y1="420.29" x2="66.80" y2="420.29" stroke="#000" stroke-width="1.9"/>
<line x1="63.20" y1="474.07" x2="66.80" y2="474.07" stroke="#000" stroke-width="1.9"/>
<line x1="63.20" y1="527.85" x2="66.80" y2="527.85" stroke="#000" stroke-width="1.9"/>
<line x1="63.20" y1="581.63" x2="66.80" y2="581.63" stroke="#000" stroke-width="1.9"/>
<line x1="63.20" y1="635.41" x2="66.80" y2="635.41" stroke="#000" stroke-width="1.9"/>
<text x="56.20" y="398.15" font-size="15.5" text-anchor="end" >1.0</text>
<text x="56.20" y="451.93" font-size="15.5" text-anchor="end" >0.8</text>
<text x="56.20" y="505.71" font-size="15.5" text-anchor="end" >0.6</text>
<text x="56.20" y="559.49" font-size="15.5" text-anchor="end" >0.4</text>
<text x="56.20" y="613.27" font-size="15.5" text-anchor="end" >0.2</text>
<text x="56.20" y="667.05" font-size="15.5" text-anchor="end" >0.0</text>
<line x1="63.20" y1="662.30" x2="63.20" y2="656.30" stroke="#000" stroke-width="1.9"/>
<line x1="219.15" y1="662.30" x2="219.15" y2="656.30" stroke="#000" stroke-width="1.9"/>
<line x1="375.10" y1="662.30" x2="375.10" y2="656.30" stroke="#000" stroke-width="1.9"/>
<line x1="141.18" y1="662.30" x2="141.18" y2="658.90" stroke="#000" stroke-width="1.9"/>
<line x1="297.12" y1="662.30" x2="297.12" y2="658.90" stroke="#000" stroke-width="1.9"/>
<text x="63.20" y="681.50" font-size="15.5" text-anchor="middle" >5</text>
<text x="219.15" y="681.50" font-size="15.5" text-anchor="middle" >10</text>
<text x="375.10" y="681.50" font-size="15.5" text-anchor="middle" >15</text>
<text transform="translate(21.00,551.00) rotate(-90)" font-size="20.3" text-anchor="middle">FFT</text>
<text x="180.00" y="712.40" font-size="20.3" text-anchor="start" >B</text>
<text x="197.20" y="717.60" font-size="13.6" text-anchor="start" >int</text>
<text x="215.00" y="712.40" font-size="20.5" text-anchor="start" >(mT)</text>
<text x="33.50" y="375.80" font-size="15" text-anchor="start" font-weight="bold" >b</text>
<rect x="221.6" y="410.59999999999997" width="31" height="14.8" fill="rgba(255,0,0,0.15)" stroke="rgba(255,0,0,0.25)" stroke-width="1.2"/>
<rect x="221.6" y="428.59999999999997" width="31" height="14.8" fill="rgba(0,255,0,0.22)" stroke="rgba(0,170,0,0.33)" stroke-width="1.2"/>
<rect x="221.6" y="446.2" width="31" height="14.8" fill="rgba(0,0,255,0.30)" stroke="rgba(0,0,255,0.45)" stroke-width="1.2"/>
<text x="257.50" y="422.90" font-size="14.5" text-anchor="start" >0 GPa, 10 K</text>
<text x="257.50" y="440.50" font-size="14.5" text-anchor="start" >0 GPa, 0.27 K</text>
<text x="257.50" y="458.20" font-size="14.5" text-anchor="start" >1.74 GPa, 0.27 K</text>
<clipPath id="cc"><rect x="511.25" y="31.5" width="311.85" height="268.5"/></clipPath>
<g clip-path="url(#cc)">
<polyline points="511.2,51.4 512.8,51.7 514.4,52.0 515.9,52.3 517.5,52.7 519.0,53.1 520.6,53.4 522.2,53.9 523.7,54.3 525.3,54.7 526.8,55.2 528.4,55.7 530.0,56.2 531.5,56.8 533.1,57.3 534.6,57.9 536.2,58.5 537.8,59.1 539.3,59.8 540.9,60.4 542.4,61.1 544.0,61.8 545.6,62.5 547.1,63.2 548.7,64.0 550.2,64.7 551.8,65.5 553.3,66.3 554.9,67.2 556.5,68.0 558.0,68.9 559.6,69.7 561.1,70.6 562.7,71.6 564.3,72.5 565.8,73.4 567.4,74.4 568.9,75.4 570.5,76.4 572.1,77.4 573.6,78.4 575.2,79.4 576.7,80.5 578.3,81.6 579.9,82.7 581.4,83.8 583.0,84.9 584.5,86.0 586.1,87.2 587.7,88.3 589.2,89.5 590.8,90.7 592.3,91.9 593.9,93.1 595.4,94.3 597.0,95.5 598.6,96.8 600.1,98.1 601.7,99.3 603.2,100.6 604.8,101.9 606.4,103.2 607.9,104.5 609.5,105.9 611.0,107.2 612.6,108.6 614.2,109.9 615.7,111.3 617.3,112.7 618.8,114.0 620.4,115.4 622.0,116.8 623.5,118.3 625.1,119.7 626.6,121.1 628.2,122.5 629.7,124.0 631.3,125.4 632.9,126.9 634.4,128.4 636.0,129.8 637.5,131.3 639.1,132.8 640.7,134.3 642.2,135.8 643.8,137.3 645.3,138.8 646.9,140.3 648.5,141.8 650.0,143.3 651.6,144.8 653.1,146.3 654.7,147.9 656.3,149.4 657.8,150.9 659.4,152.4 660.9,154.0 662.5,155.5 664.1,157.1 665.6,158.6 667.2,160.1 668.7,161.7 670.3,163.2 671.8,164.8 673.4,166.3 675.0,167.9 676.5,169.4 678.1,171.0 679.6,172.5 681.2,174.0 682.8,175.6 684.3,177.1 685.9,178.7 687.4,180.2 689.0,181.7 690.6,183.3 692.1,184.8 693.7,186.3 695.2,187.9 696.8,189.4 698.4,190.9 699.9,192.4 701.5,194.0 703.0,195.5 704.6,197.0 706.1,198.5 707.7,200.0 709.3,201.5 710.8,203.0 712.4,204.5 713.9,205.9 715.5,207.4 717.1,208.9 718.6,210.4 720.2,211.8 721.7,213.3 723.3,214.7 724.9,216.2 726.4,217.6 728.0,219.1 729.5,220.5 731.1,221.9 732.7,223.3 734.2,224.7 735.8,226.1 737.3,227.5 738.9,228.9 740.5,230.3 742.0,231.7 743.6,233.0 745.1,234.4 746.7,235.8 748.2,237.1 749.8,238.4 751.4,239.8 752.9,241.1 754.5,242.4 756.0,243.7 757.6,245.0 759.2,246.3 760.7,247.6 762.3,248.8 763.8,250.1 765.4,251.3 767.0,252.6 768.5,253.8 770.1,255.0 771.6,256.3 773.2,257.5 774.8,258.7 776.3,259.9 777.9,261.0 779.4,262.2 781.0,263.4 782.6,264.5 784.1,265.7 785.7,266.8 787.2,267.9 788.8,269.0 790.3,270.2 791.9,271.3 793.5,272.3 795.0,273.4 796.6,274.5 798.1,275.5 799.7,276.6 801.3,277.6 802.8,278.7 804.4,279.7 805.9,280.7 807.5,281.7 809.1,282.7 810.6,283.7 812.2,284.6 813.7,285.6 815.3,286.6 816.9,287.5 818.4,288.4 820.0,289.4 821.5,290.3 823.1,291.2" fill="none" stroke="#ff0000" stroke-width="1.3"/>
<polyline points="511.2,51.4 512.8,51.6 514.4,51.8 515.9,52.1 517.5,52.3 519.0,52.6 520.6,52.9 522.2,53.3 523.7,53.6 525.3,54.0 526.8,54.4 528.4,54.8 530.0,55.2 531.5,55.7 533.1,56.2 534.6,56.7 536.2,57.2 537.8,57.7 539.3,58.2 540.9,58.8 542.4,59.4 544.0,60.0 545.6,60.6 547.1,61.3 548.7,62.0 550.2,62.6 551.8,63.3 553.3,64.1 554.9,64.8 556.5,65.6 558.0,66.3 559.6,67.1 561.1,68.0 562.7,68.8 564.3,69.6 565.8,70.5 567.4,71.4 568.9,72.3 570.5,73.2 572.1,74.1 573.6,75.1 575.2,76.0 576.7,77.0 578.3,78.0 579.9,79.0 581.4,80.0 583.0,81.1 584.5,82.1 586.1,83.2 587.7,84.3 589.2,85.4 590.8,86.5 592.3,87.6 593.9,88.8 595.4,89.9 597.0,91.1 598.6,92.3 600.1,93.5 601.7,94.7 603.2,95.9 604.8,97.1 606.4,98.4 607.9,99.6 609.5,100.9 611.0,102.2 612.6,103.4 614.2,104.7 615.7,106.0 617.3,107.4 618.8,108.7 620.4,110.0 622.0,111.4 623.5,112.7 625.1,114.1 626.6,115.5 628.2,116.8 629.7,118.2 631.3,119.6 632.9,121.0 634.4,122.5 636.0,123.9 637.5,125.3 639.1,126.7 640.7,128.2 642.2,129.6 643.8,131.1 645.3,132.5 646.9,134.0 648.5,135.5 650.0,136.9 651.6,138.4 653.1,139.9 654.7,141.4 656.3,142.9 657.8,144.4 659.4,145.9 660.9,147.4 662.5,148.9 664.1,150.4 665.6,151.9 667.2,153.4 668.7,154.9 670.3,156.5 671.8,158.0 673.4,159.5 675.0,161.0 676.5,162.5 678.1,164.1 679.6,165.6 681.2,167.1 682.8,168.6 684.3,170.2 685.9,171.7 687.4,173.2 689.0,174.7 690.6,176.3 692.1,177.8 693.7,179.3 695.2,180.8 696.8,182.3 698.4,183.9 699.9,185.4 701.5,186.9 703.0,188.4 704.6,189.9 706.1,191.4 707.7,192.9 709.3,194.4 710.8,195.9 712.4,197.4 713.9,198.9 715.5,200.3 717.1,201.8 718.6,203.3 720.2,204.8 721.7,206.2 723.3,207.7 724.9,209.1 726.4,210.6 728.0,212.0 729.5,213.5 731.1,214.9 732.7,216.3 734.2,217.8 735.8,219.2 737.3,220.6 738.9,222.0 740.5,223.4 742.0,224.8 743.6,226.2 745.1,227.6 746.7,228.9 748.2,230.3 749.8,231.6 751.4,233.0 752.9,234.3 754.5,235.7 756.0,237.0 757.6,238.3 759.2,239.6 760.7,240.9 762.3,242.2 763.8,243.5 765.4,244.8 767.0,246.1 768.5,247.3 770.1,248.6 771.6,249.9 773.2,251.1 774.8,252.3 776.3,253.5 777.9,254.8 779.4,256.0 781.0,257.2 782.6,258.4 784.1,259.5 785.7,260.7 787.2,261.9 788.8,263.0 790.3,264.2 791.9,265.3 793.5,266.4 795.0,267.5 796.6,268.6 798.1,269.7 799.7,270.8 801.3,271.9 802.8,273.0 804.4,274.0 805.9,275.1 807.5,276.1 809.1,277.2 810.6,278.2 812.2,279.2 813.7,280.2 815.3,281.2 816.9,282.2 818.4,283.2 820.0,284.1 821.5,285.1 823.1,286.0" fill="none" stroke="#000" stroke-width="1.3"/>
<path d="M515.1,47.7v2.1M522.9,53.1v2.2M530.7,55.7v2.4M538.5,61.4v2.6M546.3,61.3v2.7M554.1,65.5v2.9M561.9,70.1v3.0M569.7,73.7v3.2M577.5,78.6v3.4M585.3,86.0v3.5M593.1,91.6v3.7M600.9,97.2v3.8M608.7,102.1v4.0M616.5,109.0v4.2M624.3,118.3v4.3M632.1,125.2v4.5M639.9,134.2v4.6M647.7,136.4v4.8M655.5,146.0v5.0M663.3,154.4v5.1M671.1,159.7v5.3M678.9,169.2v5.4M686.7,175.5v5.6M694.5,182.0v5.8M702.3,190.7v5.9M710.0,198.9v6.1M717.8,205.4v6.2M725.6,214.3v6.4M733.4,220.8v6.6M741.2,228.2v6.7M749.0,234.4v6.9M756.8,241.3v7.0M764.6,247.2v7.2M772.4,253.5v7.4M780.2,260.7v7.5M788.0,264.4v7.7M795.8,273.7v7.8M803.6,275.2v8.0M811.4,283.5v8.2M819.2,287.7v8.3" stroke="#6a3a6a" stroke-width="0.6" fill="none"/>
<path d="M515.1,44.5v2.1M522.9,53.2v2.2M530.7,53.8v2.4M538.5,55.9v2.6M546.3,62.0v2.7M554.1,60.2v2.9M561.9,65.9v3.0M569.7,70.3v3.2M577.5,77.3v3.4M585.3,81.7v3.5M593.1,84.9v3.7M600.9,90.6v3.8M608.7,96.1v4.0M616.5,103.2v4.2M624.3,110.0v4.3M632.1,117.2v4.5M639.9,122.9v4.6M647.7,132.7v4.8M655.5,139.1v5.0M663.3,145.9v5.1M671.1,155.9v5.3M678.9,159.7v5.4M686.7,170.0v5.6M694.5,176.6v5.8M702.3,181.2v5.9M710.0,192.5v6.1M717.8,199.4v6.2M725.6,202.7v6.4M733.4,214.5v6.6M741.2,220.6v6.7M749.0,226.2v6.9M756.8,227.9v7.0M764.6,239.1v7.2M772.4,245.6v7.4M780.2,249.5v7.5M788.0,256.6v7.7M795.8,268.2v7.8M803.6,269.2v8.0M811.4,271.3v8.2M819.2,278.9v8.3" stroke="#77773a" stroke-width="0.6" fill="none"/>
<circle cx="515.1" cy="48.8" r="2.05" fill="#800080" stroke="#4b004b" stroke-width="0.5"/>
<circle cx="522.9" cy="54.2" r="2.05" fill="#800080" stroke="#4b004b" stroke-width="0.5"/>
<circle cx="530.7" cy="56.9" r="2.05" fill="#800080" stroke="#4b004b" stroke-width="0.5"/>
<circle cx="538.5" cy="62.7" r="2.05" fill="#800080" stroke="#4b004b" stroke-width="0.5"/>
<circle cx="546.3" cy="62.7" r="2.05" fill="#800080" stroke="#4b004b" stroke-width="0.5"/>
<circle cx="554.1" cy="67.0" r="2.05" fill="#800080" stroke="#4b004b" stroke-width="0.5"/>
<circle cx="561.9" cy="71.6" r="2.05" fill="#800080" stroke="#4b004b" stroke-width="0.5"/>
<circle cx="569.7" cy="75.3" r="2.05" fill="#800080" stroke="#4b004b" stroke-width="0.5"/>
<circle cx="577.5" cy="80.3" r="2.05" fill="#800080" stroke="#4b004b" stroke-width="0.5"/>
<circle cx="585.3" cy="87.8" r="2.05" fill="#800080" stroke="#4b004b" stroke-width="0.5"/>
<circle cx="593.1" cy="93.4" r="2.05" fill="#800080" stroke="#4b004b" stroke-width="0.5"/>
<circle cx="600.9" cy="99.1" r="2.05" fill="#800080" stroke="#4b004b" stroke-width="0.5"/>
<circle cx="608.7" cy="104.1" r="2.05" fill="#800080" stroke="#4b004b" stroke-width="0.5"/>
<circle cx="616.5" cy="111.0" r="2.05" fill="#800080" stroke="#4b004b" stroke-width="0.5"/>
<circle cx="624.3" cy="120.5" r="2.05" fill="#800080" stroke="#4b004b" stroke-width="0.5"/>
<circle cx="632.1" cy="127.4" r="2.05" fill="#800080" stroke="#4b004b" stroke-width="0.5"/>
<circle cx="639.9" cy="136.5" r="2.05" fill="#800080" stroke="#4b004b" stroke-width="0.5"/>
<circle cx="647.7" cy="138.8" r="2.05" fill="#800080" stroke="#4b004b" stroke-width="0.5"/>
<circle cx="655.5" cy="148.5" r="2.05" fill="#800080" stroke="#4b004b" stroke-width="0.5"/>
<circle cx="663.3" cy="157.0" r="2.05" fill="#800080" stroke="#4b004b" stroke-width="0.5"/>
<circle cx="671.1" cy="162.4" r="2.05" fill="#800080" stroke="#4b004b" stroke-width="0.5"/>
<circle cx="678.9" cy="171.9" r="2.05" fill="#800080" stroke="#4b004b" stroke-width="0.5"/>
<circle cx="686.7" cy="178.3" r="2.05" fill="#800080" stroke="#4b004b" stroke-width="0.5"/>
<circle cx="694.5" cy="184.9" r="2.05" fill="#800080" stroke="#4b004b" stroke-width="0.5"/>
<circle cx="702.3" cy="193.7" r="2.05" fill="#800080" stroke="#4b004b" stroke-width="0.5"/>
<circle cx="710.0" cy="201.9" r="2.05" fill="#800080" stroke="#4b004b" stroke-width="0.5"/>
<circle cx="717.8" cy="208.5" r="2.05" fill="#800080" stroke="#4b004b" stroke-width="0.5"/>
<circle cx="725.6" cy="217.5" r="2.05" fill="#800080" stroke="#4b004b" stroke-width="0.5"/>
<circle cx="733.4" cy="224.1" r="2.05" fill="#800080" stroke="#4b004b" stroke-width="0.5"/>
<circle cx="741.2" cy="231.5" r="2.05" fill="#800080" stroke="#4b004b" stroke-width="0.5"/>
<circle cx="749.0" cy="237.8" r="2.05" fill="#800080" stroke="#4b004b" stroke-width="0.5"/>
<circle cx="756.8" cy="244.8" r="2.05" fill="#800080" stroke="#4b004b" stroke-width="0.5"/>
<circle cx="764.6" cy="250.8" r="2.05" fill="#800080" stroke="#4b004b" stroke-width="0.5"/>
<circle cx="772.4" cy="257.2" r="2.05" fill="#800080" stroke="#4b004b" stroke-width="0.5"/>
<circle cx="780.2" cy="264.5" r="2.05" fill="#800080" stroke="#4b004b" stroke-width="0.5"/>
<circle cx="788.0" cy="268.2" r="2.05" fill="#800080" stroke="#4b004b" stroke-width="0.5"/>
<circle cx="795.8" cy="277.6" r="2.05" fill="#800080" stroke="#4b004b" stroke-width="0.5"/>
<circle cx="803.6" cy="279.2" r="2.05" fill="#800080" stroke="#4b004b" stroke-width="0.5"/>
<circle cx="811.4" cy="287.5" r="2.05" fill="#800080" stroke="#4b004b" stroke-width="0.5"/>
<circle cx="819.2" cy="291.9" r="2.05" fill="#800080" stroke="#4b004b" stroke-width="0.5"/>
<path d="M515.1,42.6l2.7,5.0l-5.4,0z" fill="#ffff00" stroke="#55551a" stroke-width="0.6"/>
<path d="M522.9,51.3l2.7,5.0l-5.4,0z" fill="#ffff00" stroke="#55551a" stroke-width="0.6"/>
<path d="M530.7,52.0l2.7,5.0l-5.4,0z" fill="#ffff00" stroke="#55551a" stroke-width="0.6"/>
<path d="M538.5,54.2l2.7,5.0l-5.4,0z" fill="#ffff00" stroke="#55551a" stroke-width="0.6"/>
<path d="M546.3,60.4l2.7,5.0l-5.4,0z" fill="#ffff00" stroke="#55551a" stroke-width="0.6"/>
<path d="M554.1,58.7l2.7,5.0l-5.4,0z" fill="#ffff00" stroke="#55551a" stroke-width="0.6"/>
<path d="M561.9,64.4l2.7,5.0l-5.4,0z" fill="#ffff00" stroke="#55551a" stroke-width="0.6"/>
<path d="M569.7,68.9l2.7,5.0l-5.4,0z" fill="#ffff00" stroke="#55551a" stroke-width="0.6"/>
<path d="M577.5,76.0l2.7,5.0l-5.4,0z" fill="#ffff00" stroke="#55551a" stroke-width="0.6"/>
<path d="M585.3,80.5l2.7,5.0l-5.4,0z" fill="#ffff00" stroke="#55551a" stroke-width="0.6"/>
<path d="M593.1,83.7l2.7,5.0l-5.4,0z" fill="#ffff00" stroke="#55551a" stroke-width="0.6"/>
<path d="M600.9,89.5l2.7,5.0l-5.4,0z" fill="#ffff00" stroke="#55551a" stroke-width="0.6"/>
<path d="M608.7,95.1l2.7,5.0l-5.4,0z" fill="#ffff00" stroke="#55551a" stroke-width="0.6"/>
<path d="M616.5,102.3l2.7,5.0l-5.4,0z" fill="#ffff00" stroke="#55551a" stroke-width="0.6"/>
<path d="M624.3,109.2l2.7,5.0l-5.4,0z" fill="#ffff00" stroke="#55551a" stroke-width="0.6"/>
<path d="M632.1,116.5l2.7,5.0l-5.4,0z" fill="#ffff00" stroke="#55551a" stroke-width="0.6"/>
<path d="M639.9,122.2l2.7,5.0l-5.4,0z" fill="#ffff00" stroke="#55551a" stroke-width="0.6"/>
<path d="M647.7,132.1l2.7,5.0l-5.4,0z" fill="#ffff00" stroke="#55551a" stroke-width="0.6"/>
<path d="M655.5,138.6l2.7,5.0l-5.4,0z" fill="#ffff00" stroke="#55551a" stroke-width="0.6"/>
<path d="M663.3,145.4l2.7,5.0l-5.4,0z" fill="#ffff00" stroke="#55551a" stroke-width="0.6"/>
<path d="M671.1,155.6l2.7,5.0l-5.4,0z" fill="#ffff00" stroke="#55551a" stroke-width="0.6"/>
<path d="M678.9,159.4l2.7,5.0l-5.4,0z" fill="#ffff00" stroke="#55551a" stroke-width="0.6"/>
<path d="M686.7,169.8l2.7,5.0l-5.4,0z" fill="#ffff00" stroke="#55551a" stroke-width="0.6"/>
<path d="M694.5,176.5l2.7,5.0l-5.4,0z" fill="#ffff00" stroke="#55551a" stroke-width="0.6"/>
<path d="M702.3,181.1l2.7,5.0l-5.4,0z" fill="#ffff00" stroke="#55551a" stroke-width="0.6"/>
<path d="M710.0,192.5l2.7,5.0l-5.4,0z" fill="#ffff00" stroke="#55551a" stroke-width="0.6"/>
<path d="M717.8,199.6l2.7,5.0l-5.4,0z" fill="#ffff00" stroke="#55551a" stroke-width="0.6"/>
<path d="M725.6,202.9l2.7,5.0l-5.4,0z" fill="#ffff00" stroke="#55551a" stroke-width="0.6"/>
<path d="M733.4,214.8l2.7,5.0l-5.4,0z" fill="#ffff00" stroke="#55551a" stroke-width="0.6"/>
<path d="M741.2,221.0l2.7,5.0l-5.4,0z" fill="#ffff00" stroke="#55551a" stroke-width="0.6"/>
<path d="M749.0,226.6l2.7,5.0l-5.4,0z" fill="#ffff00" stroke="#55551a" stroke-width="0.6"/>
<path d="M756.8,228.4l2.7,5.0l-5.4,0z" fill="#ffff00" stroke="#55551a" stroke-width="0.6"/>
<path d="M764.6,239.7l2.7,5.0l-5.4,0z" fill="#ffff00" stroke="#55551a" stroke-width="0.6"/>
<path d="M772.4,246.3l2.7,5.0l-5.4,0z" fill="#ffff00" stroke="#55551a" stroke-width="0.6"/>
<path d="M780.2,250.3l2.7,5.0l-5.4,0z" fill="#ffff00" stroke="#55551a" stroke-width="0.6"/>
<path d="M788.0,257.4l2.7,5.0l-5.4,0z" fill="#ffff00" stroke="#55551a" stroke-width="0.6"/>
<path d="M795.8,269.1l2.7,5.0l-5.4,0z" fill="#ffff00" stroke="#55551a" stroke-width="0.6"/>
<path d="M803.6,270.2l2.7,5.0l-5.4,0z" fill="#ffff00" stroke="#55551a" stroke-width="0.6"/>
<path d="M811.4,272.4l2.7,5.0l-5.4,0z" fill="#ffff00" stroke="#55551a" stroke-width="0.6"/>
<path d="M819.2,280.1l2.7,5.0l-5.4,0z" fill="#ffff00" stroke="#55551a" stroke-width="0.6"/>
</g>
<rect x="511.25" y="31.50" width="311.85" height="268.50" fill="none" stroke="#000" stroke-width="2.25"/>
<line x1="511.25" y1="51.40" x2="517.55" y2="51.40" stroke="#000" stroke-width="1.9"/>
<line x1="511.25" y1="150.90" x2="517.55" y2="150.90" stroke="#000" stroke-width="1.9"/>
<line x1="511.25" y1="250.40" x2="517.55" y2="250.40" stroke="#000" stroke-width="1.9"/>
<line x1="511.25" y1="101.15" x2="514.85" y2="101.15" stroke="#000" stroke-width="1.9"/>
<line x1="511.25" y1="200.65" x2="514.85" y2="200.65" stroke="#000" stroke-width="1.9"/>
<text x="503.90" y="56.15" font-size="15.5" text-anchor="end" >0.3</text>
<text x="503.90" y="155.65" font-size="15.5" text-anchor="end" >0.2</text>
<text x="503.90" y="255.15" font-size="15.5" text-anchor="end" >0.1</text>
<line x1="511.25" y1="300.00" x2="511.25" y2="294.00" stroke="#000" stroke-width="1.9"/>
<line x1="667.17" y1="300.00" x2="667.17" y2="294.00" stroke="#000" stroke-width="1.9"/>
<line x1="823.09" y1="300.00" x2="823.09" y2="294.00" stroke="#000" stroke-width="1.9"/>
<line x1="589.21" y1="300.00" x2="589.21" y2="296.60" stroke="#000" stroke-width="1.9"/>
<line x1="745.13" y1="300.00" x2="745.13" y2="296.60" stroke="#000" stroke-width="1.9"/>
<text x="511.25" y="319.50" font-size="15.5" text-anchor="middle" >0</text>
<text x="667.17" y="319.50" font-size="15.5" text-anchor="middle" >2</text>
<text x="823.09" y="319.50" font-size="15.5" text-anchor="middle" >4</text>
<text transform="translate(460.50,166.00) rotate(-90)" font-size="20.3" text-anchor="middle">Asymmetry</text>
<text x="666.87" y="336.10" font-size="20.6" text-anchor="middle" >t (µs)</text>
<text x="489.70" y="16.90" font-size="15" text-anchor="start" font-weight="bold" >c</text>
<text x="692.20" y="48.90" font-size="14.5" text-anchor="start" >1.18 GPa</text>
<path d="M695.1,59.0l2.4,4.5l-4.8,0z" fill="#ffff00" stroke="#55551a" stroke-width="0.6"/>
<circle cx="695.1" cy="79.5" r="1.8" fill="#6600cc" stroke="#3a0050" stroke-width="0.5"/>
<text x="716.20" y="66.70" font-size="14.5" text-anchor="start" >10 K</text>
<text x="716.20" y="84.60" font-size="14.5" text-anchor="start" >0.27 K</text>
<clipPath id="cd"><rect x="512.45" y="393.3" width="311.65" height="268.7"/></clipPath>
<g clip-path="url(#cd)">
<polyline points="512.5,413.6 514.0,414.0 515.6,414.3 517.1,414.7 518.7,415.1 520.2,415.6 521.8,416.0 523.4,416.5 524.9,417.0 526.5,417.5 528.0,418.1 529.6,418.6 531.1,419.2 532.7,419.8 534.3,420.4 535.8,421.1 537.4,421.7 538.9,422.4 540.5,423.1 542.1,423.8 543.6,424.5 545.2,425.3 546.7,426.1 548.3,426.8 549.8,427.6 551.4,428.5 553.0,429.3 554.5,430.2 556.1,431.0 557.6,431.9 559.2,432.9 560.8,433.8 562.3,434.7 563.9,435.7 565.4,436.7 567.0,437.7 568.5,438.7 570.1,439.7 571.7,440.7 573.2,441.8 574.8,442.9 576.3,444.0 577.9,445.1 579.5,446.2 581.0,447.3 582.6,448.4 584.1,449.6 585.7,450.8 587.2,452.0 588.8,453.2 590.4,454.4 591.9,455.6 593.5,456.8 595.0,458.1 596.6,459.3 598.2,460.6 599.7,461.9 601.3,463.2 602.8,464.5 604.4,465.8 605.9,467.1 607.5,468.5 609.1,469.8 610.6,471.2 612.2,472.5 613.7,473.9 615.3,475.3 616.8,476.7 618.4,478.1 620.0,479.5 621.5,480.9 623.1,482.3 624.6,483.8 626.2,485.2 627.8,486.7 629.3,488.1 630.9,489.6 632.4,491.0 634.0,492.5 635.5,494.0 637.1,495.5 638.7,497.0 640.2,498.5 641.8,500.0 643.3,501.5 644.9,503.0 646.5,504.5 648.0,506.0 649.6,507.5 651.1,509.0 652.7,510.6 654.2,512.1 655.8,513.6 657.4,515.2 658.9,516.7 660.5,518.2 662.0,519.8 663.6,521.3 665.2,522.9 666.7,524.4 668.3,525.9 669.8,527.5 671.4,529.0 672.9,530.6 674.5,532.1 676.1,533.7 677.6,535.2 679.2,536.7 680.7,538.3 682.3,539.8 683.9,541.4 685.4,542.9 687.0,544.4 688.5,546.0 690.1,547.5 691.6,549.0 693.2,550.6 694.8,552.1 696.3,553.6 697.9,555.1 699.4,556.6 701.0,558.1 702.6,559.6 704.1,561.1 705.7,562.6 707.2,564.1 708.8,565.6 710.3,567.1 711.9,568.6 713.5,570.0 715.0,571.5 716.6,573.0 718.1,574.4 719.7,575.9 721.2,577.3 722.8,578.8 724.4,580.2 725.9,581.6 727.5,583.1 729.0,584.5 730.6,585.9 732.2,587.3 733.7,588.7 735.3,590.1 736.8,591.5 738.4,592.8 739.9,594.2 741.5,595.6 743.1,596.9 744.6,598.3 746.2,599.6 747.7,600.9 749.3,602.2 750.9,603.6 752.4,604.9 754.0,606.2 755.5,607.4 757.1,608.7 758.6,610.0 760.2,611.3 761.8,612.5 763.3,613.8 764.9,615.0 766.4,616.2 768.0,617.4 769.6,618.7 771.1,619.9 772.7,621.1 774.2,622.2 775.8,623.4 777.3,624.6 778.9,625.7 780.5,626.9 782.0,628.0 783.6,629.1 785.1,630.3 786.7,631.4 788.3,632.5 789.8,633.6 791.4,634.6 792.9,635.7 794.5,636.8 796.0,637.8 797.6,638.9 799.2,639.9 800.7,640.9 802.3,642.0 803.8,643.0 805.4,644.0 806.9,644.9 808.5,645.9 810.1,646.9 811.6,647.8 813.2,648.8 814.7,649.7 816.3,650.6 817.9,651.6 819.4,652.5 821.0,653.4 822.5,654.3 824.1,655.1" fill="none" stroke="#ff0000" stroke-width="1.3"/>
<polyline points="512.5,413.6 514.0,413.8 515.6,414.1 517.1,414.3 518.7,414.6 520.2,414.9 521.8,415.2 523.4,415.6 524.9,415.9 526.5,416.3 528.0,416.7 529.6,417.2 531.1,417.6 532.7,418.1 534.3,418.6 535.8,419.1 537.4,419.6 538.9,420.1 540.5,420.7 542.1,421.3 543.6,421.9 545.2,422.5 546.7,423.2 548.3,423.8 549.8,424.5 551.4,425.2 553.0,425.9 554.5,426.7 556.1,427.4 557.6,428.2 559.2,429.0 560.8,429.8 562.3,430.6 563.9,431.5 565.4,432.3 567.0,433.2 568.5,434.1 570.1,435.0 571.7,435.9 573.2,436.9 574.8,437.8 576.3,438.8 577.9,439.8 579.5,440.8 581.0,441.8 582.6,442.9 584.1,443.9 585.7,445.0 587.2,446.1 588.8,447.2 590.4,448.3 591.9,449.4 593.5,450.6 595.0,451.7 596.6,452.9 598.2,454.1 599.7,455.2 601.3,456.5 602.8,457.7 604.4,458.9 605.9,460.1 607.5,461.4 609.1,462.7 610.6,463.9 612.2,465.2 613.7,466.5 615.3,467.8 616.8,469.1 618.4,470.5 620.0,471.8 621.5,473.1 623.1,474.5 624.6,475.9 626.2,477.2 627.8,478.6 629.3,480.0 630.9,481.4 632.4,482.8 634.0,484.2 635.5,485.6 637.1,487.1 638.7,488.5 640.2,489.9 641.8,491.4 643.3,492.8 644.9,494.3 646.5,495.8 648.0,497.2 649.6,498.7 651.1,500.2 652.7,501.7 654.2,503.2 655.8,504.7 657.4,506.2 658.9,507.7 660.5,509.2 662.0,510.7 663.6,512.2 665.2,513.7 666.7,515.2 668.3,516.7 669.8,518.2 671.4,519.8 672.9,521.3 674.5,522.8 676.1,524.3 677.6,525.9 679.2,527.4 680.7,528.9 682.3,530.4 683.9,532.0 685.4,533.5 687.0,535.0 688.5,536.6 690.1,538.1 691.6,539.6 693.2,541.1 694.8,542.6 696.3,544.2 697.9,545.7 699.4,547.2 701.0,548.7 702.6,550.2 704.1,551.7 705.7,553.2 707.2,554.7 708.8,556.2 710.3,557.7 711.9,559.2 713.5,560.7 715.0,562.2 716.6,563.7 718.1,565.2 719.7,566.6 721.2,568.1 722.8,569.6 724.4,571.0 725.9,572.5 727.5,573.9 729.0,575.4 730.6,576.8 732.2,578.2 733.7,579.6 735.3,581.1 736.8,582.5 738.4,583.9 739.9,585.3 741.5,586.7 743.1,588.1 744.6,589.4 746.2,590.8 747.7,592.2 749.3,593.5 750.9,594.9 752.4,596.2 754.0,597.6 755.5,598.9 757.1,600.2 758.6,601.5 760.2,602.9 761.8,604.2 763.3,605.4 764.9,606.7 766.4,608.0 768.0,609.3 769.6,610.5 771.1,611.8 772.7,613.0 774.2,614.3 775.8,615.5 777.3,616.7 778.9,617.9 780.5,619.1 782.0,620.3 783.6,621.5 785.1,622.6 786.7,623.8 788.3,625.0 789.8,626.1 791.4,627.2 792.9,628.4 794.5,629.5 796.0,630.6 797.6,631.7 799.2,632.8 800.7,633.9 802.3,634.9 803.8,636.0 805.4,637.0 806.9,638.1 808.5,639.1 810.1,640.1 811.6,641.2 813.2,642.2 814.7,643.2 816.3,644.1 817.9,645.1 819.4,646.1 821.0,647.0 822.5,648.0 824.1,648.9" fill="none" stroke="#000" stroke-width="1.3"/>
<path d="M516.3,410.5v2.1M524.1,411.7v2.2M531.9,415.3v2.4M539.7,421.5v2.6M547.5,429.1v2.7M555.3,430.9v2.9M563.1,429.9v3.0M570.9,438.6v3.2M578.7,444.8v3.4M586.5,445.7v3.5M594.3,456.2v3.7M602.0,461.1v3.8M609.8,466.9v4.0M617.6,476.7v4.2M625.4,480.4v4.3M633.2,489.5v4.5M641.0,495.4v4.6M648.8,505.3v4.8M656.6,513.1v5.0M664.4,517.8v5.1M672.2,526.3v5.3M680.0,534.4v5.4M687.7,541.4v5.6M695.5,549.1v5.8M703.3,558.7v5.9M711.1,567.5v6.1M718.9,574.0v6.2M726.7,581.3v6.4M734.5,589.1v6.6M742.3,597.1v6.7M750.1,599.9v6.9M757.9,605.7v7.0M765.7,617.6v7.2M773.4,618.3v7.4M781.2,623.8v7.5M789.0,632.7v7.7M796.8,638.9v7.8M804.6,639.5v8.0M812.4,637.6v8.2M820.2,651.3v8.3" stroke="#6a3a6a" stroke-width="0.6" fill="none"/>
<path d="M516.3,413.2v2.1M524.1,414.1v2.2M531.9,414.2v2.4M539.7,418.0v2.6M547.5,421.9v2.7M555.3,425.7v2.9M563.1,429.0v3.0M570.9,430.3v3.2M578.7,442.0v3.4M586.5,442.4v3.5M594.3,448.3v3.7M602.0,453.3v3.8M609.8,462.1v4.0M617.6,464.3v4.2M625.4,472.4v4.3M633.2,480.6v4.5M641.0,484.4v4.6M648.8,495.8v4.8M656.6,502.2v5.0M664.4,509.9v5.1M672.2,516.0v5.3M680.0,524.3v5.4M687.7,532.4v5.6M695.5,539.0v5.8M703.3,546.6v5.9M711.1,554.5v6.1M718.9,564.0v6.2M726.7,568.0v6.4M734.5,577.9v6.6M742.3,584.6v6.7M750.1,590.2v6.9M757.9,596.0v7.0M765.7,601.2v7.2M773.4,611.4v7.4M781.2,613.3v7.5M789.0,618.9v7.7M796.8,623.2v7.8M804.6,632.1v8.0M812.4,637.6v8.2M820.2,642.5v8.3" stroke="#77773a" stroke-width="0.6" fill="none"/>
<circle cx="516.3" cy="411.5" r="2.05" fill="#800080" stroke="#4b004b" stroke-width="0.5"/>
<circle cx="524.1" cy="412.8" r="2.05" fill="#800080" stroke="#4b004b" stroke-width="0.5"/>
<circle cx="531.9" cy="416.5" r="2.05" fill="#800080" stroke="#4b004b" stroke-width="0.5"/>
<circle cx="539.7" cy="422.7" r="2.05" fill="#800080" stroke="#4b004b" stroke-width="0.5"/>
<circle cx="547.5" cy="430.4" r="2.05" fill="#800080" stroke="#4b004b" stroke-width="0.5"/>
<circle cx="555.3" cy="432.3" r="2.05" fill="#800080" stroke="#4b004b" stroke-width="0.5"/>
<circle cx="563.1" cy="431.4" r="2.05" fill="#800080" stroke="#4b004b" stroke-width="0.5"/>
<circle cx="570.9" cy="440.2" r="2.05" fill="#800080" stroke="#4b004b" stroke-width="0.5"/>
<circle cx="578.7" cy="446.5" r="2.05" fill="#800080" stroke="#4b004b" stroke-width="0.5"/>
<circle cx="586.5" cy="447.5" r="2.05" fill="#800080" stroke="#4b004b" stroke-width="0.5"/>
<circle cx="594.3" cy="458.0" r="2.05" fill="#800080" stroke="#4b004b" stroke-width="0.5"/>
<circle cx="602.0" cy="463.0" r="2.05" fill="#800080" stroke="#4b004b" stroke-width="0.5"/>
<circle cx="609.8" cy="468.9" r="2.05" fill="#800080" stroke="#4b004b" stroke-width="0.5"/>
<circle cx="617.6" cy="478.8" r="2.05" fill="#800080" stroke="#4b004b" stroke-width="0.5"/>
<circle cx="625.4" cy="482.6" r="2.05" fill="#800080" stroke="#4b004b" stroke-width="0.5"/>
<circle cx="633.2" cy="491.7" r="2.05" fill="#800080" stroke="#4b004b" stroke-width="0.5"/>
<circle cx="641.0" cy="497.7" r="2.05" fill="#800080" stroke="#4b004b" stroke-width="0.5"/>
<circle cx="648.8" cy="507.7" r="2.05" fill="#800080" stroke="#4b004b" stroke-width="0.5"/>
<circle cx="656.6" cy="515.5" r="2.05" fill="#800080" stroke="#4b004b" stroke-width="0.5"/>
<circle cx="664.4" cy="520.3" r="2.05" fill="#800080" stroke="#4b004b" stroke-width="0.5"/>
<circle cx="672.2" cy="529.0" r="2.05" fill="#800080" stroke="#4b004b" stroke-width="0.5"/>
<circle cx="680.0" cy="537.1" r="2.05" fill="#800080" stroke="#4b004b" stroke-width="0.5"/>
<circle cx="687.7" cy="544.2" r="2.05" fill="#800080" stroke="#4b004b" stroke-width="0.5"/>
<circle cx="695.5" cy="552.0" r="2.05" fill="#800080" stroke="#4b004b" stroke-width="0.5"/>
<circle cx="703.3" cy="561.7" r="2.05" fill="#800080" stroke="#4b004b" stroke-width="0.5"/>
<circle cx="711.1" cy="570.5" r="2.05" fill="#800080" stroke="#4b004b" stroke-width="0.5"/>
<circle cx="718.9" cy="577.1" r="2.05" fill="#800080" stroke="#4b004b" stroke-width="0.5"/>
<circle cx="726.7" cy="584.5" r="2.05" fill="#800080" stroke="#4b004b" stroke-width="0.5"/>
<circle cx="734.5" cy="592.4" r="2.05" fill="#800080" stroke="#4b004b" stroke-width="0.5"/>
<circle cx="742.3" cy="600.5" r="2.05" fill="#800080" stroke="#4b004b" stroke-width="0.5"/>
<circle cx="750.1" cy="603.4" r="2.05" fill="#800080" stroke="#4b004b" stroke-width="0.5"/>
<circle cx="757.9" cy="609.2" r="2.05" fill="#800080" stroke="#4b004b" stroke-width="0.5"/>
<circle cx="765.7" cy="621.2" r="2.05" fill="#800080" stroke="#4b004b" stroke-width="0.5"/>
<circle cx="773.4" cy="621.9" r="2.05" fill="#800080" stroke="#4b004b" stroke-width="0.5"/>
<circle cx="781.2" cy="627.6" r="2.05" fill="#800080" stroke="#4b004b" stroke-width="0.5"/>
<circle cx="789.0" cy="636.5" r="2.05" fill="#800080" stroke="#4b004b" stroke-width="0.5"/>
<circle cx="796.8" cy="642.8" r="2.05" fill="#800080" stroke="#4b004b" stroke-width="0.5"/>
<circle cx="804.6" cy="643.5" r="2.05" fill="#800080" stroke="#4b004b" stroke-width="0.5"/>
<circle cx="812.4" cy="641.7" r="2.05" fill="#800080" stroke="#4b004b" stroke-width="0.5"/>
<circle cx="820.2" cy="655.4" r="2.05" fill="#800080" stroke="#4b004b" stroke-width="0.5"/>
<path d="M516.3,411.2l2.7,5.0l-5.4,0z" fill="#ffff00" stroke="#55551a" stroke-width="0.6"/>
<path d="M524.1,412.2l2.7,5.0l-5.4,0z" fill="#ffff00" stroke="#55551a" stroke-width="0.6"/>
<path d="M531.9,412.4l2.7,5.0l-5.4,0z" fill="#ffff00" stroke="#55551a" stroke-width="0.6"/>
<path d="M539.7,416.3l2.7,5.0l-5.4,0z" fill="#ffff00" stroke="#55551a" stroke-width="0.6"/>
<path d="M547.5,420.2l2.7,5.0l-5.4,0z" fill="#ffff00" stroke="#55551a" stroke-width="0.6"/>
<path d="M555.3,424.1l2.7,5.0l-5.4,0z" fill="#ffff00" stroke="#55551a" stroke-width="0.6"/>
<path d="M563.1,427.5l2.7,5.0l-5.4,0z" fill="#ffff00" stroke="#55551a" stroke-width="0.6"/>
<path d="M570.9,428.9l2.7,5.0l-5.4,0z" fill="#ffff00" stroke="#55551a" stroke-width="0.6"/>
<path d="M578.7,440.7l2.7,5.0l-5.4,0z" fill="#ffff00" stroke="#55551a" stroke-width="0.6"/>
<path d="M586.5,441.2l2.7,5.0l-5.4,0z" fill="#ffff00" stroke="#55551a" stroke-width="0.6"/>
<path d="M594.3,447.1l2.7,5.0l-5.4,0z" fill="#ffff00" stroke="#55551a" stroke-width="0.6"/>
<path d="M602.0,452.2l2.7,5.0l-5.4,0z" fill="#ffff00" stroke="#55551a" stroke-width="0.6"/>
<path d="M609.8,461.1l2.7,5.0l-5.4,0z" fill="#ffff00" stroke="#55551a" stroke-width="0.6"/>
<path d="M617.6,463.4l2.7,5.0l-5.4,0z" fill="#ffff00" stroke="#55551a" stroke-width="0.6"/>
<path d="M625.4,471.6l2.7,5.0l-5.4,0z" fill="#ffff00" stroke="#55551a" stroke-width="0.6"/>
<path d="M633.2,479.9l2.7,5.0l-5.4,0z" fill="#ffff00" stroke="#55551a" stroke-width="0.6"/>
<path d="M641.0,483.7l2.7,5.0l-5.4,0z" fill="#ffff00" stroke="#55551a" stroke-width="0.6"/>
<path d="M648.8,495.2l2.7,5.0l-5.4,0z" fill="#ffff00" stroke="#55551a" stroke-width="0.6"/>
<path d="M656.6,501.7l2.7,5.0l-5.4,0z" fill="#ffff00" stroke="#55551a" stroke-width="0.6"/>
<path d="M664.4,509.4l2.7,5.0l-5.4,0z" fill="#ffff00" stroke="#55551a" stroke-width="0.6"/>
<path d="M672.2,515.6l2.7,5.0l-5.4,0z" fill="#ffff00" stroke="#55551a" stroke-width="0.6"/>
<path d="M680.0,524.0l2.7,5.0l-5.4,0z" fill="#ffff00" stroke="#55551a" stroke-width="0.6"/>
<path d="M687.7,532.2l2.7,5.0l-5.4,0z" fill="#ffff00" stroke="#55551a" stroke-width="0.6"/>
<path d="M695.5,538.8l2.7,5.0l-5.4,0z" fill="#ffff00" stroke="#55551a" stroke-width="0.6"/>
<path d="M703.3,546.6l2.7,5.0l-5.4,0z" fill="#ffff00" stroke="#55551a" stroke-width="0.6"/>
<path d="M711.1,554.5l2.7,5.0l-5.4,0z" fill="#ffff00" stroke="#55551a" stroke-width="0.6"/>
<path d="M718.9,564.2l2.7,5.0l-5.4,0z" fill="#ffff00" stroke="#55551a" stroke-width="0.6"/>
<path d="M726.7,568.2l2.7,5.0l-5.4,0z" fill="#ffff00" stroke="#55551a" stroke-width="0.6"/>
<path d="M734.5,578.2l2.7,5.0l-5.4,0z" fill="#ffff00" stroke="#55551a" stroke-width="0.6"/>
<path d="M742.3,585.0l2.7,5.0l-5.4,0z" fill="#ffff00" stroke="#55551a" stroke-width="0.6"/>
<path d="M750.1,590.7l2.7,5.0l-5.4,0z" fill="#ffff00" stroke="#55551a" stroke-width="0.6"/>
<path d="M757.9,596.5l2.7,5.0l-5.4,0z" fill="#ffff00" stroke="#55551a" stroke-width="0.6"/>
<path d="M765.7,601.8l2.7,5.0l-5.4,0z" fill="#ffff00" stroke="#55551a" stroke-width="0.6"/>
<path d="M773.4,612.1l2.7,5.0l-5.4,0z" fill="#ffff00" stroke="#55551a" stroke-width="0.6"/>
<path d="M781.2,614.1l2.7,5.0l-5.4,0z" fill="#ffff00" stroke="#55551a" stroke-width="0.6"/>
<path d="M789.0,619.7l2.7,5.0l-5.4,0z" fill="#ffff00" stroke="#55551a" stroke-width="0.6"/>
<path d="M796.8,624.2l2.7,5.0l-5.4,0z" fill="#ffff00" stroke="#55551a" stroke-width="0.6"/>
<path d="M804.6,633.1l2.7,5.0l-5.4,0z" fill="#ffff00" stroke="#55551a" stroke-width="0.6"/>
<path d="M812.4,638.7l2.7,5.0l-5.4,0z" fill="#ffff00" stroke="#55551a" stroke-width="0.6"/>
<path d="M820.2,643.7l2.7,5.0l-5.4,0z" fill="#ffff00" stroke="#55551a" stroke-width="0.6"/>
</g>
<rect x="512.45" y="393.30" width="311.65" height="268.70" fill="none" stroke="#000" stroke-width="2.25"/>
<line x1="512.45" y1="413.60" x2="518.75" y2="413.60" stroke="#000" stroke-width="1.9"/>
<line x1="512.45" y1="513.00" x2="518.75" y2="513.00" stroke="#000" stroke-width="1.9"/>
<line x1="512.45" y1="612.40" x2="518.75" y2="612.40" stroke="#000" stroke-width="1.9"/>
<line x1="512.45" y1="463.30" x2="516.05" y2="463.30" stroke="#000" stroke-width="1.9"/>
<line x1="512.45" y1="562.70" x2="516.05" y2="562.70" stroke="#000" stroke-width="1.9"/>
<text x="505.60" y="418.35" font-size="15.5" text-anchor="end" >0.3</text>
<text x="505.60" y="517.75" font-size="15.5" text-anchor="end" >0.2</text>
<text x="505.60" y="617.15" font-size="15.5" text-anchor="end" >0.1</text>
<line x1="512.45" y1="662.00" x2="512.45" y2="656.00" stroke="#000" stroke-width="1.9"/>
<line x1="668.27" y1="662.00" x2="668.27" y2="656.00" stroke="#000" stroke-width="1.9"/>
<line x1="824.09" y1="662.00" x2="824.09" y2="656.00" stroke="#000" stroke-width="1.9"/>
<line x1="590.36" y1="662.00" x2="590.36" y2="658.60" stroke="#000" stroke-width="1.9"/>
<line x1="746.18" y1="662.00" x2="746.18" y2="658.60" stroke="#000" stroke-width="1.9"/>
<text x="512.45" y="681.50" font-size="15.5" text-anchor="middle" >0</text>
<text x="668.27" y="681.50" font-size="15.5" text-anchor="middle" >2</text>
<text x="824.09" y="681.50" font-size="15.5" text-anchor="middle" >4</text>
<text transform="translate(460.50,527.00) rotate(-90)" font-size="20.3" text-anchor="middle">Asymmetry</text>
<text x="667.97" y="714.40" font-size="20.6" text-anchor="middle" >t (µs)</text>
<text x="489.40" y="376.40" font-size="15" text-anchor="start" font-weight="bold" >d</text>
<text x="710.20" y="419.10" font-size="14.5" text-anchor="start" >1.74 GPa</text>
<path d="M714.1,429.2l2.4,4.5l-4.8,0z" fill="#ffff00" stroke="#55551a" stroke-width="0.6"/>
<circle cx="714.1" cy="449.7" r="1.8" fill="#800080" stroke="#3a0050" stroke-width="0.5"/>
<text x="734.20" y="436.90" font-size="14.5" text-anchor="start" >10 K</text>
<text x="734.20" y="454.80" font-size="14.5" text-anchor="start" >0.27 K</text>
</svg>
</body></html>
